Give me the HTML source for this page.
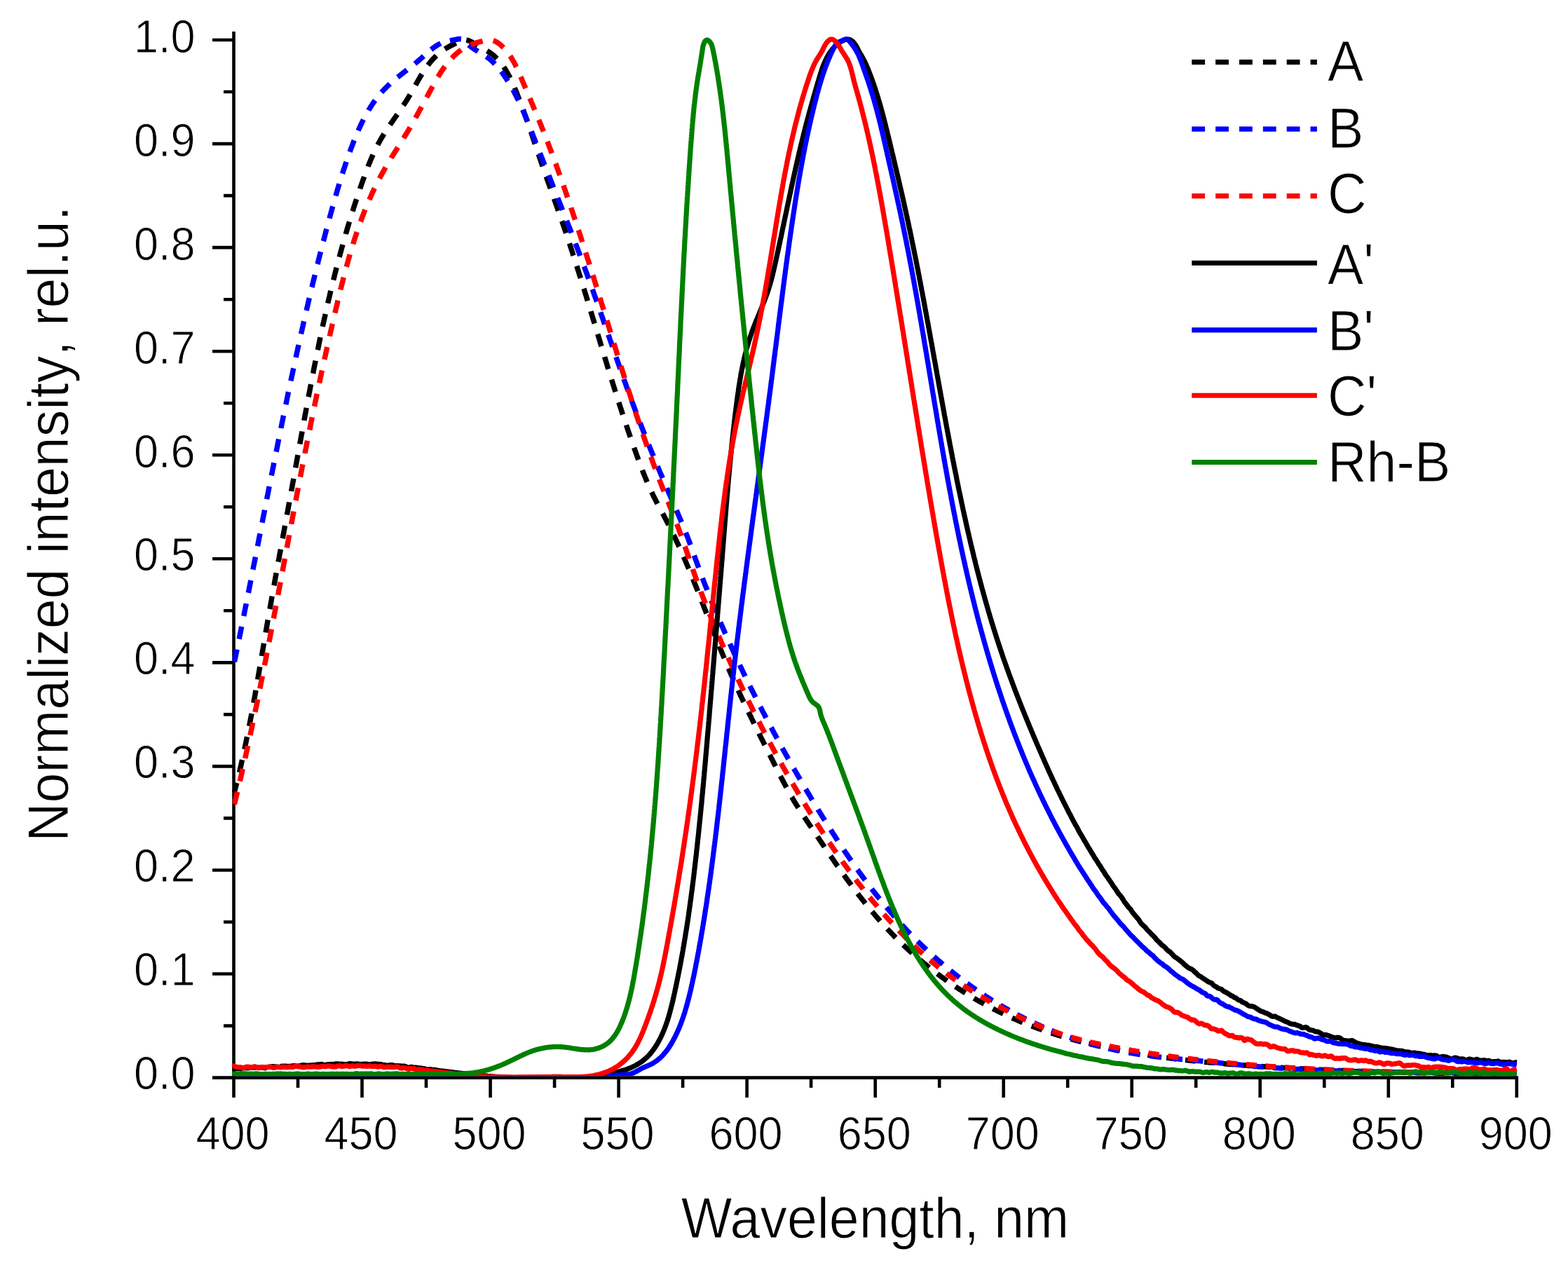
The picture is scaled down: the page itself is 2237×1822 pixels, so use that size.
<!DOCTYPE html>
<html lang="en"><head><meta charset="utf-8"><title>Normalized intensity spectra</title>
<style>html,body{margin:0;padding:0;background:#fff}body{width:2237px;height:1822px;overflow:hidden}svg{display:block}text{font-family:"Liberation Sans",Arial,Helvetica,sans-serif;fill:#000;font-kerning:none;stroke:#fff;stroke-width:0.9px;stroke-linejoin:round}.tk{font-size:63px}.tt{font-size:77px}.lg{font-size:77px}</style></head><body>
<svg xmlns="http://www.w3.org/2000/svg" width="2237" height="1822" viewBox="0 0 2237 1822">
<rect width="2237" height="1822" fill="#fff"/>
<g stroke="#000" stroke-width="4.6" fill="none" stroke-linecap="butt"><path d="M333.5 45.0 V1539.9"/><path d="M331.2 1537.6 H2166.1"/><path d="M333.5 1537.6H303.0M333.5 1463.6H319.0M333.5 1389.5H303.0M333.5 1315.5H319.0M333.5 1241.5H303.0M333.5 1167.4H319.0M333.5 1093.4H303.0M333.5 1019.4H319.0M333.5 945.4H303.0M333.5 871.3H319.0M333.5 797.3H303.0M333.5 723.3H319.0M333.5 649.2H303.0M333.5 575.2H319.0M333.5 501.2H303.0M333.5 427.2H319.0M333.5 353.1H303.0M333.5 279.1H319.0M333.5 205.1H303.0M333.5 131.0H319.0M333.5 57.0H303.0M333.5 1537.6V1566.1M425.0 1537.6V1552.1M516.5 1537.6V1566.1M608.0 1537.6V1552.1M699.6 1537.6V1566.1M791.1 1537.6V1552.1M882.6 1537.6V1566.1M974.1 1537.6V1552.1M1065.6 1537.6V1566.1M1157.1 1537.6V1552.1M1248.7 1537.6V1566.1M1340.2 1537.6V1552.1M1431.7 1537.6V1566.1M1523.2 1537.6V1552.1M1614.7 1537.6V1566.1M1706.2 1537.6V1552.1M1797.7 1537.6V1566.1M1889.3 1537.6V1552.1M1980.8 1537.6V1566.1M2072.3 1537.6V1552.1M2163.8 1537.6V1566.1"/></g>
<defs><clipPath id="plotclip"><rect x="331.2" y="30" width="1833.0" height="1505.3"/></clipPath></defs>
<g fill="none" stroke-width="7.2" stroke-linejoin="round" stroke-linecap="butt" clip-path="url(#plotclip)">
<path stroke="#000000" stroke-width="7.5" d="M334.0 1131.0L334.7 1129.1L335.2 1127.2L335.7 1125.2L336.2 1123.3L336.7 1121.4L337.2 1119.4L337.8 1117.0M341.5 1101.9L341.9 1100.0L342.4 1098.1L342.8 1096.1L343.3 1094.2L343.7 1092.2L344.2 1090.3L344.6 1088.3L345.0 1086.4L345.5 1084.2M348.8 1069.1L349.1 1067.8L349.5 1065.9L349.9 1063.9L350.3 1062.0L350.7 1060.0L351.1 1058.0L351.5 1056.1L351.9 1054.1L352.5 1051.3M355.5 1036.0L355.8 1034.5L356.2 1032.6L356.6 1030.6L357.0 1028.6L357.4 1026.7L357.7 1024.7L358.1 1022.7L358.5 1020.8L359.0 1018.1M361.8 1002.8L362.1 1001.1L362.4 999.1L362.8 997.2L363.2 995.2L363.5 993.2L363.9 991.2L364.2 989.3L364.6 987.3L365.0 984.8M367.7 969.5L368.0 967.6L368.3 965.6L368.7 963.6L369.0 961.7L369.4 959.7L369.7 957.7L370.0 955.8L370.4 953.8L370.8 951.4M373.4 936.0L373.7 934.1L374.1 932.1L374.4 930.1L374.7 928.1L375.1 926.2L375.4 924.2L375.7 922.2L376.1 920.2L376.5 917.9M379.1 902.5L379.4 900.5L379.8 898.6L380.1 896.6L380.5 894.6L380.8 892.6L381.1 890.7L381.5 888.7L381.8 886.7L382.2 884.4M384.9 868.9L385.3 867.0L385.6 865.1L386.0 863.1L386.3 861.1L386.7 859.2L387.0 857.2L387.4 855.2L387.7 853.3L388.2 850.8M390.9 835.4L391.3 833.6L391.6 831.6L392.0 829.6L392.3 827.7L392.7 825.7L393.0 823.7L393.4 821.8L393.8 819.8L394.2 817.3M397.0 801.8L397.3 800.2L397.7 798.2L398.1 796.2L398.4 794.3L398.8 792.3L399.1 790.3L399.5 788.4L399.9 786.4L400.4 783.7M403.2 768.2L403.5 766.7L403.8 764.8L404.2 762.8L404.6 760.8L404.9 758.9L405.3 756.9L405.7 755.0L406.0 753.0L406.6 750.1M409.4 734.6L409.6 733.3L410.0 731.4L410.4 729.4L410.7 727.4L411.1 725.5L411.4 723.5L411.8 721.5L412.2 719.6L412.7 716.5M415.6 701.0L415.9 698.9L416.3 696.9L416.7 695.0L417.0 693.0L417.4 691.0L417.7 689.1L418.1 687.1L418.5 685.1L418.9 682.8M421.7 667.3L422.0 665.5L422.4 663.5L422.7 661.5L423.1 659.5L423.4 657.6L423.8 655.6L424.1 653.6L424.5 651.7L425.0 649.1M427.8 633.7L428.1 632.0L428.4 630.0L428.8 628.0L429.1 626.1L429.5 624.1L429.8 622.1L430.2 620.2L430.6 618.2L431.0 615.5M433.9 600.0L434.1 598.5L434.5 596.5L434.9 594.6L435.2 592.6L435.6 590.6L436.0 588.7L436.3 586.7L436.7 584.7L437.2 581.9M440.1 566.4L440.4 565.1L440.7 563.1L441.1 561.1L441.5 559.2L441.9 557.2L442.2 555.2L442.6 553.3L443.0 551.3L443.6 548.3M446.5 532.8L446.8 531.6L447.2 529.7L447.5 527.7L447.9 525.8L448.3 523.8L448.7 521.8L449.1 519.9L449.5 517.9L449.9 515.9L450.1 514.7M453.2 499.3L453.7 497.3L454.1 495.4L454.5 493.4L454.9 491.4L455.3 489.5L455.7 487.5L456.1 485.6L456.5 483.6L457.0 481.3M460.3 466.0L460.7 464.1L461.1 462.1L461.5 460.2L462.0 458.2L462.4 456.3L462.8 454.3L463.3 452.3L463.7 450.4L464.2 448.0M467.7 432.7L468.1 430.9L468.6 429.0L469.0 427.0L469.5 425.1L470.0 423.1L470.4 421.2L470.9 419.2L471.3 417.3L471.9 414.8M475.7 399.6L476.1 397.9L476.6 395.9L477.1 394.0L477.5 392.1L478.0 390.1L478.5 388.2L479.0 386.3L479.5 384.3L480.2 381.8M484.1 366.7L484.6 365.0L485.1 363.1L485.6 361.1L486.2 359.2L486.7 357.3L487.2 355.4L487.7 353.4L488.3 351.5L489.0 349.0M493.3 334.0L493.7 332.3L494.3 330.4L494.9 328.5L495.4 326.5L496.0 324.6L496.6 322.7L497.1 320.8L497.7 318.9L498.5 316.4M503.0 301.5L503.6 299.8L504.2 297.9L504.8 295.9L505.4 294.0L506.0 292.1L506.6 290.2L507.3 288.3L507.9 286.4L508.6 284.1M513.6 269.4L514.2 267.4L514.9 265.5L515.5 263.7L516.2 261.8L516.9 259.9L517.5 258.0L518.2 256.1L518.9 254.2L519.6 252.1M525.1 237.6L525.5 236.4L526.3 234.5L527.0 232.7L527.8 230.8L528.5 229.0L529.3 227.1L530.1 225.3L530.9 223.5L532.1 220.8M538.9 206.8L539.5 205.6L540.4 203.8L541.4 202.1L542.4 200.3L543.3 198.6L544.3 196.9L545.4 195.2L546.4 193.5L547.9 191.0M556.4 178.1L557.3 176.8L558.4 175.2L559.6 173.6L560.7 171.9L561.8 170.3L563.0 168.6L564.1 167.0L565.3 165.3L566.8 163.1M575.5 150.3L576.6 148.7L577.7 147.0L578.8 145.3L579.9 143.6L580.9 141.9L582.0 140.2L583.0 138.5L584.1 136.7L585.1 134.9M592.8 121.5L593.6 120.0L594.6 118.2L595.6 116.5L596.6 114.7L597.6 113.0L598.6 111.2L599.6 109.5L600.7 107.8L601.9 105.8M610.5 93.0L611.8 91.4L613.0 89.8L614.2 88.3L615.5 86.8L616.8 85.3L618.1 83.9L619.4 82.5L620.8 81.1L622.5 79.4M634.7 70.0L636.5 68.9L638.2 67.9L640.0 66.9L641.8 65.9L643.6 64.9L645.5 64.0L647.3 63.1L649.2 62.2L650.7 61.5M665.3 57.0L666.7 57.3L668.6 57.9L670.4 58.7L672.2 59.6L674.0 60.6L675.8 61.6L677.5 62.6L679.3 63.6L681.5 64.9M694.9 72.5L696.0 73.2L697.7 74.3L699.3 75.4L700.9 76.5L702.5 77.7L704.0 78.9L705.5 80.2L706.9 81.5L709.1 83.6M718.8 95.6L719.5 96.7L720.6 98.4L721.6 100.1L722.6 101.8L723.7 103.6L724.6 105.3L725.6 107.1L726.6 108.9L727.8 111.3M734.2 125.4L734.7 126.7L735.5 128.6L736.3 130.5L737.1 132.4L737.8 134.3L738.6 136.2L739.3 138.1L740.1 140.0L740.9 142.2M746.4 156.6L746.9 158.0L747.6 159.9L748.2 161.7L748.9 163.6L749.6 165.5L750.3 167.4L750.9 169.3L751.6 171.1L752.5 173.7M757.5 188.3L758.1 189.9L758.7 191.8L759.3 193.6L760.0 195.5L760.6 197.4L761.2 199.2L761.9 201.1L762.5 203.0L763.3 205.5M768.3 220.1L768.8 221.7L769.4 223.6L770.1 225.4L770.7 227.3L771.4 229.2L772.0 231.1L772.6 233.0L773.3 234.8L774.1 237.3M779.2 251.9L779.9 253.6L780.5 255.5L781.2 257.4L781.9 259.3L782.5 261.2L783.2 263.0L783.9 264.9L784.5 266.8L785.3 269.0M790.5 283.6L790.9 284.8L791.6 286.6L792.2 288.5L792.9 290.4L793.6 292.3L794.2 294.2L794.9 296.1L795.6 298.0L796.5 300.7M801.6 315.4L802.2 316.9L802.8 318.8L803.5 320.7L804.1 322.6L804.8 324.5L805.4 326.4L806.1 328.3L806.7 330.2L807.5 332.6M812.4 347.3L813.1 349.2L813.7 351.1L814.3 353.0L814.9 355.0L815.6 356.9L816.2 358.8L816.8 360.7L817.4 362.6L818.1 364.7M822.8 379.5L823.2 380.7L823.8 382.6L824.4 384.5L825.0 386.4L825.6 388.3L826.2 390.2L826.8 392.1L827.4 394.0L828.3 396.9M832.9 411.7L833.4 413.1L834.0 415.0L834.5 416.9L835.1 418.8L835.7 420.7L836.3 422.6L836.9 424.6L837.5 426.5L838.3 429.2M842.9 444.1L843.3 445.6L843.9 447.5L844.5 449.4L845.0 451.3L845.6 453.2L846.2 455.1L846.8 457.0L847.4 458.9L848.2 461.6M852.7 476.6L853.2 478.1L853.7 480.0L854.3 481.9L854.9 483.8L855.5 485.7L856.0 487.6L856.6 489.5L857.2 491.4L858.0 494.1M862.6 509.1L863.0 510.6L863.6 512.5L864.2 514.4L864.8 516.3L865.4 518.2L865.9 520.1L866.5 522.0L867.1 523.9L867.9 526.6M872.6 541.5L873.0 543.0L873.6 545.0L874.2 546.9L874.8 548.8L875.4 550.7L876.0 552.6L876.6 554.5L877.2 556.4L878.1 559.1M882.8 574.0L883.3 575.5L883.9 577.4L884.5 579.3L885.1 581.2L885.8 583.1L886.4 585.0L887.0 586.9L887.6 588.8L888.5 591.5M893.5 606.4L893.9 607.8L894.6 609.7L895.2 611.6L895.8 613.5L896.5 615.4L897.1 617.2L897.8 619.1L898.4 621.0L899.4 623.8M904.6 638.7L905.0 639.9L905.7 641.8L906.4 643.7L907.0 645.6L907.7 647.4L908.4 649.3L909.1 651.2L909.8 653.1L910.8 656.0M916.4 670.7L917.1 672.7L917.9 674.6L918.6 676.4L919.4 678.3L920.1 680.1L920.9 682.0L921.6 683.8L922.4 685.7L923.3 687.8M929.7 702.2L930.5 703.9L931.4 705.7L932.2 707.5L933.1 709.3L934.0 711.1L934.9 712.8L935.8 714.6L936.7 716.4L938.0 718.8M945.4 732.7L946.2 734.1L947.1 735.8L948.0 737.6L949.0 739.4L949.9 741.1L950.8 742.9L951.8 744.7L952.7 746.5L954.0 749.1M961.0 763.2L961.6 764.4L962.4 766.2L963.3 768.0L964.1 769.8L965.0 771.6L965.8 773.4L966.7 775.2L967.5 777.0L968.3 778.8L968.9 780.0M975.3 794.4L976.1 796.2L976.9 798.0L977.7 799.9L978.4 801.7L979.2 803.5L980.0 805.4L980.8 807.2L981.6 809.1L982.6 811.5M988.6 826.1L989.2 827.5L989.9 829.4L990.7 831.3L991.4 833.1L992.2 835.0L992.9 836.8L993.7 838.7L994.4 840.5L995.5 843.3M1001.3 858.0L1001.7 859.2L1002.4 861.0L1003.2 862.9L1003.9 864.8L1004.6 866.6L1005.3 868.5L1006.1 870.4L1006.8 872.2L1007.5 874.1L1008.0 875.3M1013.7 890.0L1014.4 891.8L1015.1 893.7L1015.8 895.5L1016.6 897.4L1017.3 899.3L1018.0 901.1L1018.7 903.0L1019.5 904.9L1020.4 907.3M1026.3 922.0L1026.8 923.4L1027.6 925.3L1028.3 927.2L1029.1 929.0L1029.8 930.9L1030.6 932.7L1031.3 934.6L1032.1 936.4L1033.2 939.1M1039.3 953.7L1039.8 954.8L1040.6 956.7L1041.4 958.5L1042.2 960.3L1043.0 962.2L1043.8 964.0L1044.6 965.8L1045.4 967.6L1046.2 969.5L1046.7 970.6M1053.2 985.0L1054.0 986.7L1054.9 988.6L1055.7 990.4L1056.5 992.2L1057.4 994.0L1058.2 995.8L1059.1 997.6L1059.9 999.4L1061.0 1001.7M1067.8 1015.9L1068.5 1017.4L1069.4 1019.2L1070.3 1021.0L1071.2 1022.8L1072.0 1024.6L1072.9 1026.4L1073.8 1028.2L1074.7 1030.0L1075.9 1032.5M1082.9 1046.5L1083.5 1047.9L1084.4 1049.7L1085.3 1051.5L1086.2 1053.2L1087.1 1055.0L1088.0 1056.8L1088.9 1058.6L1089.8 1060.4L1091.1 1063.0M1098.1 1077.0L1098.8 1078.3L1099.7 1080.1L1100.6 1081.9L1101.5 1083.6L1102.4 1085.4L1103.3 1087.2L1104.2 1089.0L1105.1 1090.8L1106.4 1093.4M1113.4 1107.3L1114.1 1108.7L1115.1 1110.5L1116.0 1112.2L1116.9 1114.0L1117.8 1115.8L1118.8 1117.5L1119.7 1119.3L1120.7 1121.1L1122.0 1123.5M1129.5 1137.1L1130.4 1138.5L1131.4 1140.2L1132.4 1142.0L1133.4 1143.7L1134.5 1145.4L1135.5 1147.1L1136.5 1148.8L1137.6 1150.5L1139.0 1152.6M1147.4 1165.6L1148.5 1167.2L1149.6 1168.8L1150.7 1170.5L1151.8 1172.1L1152.9 1173.8L1154.0 1175.5L1155.1 1177.1L1156.3 1178.8L1157.6 1180.7M1166.2 1193.5L1166.8 1194.5L1168.0 1196.2L1169.1 1197.9L1170.2 1199.5L1171.3 1201.2L1172.4 1202.8L1173.6 1204.5L1174.7 1206.1L1176.3 1208.5M1184.9 1221.2L1186.0 1222.7L1187.1 1224.3L1188.2 1226.0L1189.4 1227.6L1190.5 1229.3L1191.6 1230.9L1192.8 1232.6L1193.9 1234.2L1195.2 1236.0M1204.0 1248.4L1204.9 1249.7L1206.1 1251.3L1207.3 1253.0L1208.4 1254.6L1209.6 1256.2L1210.8 1257.8L1212.0 1259.4L1213.2 1261.0L1214.5 1262.9M1223.7 1275.0L1224.6 1276.2L1225.8 1277.8L1227.0 1279.4L1228.3 1280.9L1229.5 1282.5L1230.7 1284.1L1232.0 1285.6L1233.2 1287.2L1234.6 1289.0M1244.2 1300.7L1245.2 1301.9L1246.5 1303.4L1247.8 1304.9L1249.1 1306.4L1250.4 1308.0L1251.7 1309.5L1253.0 1311.0L1254.3 1312.5L1255.7 1314.1M1265.8 1325.2L1267.0 1326.5L1268.4 1328.0L1269.8 1329.4L1271.2 1330.9L1272.6 1332.3L1273.9 1333.7L1275.3 1335.1L1276.7 1336.6L1277.9 1337.8M1288.6 1348.2L1289.6 1349.1L1291.0 1350.5L1292.5 1351.9L1294.0 1353.2L1295.4 1354.6L1296.9 1356.0L1298.4 1357.3L1299.9 1358.6L1301.3 1359.9M1312.5 1369.6L1313.5 1370.5L1315.0 1371.7L1316.5 1373.0L1318.1 1374.3L1319.6 1375.6L1321.2 1376.8L1322.7 1378.1L1324.3 1379.3L1325.8 1380.5M1337.3 1389.4L1338.6 1390.4L1340.2 1391.6L1341.8 1392.8L1343.4 1393.9L1345.0 1395.1L1346.6 1396.3L1348.3 1397.5L1349.9 1398.6L1351.1 1399.5M1363.1 1407.7L1364.8 1408.8L1366.5 1409.9L1368.1 1411.0L1369.8 1412.1L1371.5 1413.2L1373.2 1414.3L1374.9 1415.3L1377.3 1416.8M1389.5 1424.2L1391.1 1425.2L1392.9 1426.2L1394.6 1427.2L1396.4 1428.2L1398.1 1429.2L1399.8 1430.2L1401.6 1431.1L1404.0 1432.5M1416.5 1439.1L1418.4 1440.1L1420.1 1441.0L1421.9 1441.9L1423.7 1442.8L1425.5 1443.7L1427.3 1444.6L1429.1 1445.4L1431.3 1446.5M1443.9 1452.3L1445.4 1453.0L1447.2 1453.8L1449.1 1454.6L1450.9 1455.4L1452.7 1456.2L1454.6 1457.0L1456.4 1457.7L1458.9 1458.8M1471.7 1463.9L1473.1 1464.4L1475.0 1465.1L1476.8 1465.8L1478.7 1466.5L1480.6 1467.2L1482.5 1467.9L1484.3 1468.5L1486.8 1469.4M1499.7 1473.8L1501.3 1474.3L1503.2 1475.0L1505.1 1475.6L1507.0 1476.2L1508.9 1476.8L1510.8 1477.4L1512.7 1478.0L1514.8 1478.6M1527.6 1482.3L1529.0 1482.7L1530.9 1483.3L1532.9 1483.8L1534.8 1484.3L1536.7 1484.8L1538.7 1485.3L1540.6 1485.8L1542.7 1486.4M1555.5 1489.6L1557.1 1490.0L1559.0 1490.4L1561.0 1490.9L1562.9 1491.3L1564.9 1491.8L1566.8 1492.2L1568.8 1492.7L1570.4 1493.0M1583.1 1495.8L1584.4 1496.0L1586.4 1496.4L1588.3 1496.8L1590.3 1497.2L1592.3 1497.6L1594.2 1498.0L1596.2 1498.4L1597.9 1498.7M1610.4 1501.0L1611.9 1501.2L1613.9 1501.6L1615.9 1501.9L1617.9 1502.3L1619.8 1502.6L1621.8 1502.9L1623.8 1503.2L1625.0 1503.5M1637.4 1505.4L1638.6 1505.6L1640.6 1505.9L1642.5 1506.2L1644.5 1506.5L1646.5 1506.7L1648.5 1507.0L1650.5 1507.3L1651.7 1507.5M1664.1 1509.2L1665.3 1509.3L1667.3 1509.6L1669.3 1509.8L1671.3 1510.1L1673.2 1510.3L1675.2 1510.6L1677.2 1510.8L1678.6 1511.0M1691.0 1512.4L1693.1 1512.6L1695.1 1512.9L1697.1 1513.1L1699.1 1513.3L1701.1 1513.5L1703.0 1513.7L1705.5 1514.0M1718.0 1515.2L1720.0 1515.4L1721.9 1515.6L1723.9 1515.7L1725.9 1515.9L1727.9 1516.1L1729.9 1516.3L1732.6 1516.5M1745.1 1517.6L1746.9 1517.7L1748.8 1517.9L1750.8 1518.1L1752.8 1518.2L1754.8 1518.4L1756.8 1518.5L1759.8 1518.8M1772.3 1519.7L1773.8 1519.8L1775.8 1519.9L1777.8 1520.1L1779.8 1520.2L1781.8 1520.4L1783.8 1520.5L1785.7 1520.6L1787.0 1520.7M1799.6 1521.6L1801.7 1521.7L1803.7 1521.8L1805.7 1522.0L1807.7 1522.1L1809.7 1522.2L1811.7 1522.3L1814.3 1522.5M1826.9 1523.2L1828.7 1523.3L1830.7 1523.5L1832.7 1523.6L1834.6 1523.7L1836.6 1523.8L1838.6 1523.9L1841.7 1524.1M1854.2 1524.8L1855.6 1524.8L1857.6 1524.9L1859.6 1525.0L1861.6 1525.1L1863.6 1525.2L1865.6 1525.3L1867.6 1525.4L1869.0 1525.5M1881.6 1526.1L1883.6 1526.2L1885.6 1526.3L1887.6 1526.4L1889.6 1526.5L1891.6 1526.6L1893.6 1526.6L1896.4 1526.8M1909.0 1527.3L1910.5 1527.4L1912.5 1527.4L1914.5 1527.5L1916.5 1527.6L1918.5 1527.7L1920.5 1527.8L1922.5 1527.8L1923.8 1527.9M1936.5 1528.3L1938.5 1528.4L1940.5 1528.5L1942.5 1528.5L1944.5 1528.6L1946.5 1528.7L1948.5 1528.7L1951.3 1528.8M1963.9 1529.2L1965.5 1529.3L1967.5 1529.3L1969.5 1529.4L1971.5 1529.5L1973.5 1529.5L1975.5 1529.6L1977.5 1529.6L1978.7 1529.7M1991.4 1530.0L1993.5 1530.0L1995.5 1530.1L1997.5 1530.1L1999.5 1530.2L2001.5 1530.2L2003.5 1530.3L2006.2 1530.3M2018.8 1530.6L2020.5 1530.6L2022.5 1530.7L2024.5 1530.7L2026.5 1530.7L2028.5 1530.8L2030.5 1530.8L2033.6 1530.9M2046.3 1531.1L2048.5 1531.1L2050.5 1531.1L2052.5 1531.2L2054.5 1531.2L2056.5 1531.2L2058.5 1531.3L2061.1 1531.3M2073.8 1531.5L2075.5 1531.5L2077.5 1531.5L2079.5 1531.5L2081.5 1531.5L2083.5 1531.6L2085.5 1531.6L2088.6 1531.6M2101.3 1531.7L2102.5 1531.7L2104.5 1531.7L2106.5 1531.7L2108.5 1531.7L2110.5 1531.8L2112.5 1531.8L2114.5 1531.8L2116.1 1531.8M2128.7 1531.8L2130.5 1531.8L2132.5 1531.9L2134.5 1531.9L2136.5 1531.9L2138.5 1531.9L2140.5 1531.9L2143.6 1531.9M2156.2 1531.9L2157.5 1531.9L2159.5 1531.9L2161.5 1531.9L2164.0 1532.0"/>
<path stroke="#0000ff" stroke-width="7.5" d="M334.4 944.2L334.9 942.1L335.3 940.1L335.7 938.2L336.1 936.2L336.5 934.3L336.9 932.3L337.3 930.4L337.7 928.4L338.0 926.7M341.1 911.7L341.5 909.8L341.9 907.8L342.3 905.9L342.7 903.9L343.1 901.9L343.5 900.0L343.9 898.0L344.3 896.1L344.7 894.0M347.7 878.9L348.0 877.4L348.4 875.5L348.8 873.5L349.2 871.6L349.6 869.6L350.0 867.6L350.4 865.7L350.8 863.7L351.3 861.1M354.3 845.9L354.7 844.1L355.1 842.1L355.4 840.2L355.8 838.2L356.2 836.3L356.6 834.3L357.0 832.3L357.4 830.4L357.9 828.0M360.9 812.7L361.3 810.8L361.6 808.8L362.0 806.8L362.4 804.9L362.8 802.9L363.2 800.9L363.6 799.0L364.0 797.0L364.4 794.6M367.4 779.3L367.8 777.4L368.2 775.4L368.6 773.5L369.0 771.5L369.4 769.5L369.7 767.6L370.1 765.6L370.5 763.7L371.0 761.2M374.0 745.8L374.4 744.0L374.7 742.1L375.1 740.1L375.5 738.1L375.9 736.2L376.3 734.2L376.7 732.3L377.1 730.3L377.6 727.6M380.6 712.2L380.9 710.7L381.3 708.7L381.7 706.7L382.1 704.8L382.5 702.8L382.9 700.9L383.2 698.9L383.6 696.9L384.2 694.0M387.3 678.5L387.7 676.3L388.1 674.4L388.5 672.4L388.9 670.5L389.3 668.5L389.7 666.5L390.1 664.6L390.4 662.6L390.9 660.3M394.0 644.7L394.4 643.0L394.8 641.0L395.2 639.1L395.6 637.1L396.0 635.2L396.3 633.2L396.7 631.2L397.1 629.3L397.7 626.5M400.9 611.0L401.1 609.7L401.5 607.7L401.9 605.8L402.3 603.8L402.7 601.8L403.1 599.9L403.5 597.9L403.9 596.0L404.3 594.0L404.6 592.8M407.8 577.3L408.2 575.4L408.6 573.4L409.0 571.5L409.4 569.5L409.8 567.6L410.2 565.6L410.6 563.7L411.0 561.7L411.6 559.1M414.9 543.6L415.2 542.1L415.6 540.2L416.0 538.2L416.4 536.3L416.9 534.3L417.3 532.4L417.7 530.4L418.1 528.4L418.8 525.4M422.1 510.0L422.6 507.9L423.0 506.0L423.4 504.0L423.8 502.1L424.3 500.1L424.7 498.2L425.1 496.2L425.6 494.3L426.1 491.9M429.5 476.5L429.9 474.7L430.3 472.8L430.8 470.8L431.2 468.9L431.7 466.9L432.1 465.0L432.5 463.0L433.0 461.1L433.6 458.4M437.1 443.1L437.5 441.6L437.9 439.6L438.4 437.7L438.8 435.8L439.3 433.8L439.7 431.9L440.2 429.9L440.6 428.0L441.3 425.2M444.9 409.9L445.3 408.5L445.7 406.6L446.2 404.6L446.7 402.7L447.1 400.7L447.6 398.8L448.1 396.9L448.6 394.9L449.3 392.1M453.0 376.9L453.4 375.5L453.8 373.6L454.3 371.6L454.8 369.7L455.3 367.7L455.8 365.8L456.3 363.9L456.8 361.9L457.5 359.2M461.3 344.2L461.8 342.6L462.3 340.6L462.8 338.7L463.3 336.8L463.8 334.8L464.3 332.9L464.8 331.0L465.3 329.0L466.0 326.6M470.0 311.7L470.5 309.7L471.0 307.8L471.6 305.8L472.1 303.9L472.6 302.0L473.2 300.1L473.7 298.1L474.2 296.2L474.8 294.3M478.9 279.5L479.4 277.9L480.0 276.0L480.5 274.1L481.1 272.2L481.6 270.2L482.2 268.3L482.8 266.4L483.4 264.5L484.0 262.3M488.5 247.8L489.0 246.3L489.6 244.4L490.2 242.5L490.8 240.6L491.5 238.7L492.1 236.8L492.7 234.9L493.4 233.0L494.1 230.9M499.1 216.7L499.7 215.1L500.3 213.2L501.0 211.3L501.8 209.4L502.5 207.6L503.2 205.7L503.9 203.8L504.6 201.9L505.3 200.2M511.1 186.4L511.9 184.4L512.8 182.5L513.6 180.7L514.4 178.9L515.3 177.1L516.2 175.3L517.0 173.5L517.9 171.8L518.5 170.6M525.7 157.6L526.5 156.1L527.6 154.5L528.6 152.8L529.7 151.1L530.8 149.5L531.9 147.8L533.0 146.2L534.1 144.6L535.1 143.2M544.3 131.7L545.2 130.7L546.5 129.3L547.9 127.8L549.3 126.4L550.7 125.0L552.1 123.6L553.5 122.2L555.0 120.9L556.3 119.6M567.3 110.2L568.8 109.1L570.4 107.8L572.0 106.5L573.6 105.3L575.2 104.0L576.8 102.8L578.4 101.5L580.6 99.8M591.8 90.9L592.8 90.1L594.4 88.8L595.9 87.5L597.5 86.2L599.0 84.9L600.6 83.5L602.1 82.2L604.4 80.1M615.0 70.8L616.4 69.7L617.9 68.5L619.5 67.4L621.1 66.3L622.7 65.2L624.3 64.2L626.0 63.3L628.7 61.9M641.9 58.1L643.9 57.7L645.9 57.3L648.0 56.9L650.1 56.5L652.2 56.0L654.2 55.7L656.1 55.6L657.9 55.8M668.6 64.2L669.7 65.1L671.3 66.3L672.9 67.6L674.6 68.7L676.3 69.9L678.0 70.9L679.7 72.0L682.0 73.4M693.7 80.7L694.9 81.5L696.5 82.7L698.0 83.9L699.6 85.1L701.1 86.4L702.5 87.8L704.0 89.1L706.1 91.3M715.2 102.0L716.3 103.5L717.4 105.1L718.6 106.8L719.7 108.4L720.8 110.1L722.0 111.7L723.0 113.4L724.5 115.8M731.8 128.1L732.6 129.7L733.6 131.4L734.5 133.2L735.4 135.0L736.3 136.7L737.2 138.5L738.1 140.3L739.0 142.1L739.6 143.4M745.7 156.8L746.4 158.5L747.2 160.3L748.0 162.1L748.8 164.0L749.5 165.8L750.3 167.7L751.0 169.5L751.8 171.4L752.5 173.1M758.1 187.2L758.8 189.1L759.5 191.0L760.3 192.8L761.0 194.7L761.7 196.6L762.5 198.4L763.2 200.3L763.9 202.2L764.6 204.0M770.3 218.4L770.9 219.9L771.6 221.7L772.4 223.6L773.1 225.5L773.8 227.3L774.6 229.2L775.3 231.1L776.0 232.9L777.1 235.5M782.9 250.1L783.4 251.5L784.2 253.4L784.9 255.2L785.6 257.1L786.4 259.0L787.1 260.8L787.9 262.7L788.6 264.5L789.7 267.5M795.6 282.3L796.3 284.1L797.1 285.9L797.8 287.8L798.5 289.6L799.3 291.5L800.0 293.3L800.7 295.2L801.5 297.1L802.5 299.8M808.4 314.7L809.1 316.6L809.9 318.5L810.6 320.3L811.3 322.2L812.0 324.0L812.8 325.9L813.5 327.8L814.2 329.6L815.2 332.3M821.0 347.3L821.7 349.2L822.4 351.1L823.2 352.9L823.9 354.8L824.6 356.7L825.3 358.5L826.0 360.4L826.7 362.3L827.7 365.0M833.3 380.1L834.0 381.9L834.7 383.8L835.4 385.7L836.1 387.6L836.8 389.4L837.5 391.3L838.2 393.2L838.8 395.1L839.8 397.8M845.2 412.8L845.9 414.8L846.6 416.7L847.3 418.6L847.9 420.5L848.6 422.4L849.3 424.2L849.9 426.1L850.6 428.0L851.5 430.4M856.7 445.4L857.2 446.9L857.9 448.8L858.5 450.7L859.2 452.6L859.9 454.4L860.5 456.3L861.2 458.2L861.8 460.1L862.8 462.8M867.9 477.5L868.4 479.0L869.0 480.9L869.7 482.8L870.3 484.7L871.0 486.6L871.7 488.5L872.3 490.4L873.0 492.3L873.8 494.8M878.9 509.3L879.5 511.2L880.2 513.0L880.9 514.9L881.5 516.8L882.2 518.7L882.9 520.6L883.5 522.5L884.2 524.4L884.9 526.4M890.0 540.8L890.5 542.3L891.2 544.2L891.9 546.0L892.6 547.9L893.2 549.8L893.9 551.7L894.6 553.6L895.3 555.5L896.1 557.7M901.4 572.1L901.8 573.3L902.5 575.2L903.2 577.0L903.9 578.9L904.6 580.8L905.3 582.7L906.0 584.5L906.7 586.4L907.6 588.9M913.1 603.1L913.9 605.1L914.6 606.9L915.3 608.8L916.0 610.7L916.8 612.5L917.5 614.4L918.2 616.3L919.0 618.1L919.7 619.9M925.4 634.2L926.0 635.8L926.7 637.6L927.5 639.5L928.2 641.3L929.0 643.2L929.8 645.0L930.5 646.9L931.3 648.7L932.2 650.9M938.1 665.2L938.9 667.2L939.7 669.1L940.5 670.9L941.2 672.7L942.0 674.6L942.8 676.4L943.6 678.3L944.4 680.1L945.2 682.1M951.3 696.4L951.8 697.6L952.6 699.4L953.4 701.2L954.2 703.1L955.0 704.9L955.8 706.8L956.6 708.6L957.4 710.4L958.2 712.3L958.7 713.4M965.0 727.9L965.8 729.7L966.6 731.5L967.3 733.4L968.1 735.2L968.9 737.0L969.7 738.9L970.5 740.7L971.3 742.6L972.3 745.0M978.3 759.8L978.8 761.1L979.5 762.9L980.2 764.8L981.0 766.6L981.7 768.5L982.4 770.4L983.1 772.2L983.8 774.1L984.5 776.0L985.0 777.4M990.4 792.4L990.9 793.8L991.5 795.7L992.2 797.6L992.9 799.5L993.6 801.3L994.2 803.2L994.9 805.1L995.6 807.0L996.3 808.8L996.7 810.0M1002.2 824.8L1002.9 826.6L1003.6 828.5L1004.3 830.4L1005.1 832.2L1005.8 834.1L1006.5 836.0L1007.2 837.8L1008.0 839.7L1008.9 842.0M1014.7 856.6L1015.4 858.2L1016.1 860.1L1016.9 862.0L1017.6 863.8L1018.4 865.7L1019.2 867.5L1019.9 869.3L1020.7 871.2L1021.7 873.5M1027.7 887.7L1028.5 889.6L1029.3 891.5L1030.1 893.3L1030.9 895.1L1031.7 897.0L1032.5 898.8L1033.3 900.6L1034.1 902.5L1035.0 904.4M1041.3 918.4L1041.9 919.8L1042.7 921.6L1043.5 923.5L1044.4 925.3L1045.2 927.1L1046.0 928.9L1046.9 930.7L1047.7 932.6L1048.8 934.8M1055.3 948.7L1056.2 950.7L1057.1 952.5L1058.0 954.3L1058.8 956.1L1059.7 957.9L1060.5 959.7L1061.4 961.5L1062.3 963.3L1063.1 965.0M1069.8 978.7L1070.6 980.4L1071.5 982.2L1072.4 984.0L1073.3 985.8L1074.2 987.6L1075.1 989.3L1076.0 991.1L1076.9 992.9L1077.8 994.8M1084.7 1008.4L1085.5 1009.8L1086.4 1011.6L1087.3 1013.4L1088.2 1015.2L1089.2 1017.0L1090.1 1018.7L1091.0 1020.5L1091.9 1022.3L1093.0 1024.3M1100.1 1037.9L1100.8 1039.1L1101.7 1040.8L1102.6 1042.6L1103.6 1044.3L1104.5 1046.1L1105.5 1047.9L1106.4 1049.6L1107.4 1051.4L1108.7 1053.7M1116.0 1067.2L1116.9 1068.9L1117.9 1070.6L1118.9 1072.4L1119.8 1074.1L1120.8 1075.9L1121.8 1077.6L1122.8 1079.4L1123.7 1081.1L1124.8 1083.0M1132.4 1096.5L1133.1 1097.6L1134.1 1099.4L1135.1 1101.1L1136.1 1102.8L1137.1 1104.5L1138.1 1106.3L1139.1 1108.0L1140.1 1109.7L1141.5 1112.2M1149.4 1125.7L1150.2 1127.0L1151.2 1128.7L1152.2 1130.4L1153.2 1132.1L1154.3 1133.8L1155.3 1135.5L1156.3 1137.3L1157.3 1139.0L1158.8 1141.4M1167.0 1154.8L1167.7 1156.1L1168.8 1157.8L1169.8 1159.5L1170.9 1161.2L1171.9 1162.9L1173.0 1164.6L1174.0 1166.3L1175.1 1168.0L1176.7 1170.5M1185.1 1183.9L1185.7 1184.9L1186.8 1186.6L1187.9 1188.3L1189.0 1190.0L1190.1 1191.6L1191.2 1193.3L1192.2 1195.0L1193.3 1196.7L1194.4 1198.3L1195.1 1199.4M1203.9 1212.6L1204.9 1214.2L1206.0 1215.9L1207.2 1217.5L1208.3 1219.2L1209.4 1220.8L1210.5 1222.5L1211.7 1224.1L1212.8 1225.8L1214.3 1227.9M1223.3 1240.8L1224.3 1242.1L1225.5 1243.8L1226.6 1245.4L1227.8 1247.0L1229.0 1248.6L1230.1 1250.2L1231.3 1251.8L1232.5 1253.4L1234.2 1255.7M1243.6 1268.2L1244.5 1269.4L1245.7 1271.0L1247.0 1272.6L1248.2 1274.1L1249.4 1275.7L1250.7 1277.3L1251.9 1278.8L1253.1 1280.4L1254.9 1282.5M1264.7 1294.5L1265.8 1295.8L1267.1 1297.4L1268.4 1298.9L1269.6 1300.4L1270.9 1301.9L1272.2 1303.4L1273.5 1304.9L1274.9 1306.5L1276.4 1308.2M1286.5 1319.5L1287.5 1320.6L1288.9 1322.0L1290.2 1323.5L1291.6 1325.0L1293.0 1326.4L1294.3 1327.9L1295.7 1329.3L1297.1 1330.8L1298.7 1332.4M1309.2 1343.0L1310.5 1344.3L1311.9 1345.7L1313.3 1347.0L1314.8 1348.4L1316.2 1349.8L1317.7 1351.2L1319.1 1352.6L1320.6 1354.0L1321.7 1355.0M1332.4 1364.8L1333.9 1366.1L1335.4 1367.4L1336.9 1368.8L1338.4 1370.1L1339.9 1371.4L1341.4 1372.7L1342.9 1374.0L1345.1 1375.9M1356.0 1384.9L1357.6 1386.1L1359.1 1387.4L1360.7 1388.6L1362.3 1389.9L1363.9 1391.1L1365.4 1392.3L1367.0 1393.5L1368.8 1394.9M1379.8 1403.1L1381.5 1404.3L1383.1 1405.5L1384.7 1406.7L1386.3 1407.8L1388.0 1409.0L1389.6 1410.1L1391.3 1411.3L1392.6 1412.2M1403.4 1419.5L1404.5 1420.2L1406.2 1421.3L1407.9 1422.4L1409.6 1423.5L1411.3 1424.5L1412.9 1425.6L1414.6 1426.7L1416.2 1427.6M1427.1 1434.2L1428.3 1434.9L1430.0 1436.0L1431.8 1437.0L1433.5 1437.9L1435.2 1438.9L1437.0 1439.9L1438.7 1440.9L1439.9 1441.6M1450.9 1447.5L1452.8 1448.5L1454.6 1449.4L1456.4 1450.3L1458.1 1451.2L1459.9 1452.1L1461.7 1453.0L1464.0 1454.1M1475.2 1459.5L1477.0 1460.3L1478.8 1461.1L1480.7 1462.0L1482.5 1462.8L1484.3 1463.6L1486.1 1464.4L1488.6 1465.5M1500.2 1470.3L1501.8 1470.9L1503.7 1471.7L1505.5 1472.4L1507.4 1473.1L1509.2 1473.9L1511.1 1474.6L1513.0 1475.3L1514.1 1475.7M1526.2 1480.1L1528.0 1480.7L1529.9 1481.3L1531.8 1481.9L1533.7 1482.6L1535.6 1483.2L1537.5 1483.8L1539.4 1484.4L1540.7 1484.9M1553.3 1488.7L1554.7 1489.0L1556.6 1489.6L1558.5 1490.1L1560.4 1490.7L1562.4 1491.2L1564.3 1491.7L1566.2 1492.2L1568.4 1492.8M1581.5 1496.0L1582.7 1496.3L1584.7 1496.7L1586.6 1497.2L1588.6 1497.6L1590.5 1498.0L1592.5 1498.5L1594.4 1498.9L1597.0 1499.4M1610.6 1502.0L1612.1 1502.3L1614.0 1502.6L1616.0 1502.9L1618.0 1503.3L1620.0 1503.6L1621.9 1503.9L1623.9 1504.2L1626.7 1504.6M1640.6 1506.5L1642.7 1506.8L1644.7 1507.0L1646.7 1507.3L1648.7 1507.5L1650.6 1507.7L1652.6 1508.0L1654.6 1508.2L1657.1 1508.5M1670.8 1509.9L1672.5 1510.1L1674.5 1510.3L1676.5 1510.4L1678.5 1510.6L1680.5 1510.8L1682.5 1511.0L1684.5 1511.2L1687.0 1511.4M1700.4 1512.7L1702.4 1512.9L1704.4 1513.1L1706.4 1513.2L1708.4 1513.4L1710.4 1513.6L1712.4 1513.8L1714.4 1514.0L1716.4 1514.2M1729.6 1515.5L1731.3 1515.7L1733.3 1515.9L1735.3 1516.1L1737.3 1516.3L1739.3 1516.5L1741.3 1516.7L1743.3 1516.9L1745.3 1517.1M1758.5 1518.4L1760.2 1518.5L1762.2 1518.7L1764.1 1518.9L1766.1 1519.1L1768.1 1519.3L1770.1 1519.5L1772.1 1519.7L1774.0 1519.9M1787.0 1521.0L1789.0 1521.2L1791.0 1521.4L1793.0 1521.5L1795.0 1521.7L1797.0 1521.9L1799.0 1522.0L1801.0 1522.2L1802.4 1522.3M1815.4 1523.3L1816.9 1523.4L1818.9 1523.5L1820.9 1523.7L1822.9 1523.8L1824.9 1523.9L1826.9 1524.1L1828.9 1524.2L1830.7 1524.3M1843.6 1525.1L1844.8 1525.2L1846.8 1525.3L1848.8 1525.4L1850.8 1525.5L1852.8 1525.6L1854.8 1525.7L1856.8 1525.8L1858.8 1525.9M1871.6 1526.5L1873.8 1526.6L1875.8 1526.7L1877.8 1526.8L1879.8 1526.9L1881.8 1527.0L1883.8 1527.1L1886.8 1527.2M1899.6 1527.7L1901.8 1527.7L1903.8 1527.8L1905.8 1527.9L1907.8 1527.9L1909.8 1528.0L1911.8 1528.1L1914.7 1528.1M1927.5 1528.5L1928.8 1528.5L1930.8 1528.6L1932.8 1528.6L1934.8 1528.7L1936.8 1528.7L1938.8 1528.8L1940.8 1528.8L1942.5 1528.9M1955.3 1529.2L1956.8 1529.2L1958.8 1529.2L1960.8 1529.3L1962.8 1529.3L1964.8 1529.3L1966.8 1529.4L1968.8 1529.4L1970.3 1529.4M1983.0 1529.6L1984.8 1529.7L1986.8 1529.7L1988.8 1529.7L1990.8 1529.7L1992.8 1529.8L1994.8 1529.8L1996.8 1529.8L1998.0 1529.8M2010.7 1530.0L2012.8 1530.0L2014.8 1530.1L2016.8 1530.1L2018.8 1530.1L2020.8 1530.1L2022.8 1530.1L2025.7 1530.2M2038.4 1530.3L2039.8 1530.3L2041.8 1530.3L2043.8 1530.4L2045.8 1530.4L2047.8 1530.4L2049.8 1530.4L2051.8 1530.4L2053.3 1530.5M2066.0 1530.6L2067.8 1530.6L2069.8 1530.6L2071.8 1530.6L2073.8 1530.7L2075.8 1530.7L2077.8 1530.7L2080.9 1530.7M2093.6 1530.9L2094.8 1530.9L2096.8 1530.9L2098.8 1531.0L2100.8 1531.0L2102.8 1531.0L2104.8 1531.0L2106.8 1531.1L2108.5 1531.1M2121.2 1531.3L2122.8 1531.3L2124.8 1531.3L2126.8 1531.4L2128.8 1531.4L2130.8 1531.4L2132.8 1531.5L2134.8 1531.5L2136.1 1531.5M2148.7 1531.8L2150.8 1531.8L2152.8 1531.9L2154.8 1531.9L2156.8 1532.0L2158.8 1532.0L2160.8 1532.1L2163.6 1532.1"/>
<path stroke="#ff0000" stroke-width="7.5" d="M334.4 1147.4L334.8 1146.1L335.2 1144.2L335.7 1142.2L336.2 1140.3L336.6 1138.3L337.1 1136.4L337.6 1134.4L338.0 1132.5L338.7 1129.8M342.2 1114.7L342.6 1113.0L343.1 1111.1L343.5 1109.1L344.0 1107.2L344.4 1105.2L344.9 1103.3L345.3 1101.4L345.7 1099.4L346.3 1097.0M349.7 1081.9L350.1 1079.9L350.6 1078.0L351.0 1076.0L351.4 1074.0L351.9 1072.1L352.3 1070.1L352.7 1068.2L353.2 1066.2L353.6 1064.1M356.9 1049.0L357.2 1047.7L357.6 1045.7L358.0 1043.8L358.5 1041.8L358.9 1039.9L359.3 1037.9L359.7 1035.9L360.1 1034.0L360.7 1031.1M363.9 1015.9L364.2 1014.4L364.6 1012.5L365.0 1010.5L365.5 1008.5L365.9 1006.6L366.3 1004.6L366.7 1002.7L367.1 1000.7L367.6 997.9M370.8 982.6L371.1 981.1L371.5 979.2L371.8 977.2L372.2 975.2L372.6 973.3L373.0 971.3L373.4 969.4L373.8 967.4L374.4 964.6M377.4 949.3L377.7 947.8L378.1 945.8L378.5 943.8L378.9 941.9L379.2 939.9L379.6 938.0L380.0 936.0L380.4 934.0L380.9 931.3M383.9 915.9L384.2 914.4L384.6 912.4L385.0 910.5L385.3 908.5L385.7 906.5L386.1 904.6L386.5 902.6L386.8 900.6L387.4 897.8M390.3 882.4L390.6 881.0L391.0 879.0L391.3 877.1L391.7 875.1L392.1 873.1L392.5 871.2L392.8 869.2L393.2 867.2L393.8 864.2M396.7 848.8L396.9 847.6L397.3 845.6L397.6 843.6L398.0 841.7L398.4 839.7L398.8 837.7L399.1 835.8L399.5 833.8L399.9 831.9L400.1 830.7M403.0 815.2L403.4 813.2L403.7 811.2L404.1 809.2L404.5 807.3L404.8 805.3L405.2 803.3L405.6 801.4L405.9 799.4L406.4 797.0M409.3 781.6L409.6 779.7L410.0 777.8L410.3 775.8L410.7 773.9L411.1 771.9L411.4 769.9L411.8 768.0L412.2 766.0L412.7 763.4M415.6 747.9L415.9 746.3L416.2 744.4L416.6 742.4L417.0 740.4L417.3 738.5L417.7 736.5L418.1 734.5L418.5 732.6L419.0 729.7M421.9 714.2L422.2 712.9L422.6 711.0L422.9 709.0L423.3 707.0L423.7 705.1L424.1 703.1L424.4 701.2L424.8 699.2L425.4 696.1M428.4 680.6L428.8 678.6L429.2 676.6L429.5 674.7L429.9 672.7L430.3 670.7L430.7 668.8L431.1 666.8L431.4 664.8L431.9 662.4M435.0 647.0L435.3 645.2L435.7 643.3L436.1 641.3L436.5 639.4L436.9 637.4L437.2 635.4L437.6 633.5L438.0 631.5L438.6 628.8M441.7 613.4L442.0 611.9L442.4 610.0L442.8 608.0L443.1 606.1L443.5 604.1L443.9 602.1L444.3 600.2L444.7 598.2L445.3 595.3M448.5 579.9L448.8 578.7L449.2 576.7L449.6 574.7L450.0 572.8L450.4 570.8L450.8 568.9L451.2 566.9L451.6 565.0L452.0 563.0L452.3 561.8M455.6 546.4L456.0 544.4L456.4 542.5L456.8 540.5L457.2 538.6L457.7 536.6L458.1 534.7L458.5 532.7L458.9 530.8L459.4 528.4M462.8 513.0L463.2 511.2L463.6 509.3L464.1 507.3L464.5 505.4L464.9 503.4L465.4 501.4L465.8 499.5L466.2 497.5L466.8 495.1M470.2 479.8L470.6 478.0L471.1 476.1L471.5 474.1L472.0 472.2L472.4 470.2L472.8 468.3L473.3 466.3L473.7 464.4L474.3 461.8M477.9 446.6L478.3 444.9L478.7 442.9L479.2 441.0L479.7 439.0L480.1 437.1L480.6 435.1L481.1 433.2L481.5 431.2L482.1 428.7M485.8 413.5L486.2 411.7L486.7 409.8L487.2 407.8L487.7 405.9L488.2 403.9L488.7 402.0L489.2 400.1L489.7 398.1L490.3 395.8M494.3 380.7L494.8 378.8L495.3 376.8L495.9 374.9L496.4 373.0L496.9 371.1L497.5 369.1L498.0 367.2L498.6 365.3L499.2 363.1M503.7 348.2L504.3 346.1L504.9 344.2L505.5 342.3L506.1 340.4L506.7 338.5L507.4 336.7L508.0 334.8L508.6 332.9L509.3 330.9M514.4 316.2L514.9 315.0L515.5 313.1L516.2 311.3L516.9 309.4L517.7 307.5L518.4 305.7L519.1 303.8L519.8 302.0L520.9 299.2M526.9 285.0L527.5 283.6L528.3 281.8L529.1 280.0L529.9 278.1L530.7 276.3L531.5 274.5L532.4 272.7L533.2 270.9L534.4 268.5M541.4 254.7L542.2 253.1L543.1 251.3L544.1 249.6L545.0 247.8L546.0 246.1L547.0 244.3L548.0 242.6L549.0 240.8L550.1 238.8M558.1 225.6L558.7 224.4L559.8 222.7L560.9 221.0L561.9 219.3L563.0 217.6L564.0 215.9L565.1 214.2L566.2 212.5L567.6 210.2M575.8 197.2L576.8 195.5L577.8 193.8L578.9 192.1L579.9 190.4L580.9 188.7L582.0 187.0L583.0 185.3L584.0 183.6L585.1 181.7M592.7 168.3L593.3 167.2L594.3 165.5L595.3 163.8L596.2 162.0L597.2 160.3L598.1 158.6L599.1 156.8L600.0 155.1L601.4 152.5M608.7 139.0L609.5 137.5L610.5 135.7L611.4 133.9L612.4 132.1L613.4 130.4L614.3 128.6L615.3 126.8L616.3 125.0L617.3 123.2M624.8 109.8L625.9 108.1L627.0 106.3L628.0 104.6L629.1 102.9L630.2 101.2L631.4 99.5L632.5 97.9L633.7 96.2L634.7 94.8M644.5 83.0L645.7 81.8L647.0 80.4L648.4 79.0L649.9 77.7L651.3 76.4L652.8 75.2L654.3 74.0L655.9 72.8L658.1 71.2M671.5 64.0L673.1 63.3L675.0 62.6L676.9 62.0L678.8 61.3L680.8 60.7L682.7 60.1L684.7 59.6L686.7 59.1L688.6 58.6M703.7 57.9L704.9 58.3L706.6 59.0L708.4 59.9L710.1 61.0L711.7 62.1L713.3 63.3L714.9 64.7L716.4 66.1L718.3 68.0M727.8 79.9L728.8 81.4L729.9 83.1L730.9 84.9L731.9 86.6L732.9 88.3L733.8 90.0L734.8 91.8L735.6 93.6L736.6 95.6M742.9 109.5L743.7 111.5L744.5 113.3L745.2 115.1L746.0 117.0L746.8 118.8L747.5 120.6L748.3 122.4L749.1 124.3L749.9 126.1M755.8 140.2L756.5 141.8L757.3 143.6L758.0 145.4L758.8 147.3L759.6 149.1L760.4 151.0L761.1 152.8L761.9 154.7L762.8 156.8M768.6 170.9L769.2 172.3L770.0 174.2L770.7 176.1L771.5 177.9L772.3 179.8L773.0 181.7L773.7 183.5L774.5 185.4L775.4 187.6M780.9 201.9L781.4 203.1L782.1 205.0L782.8 206.8L783.5 208.7L784.2 210.6L785.0 212.5L785.7 214.3L786.4 216.2L787.3 218.7M792.6 233.2L793.3 234.9L793.9 236.8L794.6 238.7L795.3 240.6L796.0 242.4L796.6 244.3L797.3 246.2L798.0 248.1L798.7 250.1M803.8 264.6L804.3 266.0L804.9 267.8L805.6 269.7L806.2 271.6L806.9 273.5L807.5 275.4L808.2 277.3L808.8 279.2L809.7 281.7M814.7 296.3L815.2 298.1L815.9 299.9L816.5 301.8L817.1 303.7L817.8 305.6L818.4 307.5L819.0 309.4L819.7 311.3L820.4 313.5M825.2 328.2L825.6 329.3L826.2 331.2L826.8 333.1L827.5 335.0L828.1 336.9L828.7 338.8L829.3 340.7L829.9 342.6L830.8 345.4M835.6 360.2L836.0 361.6L836.6 363.6L837.2 365.5L837.8 367.4L838.4 369.3L839.1 371.2L839.7 373.1L840.3 375.0L841.1 377.6M845.7 392.4L846.3 394.1L846.9 396.0L847.5 397.9L848.0 399.8L848.6 401.7L849.2 403.6L849.8 405.5L850.4 407.4L851.2 409.8M855.8 424.7L856.3 426.5L856.9 428.4L857.5 430.3L858.1 432.3L858.7 434.2L859.3 436.1L859.9 438.0L860.5 439.9L861.2 442.2M865.8 457.1L866.4 459.0L866.9 460.9L867.5 462.9L868.1 464.8L868.7 466.7L869.3 468.6L869.9 470.5L870.5 472.4L871.1 474.6M875.7 489.6L876.3 491.6L876.9 493.5L877.5 495.4L878.1 497.3L878.7 499.2L879.3 501.1L879.8 503.0L880.4 504.9L881.1 507.1M885.7 522.1L886.3 524.1L886.9 526.0L887.5 527.9L888.1 529.8L888.7 531.7L889.3 533.6L889.9 535.5L890.5 537.4L891.2 539.7M895.9 554.6L896.5 556.5L897.1 558.4L897.7 560.3L898.4 562.2L899.0 564.1L899.6 566.0L900.2 567.9L900.8 569.8L901.6 572.2M906.4 587.1L907.0 588.9L907.6 590.8L908.2 592.7L908.9 594.6L909.5 596.5L910.1 598.4L910.7 600.3L911.4 602.1L912.2 604.6M917.3 619.5L917.8 621.1L918.4 623.0L919.1 624.9L919.7 626.8L920.4 628.6L921.1 630.5L921.7 632.4L922.4 634.3L923.3 637.0M928.6 651.8L929.1 653.1L929.8 655.0L930.4 656.9L931.1 658.8L931.8 660.6L932.5 662.5L933.2 664.4L933.9 666.3L934.9 669.1M940.5 683.9L941.3 685.9L942.0 687.8L942.7 689.6L943.5 691.5L944.2 693.4L944.9 695.2L945.6 697.1L946.4 698.9L947.2 701.1M953.0 715.7L953.8 717.5L954.5 719.4L955.2 721.2L956.0 723.1L956.7 724.9L957.5 726.8L958.2 728.7L958.9 730.5L959.8 732.8M965.5 747.5L966.2 749.2L966.9 751.0L967.6 752.9L968.3 754.8L969.0 756.6L969.6 758.5L970.3 760.4L971.0 762.3L971.9 764.8M977.1 779.7L977.7 781.2L978.3 783.0L979.0 784.9L979.6 786.8L980.3 788.7L980.9 790.6L981.6 792.5L982.2 794.4L983.1 797.1M988.3 812.0L988.7 813.3L989.4 815.2L990.1 817.1L990.7 819.0L991.4 820.9L992.1 822.8L992.7 824.6L993.4 826.5L994.4 829.3M999.9 844.0L1000.3 845.3L1001.0 847.1L1001.7 849.0L1002.4 850.9L1003.2 852.7L1003.9 854.6L1004.6 856.5L1005.3 858.3L1006.4 861.2M1012.2 875.8L1012.7 876.9L1013.4 878.8L1014.2 880.6L1014.9 882.5L1015.7 884.3L1016.4 886.2L1017.2 888.0L1017.9 889.9L1019.2 892.8M1025.2 907.2L1026.1 909.2L1026.9 911.0L1027.7 912.9L1028.4 914.7L1029.2 916.5L1030.0 918.4L1030.8 920.2L1031.6 922.0L1032.5 924.1M1038.8 938.3L1039.7 940.3L1040.6 942.1L1041.4 943.9L1042.2 945.8L1043.0 947.6L1043.9 949.4L1044.7 951.2L1045.5 953.0L1046.4 955.0M1053.0 969.1L1053.5 970.3L1054.4 972.1L1055.2 973.9L1056.1 975.7L1056.9 977.5L1057.8 979.3L1058.6 981.1L1059.5 982.9L1060.8 985.6M1067.6 999.6L1068.2 1000.9L1069.1 1002.7L1070.0 1004.5L1070.9 1006.3L1071.8 1008.1L1072.7 1009.9L1073.5 1011.7L1074.4 1013.5L1075.6 1015.9M1082.6 1029.7L1083.5 1031.3L1084.4 1033.1L1085.3 1034.9L1086.2 1036.7L1087.1 1038.4L1088.1 1040.2L1089.0 1042.0L1089.9 1043.8L1091.0 1045.8M1098.2 1059.5L1098.8 1060.6L1099.7 1062.3L1100.7 1064.1L1101.6 1065.9L1102.6 1067.6L1103.5 1069.4L1104.5 1071.1L1105.4 1072.9L1106.8 1075.4M1114.2 1088.9L1115.1 1090.4L1116.1 1092.2L1117.0 1093.9L1118.0 1095.7L1119.0 1097.4L1120.0 1099.1L1121.0 1100.9L1122.0 1102.6L1123.1 1104.6M1130.7 1117.8L1131.5 1119.1L1132.5 1120.8L1133.5 1122.5L1134.5 1124.3L1135.5 1126.0L1136.5 1127.7L1137.5 1129.4L1138.6 1131.2L1139.8 1133.3M1147.7 1146.4L1148.3 1147.4L1149.4 1149.1L1150.4 1150.9L1151.5 1152.6L1152.5 1154.3L1153.6 1156.0L1154.6 1157.7L1155.7 1159.4L1157.1 1161.6M1165.1 1174.5L1166.3 1176.3L1167.4 1178.0L1168.5 1179.7L1169.5 1181.3L1170.6 1183.0L1171.7 1184.7L1172.8 1186.4L1173.9 1188.0L1174.8 1189.4M1183.1 1202.0L1183.8 1203.0L1184.9 1204.7L1186.0 1206.4L1187.2 1208.0L1188.3 1209.7L1189.4 1211.3L1190.5 1213.0L1191.7 1214.6L1193.0 1216.6M1201.6 1228.8L1202.5 1230.1L1203.7 1231.8L1204.9 1233.4L1206.0 1235.0L1207.2 1236.6L1208.4 1238.2L1209.6 1239.9L1210.7 1241.5L1211.9 1243.0M1220.8 1254.9L1222.1 1256.7L1223.3 1258.3L1224.5 1259.8L1225.7 1261.4L1227.0 1263.0L1228.2 1264.6L1229.4 1266.1L1230.7 1267.7L1231.4 1268.7M1240.6 1280.2L1241.9 1281.7L1243.2 1283.3L1244.4 1284.8L1245.7 1286.4L1247.0 1287.9L1248.3 1289.4L1249.6 1291.0L1251.6 1293.4M1261.1 1304.4L1262.0 1305.4L1263.3 1306.9L1264.6 1308.4L1266.0 1309.9L1267.3 1311.4L1268.6 1312.8L1270.0 1314.3L1271.3 1315.8L1272.5 1317.1M1282.3 1327.6L1283.7 1329.0L1285.1 1330.4L1286.5 1331.9L1287.9 1333.3L1289.3 1334.8L1290.7 1336.2L1292.1 1337.6L1294.0 1339.6M1304.2 1349.5L1305.7 1350.9L1307.2 1352.3L1308.6 1353.7L1310.1 1355.0L1311.6 1356.4L1313.1 1357.8L1314.5 1359.1L1316.4 1360.8M1326.9 1370.0L1328.1 1371.0L1329.6 1372.3L1331.1 1373.6L1332.6 1374.9L1334.2 1376.2L1335.7 1377.4L1337.3 1378.7L1339.5 1380.5M1350.3 1388.9L1351.4 1389.8L1353.0 1391.0L1354.6 1392.1L1356.2 1393.3L1357.8 1394.5L1359.5 1395.7L1361.1 1396.8L1363.3 1398.4M1374.5 1406.1L1375.9 1407.0L1377.5 1408.1L1379.2 1409.2L1380.9 1410.2L1382.5 1411.3L1384.2 1412.4L1385.9 1413.4L1387.8 1414.7M1399.3 1421.6L1400.4 1422.2L1402.1 1423.3L1403.8 1424.3L1405.5 1425.3L1407.3 1426.3L1409.0 1427.2L1410.7 1428.2L1412.8 1429.4M1424.4 1435.8L1425.6 1436.4L1427.4 1437.4L1429.1 1438.3L1430.9 1439.2L1432.7 1440.2L1434.5 1441.1L1436.2 1442.0L1438.1 1442.9M1449.7 1448.8L1451.4 1449.7L1453.2 1450.5L1455.0 1451.4L1456.8 1452.3L1458.6 1453.1L1460.5 1454.0L1462.3 1454.8L1463.6 1455.4M1475.4 1460.8L1476.9 1461.4L1478.7 1462.2L1480.5 1463.0L1482.4 1463.7L1484.2 1464.5L1486.1 1465.3L1487.9 1466.0L1489.4 1466.6M1501.5 1471.2L1502.9 1471.7L1504.7 1472.4L1506.6 1473.0L1508.5 1473.7L1510.4 1474.3L1512.3 1475.0L1514.2 1475.6L1515.8 1476.1M1528.2 1479.9L1529.4 1480.2L1531.4 1480.8L1533.3 1481.3L1535.2 1481.8L1537.1 1482.3L1539.1 1482.9L1541.0 1483.4L1542.8 1483.8M1555.3 1486.9L1556.5 1487.1L1558.5 1487.6L1560.4 1488.0L1562.4 1488.5L1564.3 1488.9L1566.3 1489.3L1568.2 1489.7L1570.1 1490.1M1582.7 1492.7L1583.9 1492.9L1585.9 1493.3L1587.8 1493.7L1589.8 1494.1L1591.8 1494.5L1593.7 1494.8L1595.7 1495.2L1597.6 1495.6M1610.4 1497.9L1612.4 1498.2L1614.4 1498.6L1616.3 1498.9L1618.3 1499.2L1620.3 1499.6L1622.3 1499.9L1624.2 1500.2L1625.4 1500.4M1638.3 1502.5L1640.0 1502.8L1642.0 1503.1L1644.0 1503.4L1646.0 1503.7L1647.9 1504.0L1649.9 1504.3L1651.9 1504.6L1653.6 1504.8M1666.4 1506.7L1667.7 1506.9L1669.7 1507.1L1671.7 1507.4L1673.7 1507.7L1675.6 1507.9L1677.6 1508.2L1679.6 1508.5L1681.6 1508.7M1694.4 1510.3L1696.5 1510.6L1698.5 1510.8L1700.4 1511.1L1702.4 1511.3L1704.4 1511.6L1706.4 1511.8L1709.5 1512.1M1722.2 1513.6L1724.3 1513.8L1726.3 1514.0L1728.3 1514.2L1730.3 1514.4L1732.3 1514.6L1734.2 1514.8L1737.3 1515.2M1750.0 1516.4L1752.2 1516.6L1754.2 1516.8L1756.1 1517.0L1758.1 1517.2L1760.1 1517.3L1762.1 1517.5L1765.0 1517.8M1777.8 1518.9L1779.1 1519.0L1781.1 1519.1L1783.0 1519.3L1785.0 1519.5L1787.0 1519.6L1789.0 1519.8L1791.0 1519.9L1792.8 1520.1M1805.5 1521.0L1807.0 1521.1L1809.0 1521.3L1811.0 1521.4L1813.0 1521.6L1815.0 1521.7L1817.0 1521.8L1818.9 1522.0L1820.4 1522.1M1833.2 1522.9L1834.9 1523.0L1836.9 1523.1L1838.9 1523.3L1840.9 1523.4L1842.9 1523.5L1844.9 1523.6L1846.9 1523.8L1848.1 1523.8M1860.8 1524.5L1862.9 1524.6L1864.8 1524.8L1866.8 1524.9L1868.8 1525.0L1870.8 1525.1L1872.8 1525.2L1875.7 1525.3M1888.4 1525.9L1889.8 1526.0L1891.8 1526.1L1893.8 1526.2L1895.8 1526.2L1897.8 1526.3L1899.8 1526.4L1901.8 1526.5L1903.3 1526.6M1916.0 1527.1L1917.8 1527.2L1919.8 1527.2L1921.8 1527.3L1923.8 1527.4L1925.8 1527.4L1927.8 1527.5L1930.9 1527.6M1943.6 1528.1L1945.8 1528.1L1947.8 1528.2L1949.8 1528.2L1951.8 1528.3L1953.8 1528.4L1955.8 1528.4L1958.5 1528.5M1971.1 1528.9L1972.7 1528.9L1974.7 1529.0L1976.7 1529.0L1978.7 1529.1L1980.7 1529.1L1982.7 1529.2L1984.7 1529.2L1986.0 1529.2M1998.7 1529.5L2000.7 1529.6L2002.7 1529.6L2004.7 1529.6L2006.7 1529.7L2008.7 1529.7L2010.7 1529.8L2013.6 1529.8M2026.2 1530.0L2027.7 1530.1L2029.7 1530.1L2031.7 1530.1L2033.7 1530.2L2035.7 1530.2L2037.7 1530.2L2039.7 1530.3L2041.1 1530.3M2053.8 1530.5L2055.7 1530.5L2057.7 1530.5L2059.7 1530.5L2061.7 1530.6L2063.7 1530.6L2065.7 1530.6L2068.6 1530.6M2081.3 1530.8L2082.7 1530.8L2084.7 1530.8L2086.7 1530.8L2088.7 1530.9L2090.7 1530.9L2092.7 1530.9L2094.7 1530.9L2096.2 1530.9M2108.8 1531.0L2110.7 1531.1L2112.7 1531.1L2114.7 1531.1L2116.7 1531.1L2118.7 1531.1L2120.7 1531.1L2123.7 1531.2M2136.3 1531.3L2137.7 1531.3L2139.7 1531.3L2141.7 1531.3L2143.7 1531.3L2145.7 1531.3L2147.7 1531.4L2149.7 1531.4L2151.2 1531.4"/>
<path stroke="#000000" d="M331.3 1524.5L333.3 1524.5L335.3 1524.6L337.3 1525.0L339.3 1525.0L341.3 1524.7L343.3 1524.3L345.3 1524.2L347.3 1524.0L349.3 1523.7L351.3 1523.7L353.3 1523.9L355.3 1523.7L357.3 1523.2L359.3 1523.0L361.2 1523.1L363.2 1523.1L365.2 1523.1L367.2 1523.1L369.2 1523.2L371.2 1523.1L373.2 1523.2L375.2 1523.3L377.2 1523.9L379.2 1523.4L381.2 1522.7L383.2 1522.1L385.2 1522.3L387.2 1521.8L389.2 1521.7L391.2 1521.8L393.2 1521.9L395.2 1522.1L397.2 1522.4L399.2 1522.4L401.2 1521.4L403.2 1521.2L405.2 1521.2L407.2 1521.1L409.2 1521.3L411.2 1521.3L413.2 1521.3L415.2 1521.1L417.2 1520.8L419.2 1520.6L421.2 1520.6L423.2 1521.0L425.2 1521.2L427.2 1520.9L429.2 1520.3L431.2 1519.8L433.2 1519.5L435.2 1520.0L437.2 1520.1L439.2 1520.3L441.2 1520.0L443.2 1519.9L445.2 1519.9L447.2 1519.7L449.2 1520.0L451.2 1519.0L453.2 1518.8L455.2 1518.9L457.2 1518.7L459.2 1518.4L461.2 1519.4L463.2 1519.8L465.2 1519.0L467.2 1518.9L469.2 1518.5L471.2 1518.5L473.2 1518.4L475.2 1518.7L477.2 1518.4L479.2 1517.8L481.2 1517.8L483.2 1518.0L485.2 1518.3L487.2 1518.2L489.2 1518.4L491.2 1518.7L493.2 1518.9L495.2 1518.6L497.2 1517.9L499.2 1517.6L501.2 1517.7L503.2 1518.0L505.2 1518.0L507.2 1518.0L509.2 1517.8L511.2 1518.1L513.2 1518.3L515.2 1518.6L517.2 1518.4L519.2 1518.0L521.2 1518.0L523.2 1518.2L525.2 1518.9L527.2 1518.7L529.2 1518.6L531.2 1518.2L533.2 1518.1L535.2 1517.8L537.1 1518.1L539.1 1518.4L541.1 1518.3L543.1 1518.5L545.1 1519.0L547.1 1519.6L549.1 1519.6L551.1 1520.0L553.1 1520.3L555.1 1519.9L557.1 1519.5L559.1 1519.6L561.1 1520.1L563.1 1520.4L565.1 1520.9L567.1 1520.6L569.0 1520.8L571.0 1520.9L573.0 1521.3L575.0 1521.0L577.0 1521.1L579.0 1521.7L581.0 1523.0L583.0 1523.3L585.0 1522.6L587.0 1522.3L588.9 1522.9L590.9 1523.1L592.9 1523.1L594.9 1523.4L596.9 1523.9L598.9 1523.8L600.9 1524.1L602.9 1524.6L604.9 1524.6L606.8 1525.2L608.8 1525.9L610.8 1526.0L612.8 1525.6L614.8 1525.9L616.8 1526.3L618.8 1526.3L620.8 1526.4L622.7 1526.8L624.7 1527.3L626.7 1527.5L628.7 1527.8L630.7 1528.0L632.7 1528.2L634.7 1528.5L636.7 1528.7L638.6 1529.0L640.6 1529.2L642.6 1529.5L644.6 1529.7L646.6 1530.0L648.6 1530.2L650.6 1530.5L652.5 1530.7L654.5 1531.0L656.5 1531.2L658.5 1531.4L660.5 1531.7L662.5 1531.9L664.5 1532.1L666.4 1532.4L668.4 1532.6L670.4 1532.8L672.4 1533.0L674.4 1533.2L676.4 1533.5L678.4 1533.7L680.3 1533.9L682.3 1534.1L684.3 1534.3L686.3 1534.5L688.3 1534.7L690.3 1534.8L692.3 1535.0L694.2 1535.2L696.2 1535.4L698.2 1535.5L700.2 1535.7L702.2 1535.8L704.2 1536.0L706.2 1536.1L708.2 1536.3L710.2 1536.4L712.2 1536.5L714.1 1536.6L716.1 1536.7L718.1 1536.8L720.1 1536.9L722.1 1537.0L724.1 1537.1L726.1 1537.2L728.1 1537.2L730.1 1537.3L732.1 1537.3L734.1 1537.4L736.1 1537.4L738.1 1537.4L740.1 1537.4L742.1 1537.4L744.1 1537.4L746.1 1537.4L748.1 1537.4L750.1 1537.3L752.1 1537.3L754.1 1537.3L756.1 1537.2L758.1 1537.2L760.1 1537.1L762.1 1537.1L764.1 1537.0L766.1 1537.0L768.1 1536.9L770.1 1536.9L772.1 1536.8L774.1 1536.7L776.1 1536.7L778.1 1536.6L780.1 1536.6L782.1 1536.5L784.1 1536.5L786.2 1536.5L788.2 1536.4L790.2 1536.4L792.2 1536.4L794.2 1536.4L796.2 1536.4L798.2 1536.4L800.2 1536.4L802.2 1536.5L804.2 1536.5L806.2 1536.5L808.2 1536.6L810.2 1536.6L812.2 1536.7L814.2 1536.8L816.2 1536.8L818.2 1536.9L820.2 1536.9L822.2 1536.9L824.2 1537.0L826.2 1537.0L828.2 1537.0L830.2 1537.0L832.2 1537.0L834.2 1536.9L836.2 1536.9L838.2 1536.8L840.2 1536.7L842.1 1536.6L844.1 1536.5L846.1 1536.3L848.1 1536.1L850.1 1535.9L852.1 1535.6L854.0 1535.4L856.0 1535.0L858.0 1534.7L860.0 1534.4L862.0 1534.0L863.9 1533.6L865.9 1533.2L867.8 1532.7L869.8 1532.3L871.8 1531.8L873.7 1531.3L875.6 1530.8L877.6 1530.4L879.5 1529.9L881.5 1529.4L883.4 1528.9L885.3 1528.3L887.2 1527.8L889.1 1527.3L891.0 1526.7L892.9 1526.1L894.8 1525.4L896.6 1524.7L898.5 1524.0L900.4 1523.2L902.2 1522.4L904.0 1521.5L905.8 1520.6L907.6 1519.6L909.3 1518.6L911.1 1517.6L912.8 1516.5L914.4 1515.4L916.1 1514.2L917.7 1513.0L919.2 1511.7L920.7 1510.4L922.2 1509.1L923.7 1507.7L925.1 1506.3L926.4 1504.8L927.7 1503.3L929.0 1501.8L930.3 1500.2L931.5 1498.6L932.7 1497.0L933.8 1495.4L934.9 1493.7L936.0 1492.0L937.1 1490.3L938.1 1488.6L939.1 1486.9L940.0 1485.1L941.0 1483.3L941.9 1481.6L942.8 1479.8L943.6 1478.0L944.5 1476.2L945.3 1474.4L946.1 1472.6L946.8 1470.7L947.6 1468.9L948.3 1467.0L949.0 1465.2L949.7 1463.3L950.4 1461.4L951.0 1459.6L951.7 1457.7L952.3 1455.8L952.9 1453.9L953.5 1452.0L954.1 1450.1L954.6 1448.1L955.2 1446.2L955.7 1444.3L956.2 1442.4L956.7 1440.4L957.2 1438.5L957.7 1436.6L958.2 1434.6L958.7 1432.7L959.2 1430.7L959.6 1428.8L960.1 1426.8L960.5 1424.8L961.0 1422.9L961.4 1420.9L961.8 1419.0L962.3 1417.0L962.7 1415.1L963.1 1413.1L963.5 1411.1L964.0 1409.2L964.4 1407.2L964.8 1405.3L965.2 1403.3L965.6 1401.3L966.0 1399.4L966.4 1397.4L966.8 1395.4L967.2 1393.5L967.6 1391.5L968.0 1389.5L968.4 1387.6L968.8 1385.6L969.2 1383.6L969.6 1381.7L969.9 1379.7L970.3 1377.7L970.7 1375.8L971.0 1373.8L971.4 1371.8L971.8 1369.9L972.1 1367.9L972.5 1365.9L972.9 1364.0L973.2 1362.0L973.6 1360.0L973.9 1358.1L974.3 1356.1L974.6 1354.1L974.9 1352.1L975.3 1350.2L975.6 1348.2L975.9 1346.2L976.3 1344.3L976.6 1342.3L976.9 1340.3L977.3 1338.3L977.6 1336.4L977.9 1334.4L978.2 1332.4L978.5 1330.4L978.8 1328.5L979.2 1326.5L979.5 1324.5L979.8 1322.5L980.1 1320.6L980.4 1318.6L980.7 1316.6L981.0 1314.6L981.3 1312.7L981.6 1310.7L981.9 1308.7L982.2 1306.7L982.4 1304.7L982.7 1302.8L983.0 1300.8L983.3 1298.8L983.6 1296.8L983.9 1294.8L984.1 1292.9L984.4 1290.9L984.7 1288.9L984.9 1286.9L985.2 1284.9L985.5 1283.0L985.8 1281.0L986.0 1279.0L986.3 1277.0L986.5 1275.0L986.8 1273.1L987.1 1271.1L987.3 1269.1L987.6 1267.1L987.8 1265.1L988.1 1263.1L988.3 1261.2L988.6 1259.2L988.8 1257.2L989.1 1255.2L989.3 1253.2L989.6 1251.2L989.8 1249.3L990.0 1247.3L990.3 1245.3L990.5 1243.3L990.7 1241.3L991.0 1239.3L991.2 1237.3L991.4 1235.4L991.7 1233.4L991.9 1231.4L992.1 1229.4L992.4 1227.4L992.6 1225.4L992.8 1223.4L993.0 1221.5L993.3 1219.5L993.5 1217.5L993.7 1215.5L993.9 1213.5L994.1 1211.5L994.4 1209.5L994.6 1207.5L994.8 1205.6L995.0 1203.6L995.2 1201.6L995.4 1199.6L995.6 1197.6L995.9 1195.6L996.1 1193.6L996.3 1191.6L996.5 1189.6L996.7 1187.7L996.9 1185.7L997.1 1183.7L997.3 1181.7L997.5 1179.7L997.7 1177.7L997.9 1175.7L998.1 1173.7L998.3 1171.7L998.5 1169.8L998.7 1167.8L998.9 1165.8L999.1 1163.8L999.3 1161.8L999.5 1159.8L999.7 1157.8L999.9 1155.8L1000.1 1153.8L1000.3 1151.8L1000.5 1149.9L1000.7 1147.9L1000.9 1145.9L1001.1 1143.9L1001.2 1141.9L1001.4 1139.9L1001.6 1137.9L1001.8 1135.9L1002.0 1133.9L1002.2 1131.9L1002.4 1129.9L1002.6 1128.0L1002.7 1126.0L1002.9 1124.0L1003.1 1122.0L1003.3 1120.0L1003.5 1118.0L1003.7 1116.0L1003.8 1114.0L1004.0 1112.0L1004.2 1110.0L1004.4 1108.0L1004.6 1106.0L1004.7 1104.0L1004.9 1102.1L1005.1 1100.1L1005.3 1098.1L1005.4 1096.1L1005.6 1094.1L1005.8 1092.1L1006.0 1090.1L1006.2 1088.1L1006.3 1086.1L1006.5 1084.1L1006.7 1082.1L1006.8 1080.1L1007.0 1078.1L1007.2 1076.2L1007.4 1074.2L1007.5 1072.2L1007.7 1070.2L1007.9 1068.2L1008.1 1066.2L1008.2 1064.2L1008.4 1062.2L1008.6 1060.2L1008.7 1058.2L1008.9 1056.2L1009.1 1054.2L1009.2 1052.2L1009.4 1050.2L1009.6 1048.2L1009.7 1046.3L1009.9 1044.3L1010.1 1042.3L1010.3 1040.3L1010.4 1038.3L1010.6 1036.3L1010.8 1034.3L1010.9 1032.3L1011.1 1030.3L1011.3 1028.3L1011.4 1026.3L1011.6 1024.3L1011.8 1022.3L1011.9 1020.3L1012.1 1018.3L1012.2 1016.4L1012.4 1014.4L1012.6 1012.4L1012.7 1010.4L1012.9 1008.4L1013.1 1006.4L1013.2 1004.4L1013.4 1002.4L1013.6 1000.4L1013.7 998.4L1013.9 996.4L1014.1 994.4L1014.2 992.4L1014.4 990.4L1014.6 988.4L1014.7 986.4L1014.9 984.5L1015.1 982.5L1015.2 980.5L1015.4 978.5L1015.6 976.5L1015.7 974.5L1015.9 972.5L1016.1 970.5L1016.2 968.5L1016.4 966.5L1016.5 964.5L1016.7 962.5L1016.9 960.5L1017.0 958.5L1017.2 956.5L1017.4 954.6L1017.5 952.6L1017.7 950.6L1017.9 948.6L1018.0 946.6L1018.2 944.6L1018.4 942.6L1018.5 940.6L1018.7 938.6L1018.8 936.6L1019.0 934.6L1019.2 932.6L1019.3 930.6L1019.5 928.6L1019.7 926.6L1019.8 924.7L1020.0 922.7L1020.2 920.7L1020.3 918.7L1020.5 916.7L1020.7 914.7L1020.8 912.7L1021.0 910.7L1021.1 908.7L1021.3 906.7L1021.5 904.7L1021.6 902.7L1021.8 900.7L1022.0 898.7L1022.1 896.8L1022.3 894.8L1022.4 892.8L1022.6 890.8L1022.8 888.8L1022.9 886.8L1023.1 884.8L1023.3 882.8L1023.4 880.8L1023.6 878.8L1023.7 876.8L1023.9 874.8L1024.1 872.8L1024.2 870.8L1024.4 868.8L1024.6 866.9L1024.7 864.9L1024.9 862.9L1025.0 860.9L1025.2 858.9L1025.4 856.9L1025.5 854.9L1025.7 852.9L1025.8 850.9L1026.0 848.9L1026.2 846.9L1026.3 844.9L1026.5 842.9L1026.7 840.9L1026.8 838.9L1027.0 837.0L1027.1 835.0L1027.3 833.0L1027.5 831.0L1027.6 829.0L1027.8 827.0L1027.9 825.0L1028.1 823.0L1028.3 821.0L1028.4 819.0L1028.6 817.0L1028.7 815.0L1028.9 813.0L1029.0 811.0L1029.2 809.0L1029.4 807.1L1029.5 805.1L1029.7 803.1L1029.8 801.1L1030.0 799.1L1030.2 797.1L1030.3 795.1L1030.5 793.1L1030.6 791.1L1030.8 789.1L1030.9 787.1L1031.1 785.1L1031.3 783.1L1031.4 781.1L1031.6 779.1L1031.7 777.1L1031.9 775.2L1032.0 773.2L1032.2 771.2L1032.4 769.2L1032.5 767.2L1032.7 765.2L1032.8 763.2L1033.0 761.2L1033.1 759.2L1033.3 757.2L1033.5 755.2L1033.6 753.2L1033.8 751.2L1033.9 749.2L1034.1 747.2L1034.2 745.3L1034.4 743.3L1034.6 741.3L1034.7 739.3L1034.9 737.3L1035.0 735.3L1035.2 733.3L1035.4 731.3L1035.5 729.3L1035.7 727.3L1035.9 725.3L1036.0 723.3L1036.2 721.3L1036.3 719.3L1036.5 717.4L1036.7 715.4L1036.8 713.4L1037.0 711.4L1037.2 709.4L1037.3 707.4L1037.5 705.4L1037.7 703.4L1037.9 701.4L1038.0 699.4L1038.2 697.4L1038.4 695.4L1038.5 693.4L1038.7 691.4L1038.9 689.5L1039.1 687.5L1039.2 685.5L1039.4 683.5L1039.6 681.5L1039.8 679.5L1040.0 677.5L1040.1 675.5L1040.3 673.5L1040.5 671.5L1040.7 669.5L1040.9 667.5L1041.1 665.6L1041.2 663.6L1041.4 661.6L1041.6 659.6L1041.8 657.6L1042.0 655.6L1042.2 653.6L1042.4 651.6L1042.6 649.6L1042.8 647.6L1043.0 645.6L1043.2 643.7L1043.4 641.7L1043.6 639.7L1043.8 637.7L1044.0 635.7L1044.2 633.7L1044.4 631.7L1044.6 629.7L1044.8 627.7L1045.0 625.7L1045.2 623.8L1045.5 621.8L1045.7 619.8L1045.9 617.8L1046.1 615.8L1046.3 613.8L1046.6 611.8L1046.8 609.8L1047.0 607.8L1047.2 605.9L1047.5 603.9L1047.7 601.9L1047.9 599.9L1048.2 597.9L1048.4 595.9L1048.6 593.9L1048.9 591.9L1049.1 589.9L1049.3 588.0L1049.6 586.0L1049.8 584.0L1050.1 582.0L1050.3 580.0L1050.6 578.0L1050.8 576.0L1051.1 574.1L1051.4 572.1L1051.6 570.1L1051.9 568.1L1052.1 566.1L1052.4 564.1L1052.7 562.1L1053.0 560.2L1053.3 558.2L1053.5 556.2L1053.8 554.2L1054.1 552.2L1054.4 550.3L1054.7 548.3L1055.1 546.3L1055.4 544.3L1055.7 542.4L1056.0 540.4L1056.4 538.4L1056.7 536.5L1057.0 534.5L1057.4 532.5L1057.8 530.6L1058.1 528.6L1058.5 526.6L1058.9 524.7L1059.3 522.7L1059.7 520.8L1060.1 518.8L1060.5 516.9L1061.0 514.9L1061.4 513.0L1061.8 511.0L1062.3 509.1L1062.8 507.2L1063.2 505.2L1063.7 503.3L1064.2 501.4L1064.7 499.4L1065.2 497.5L1065.8 495.6L1066.3 493.7L1066.9 491.8L1067.4 489.8L1068.0 487.9L1068.6 486.0L1069.2 484.1L1069.8 482.2L1070.4 480.3L1071.1 478.4L1071.7 476.5L1072.4 474.7L1073.0 472.8L1073.7 470.9L1074.4 469.0L1075.1 467.2L1075.9 465.3L1076.6 463.4L1077.3 461.6L1078.1 459.7L1078.8 457.8L1079.6 456.0L1080.4 454.1L1081.1 452.3L1081.9 450.4L1082.7 448.5L1083.4 446.7L1084.2 444.8L1085.0 443.0L1085.7 441.1L1086.5 439.3L1087.2 437.4L1088.0 435.5L1088.7 433.7L1089.5 431.8L1090.2 429.9L1090.9 428.1L1091.6 426.2L1092.4 424.3L1093.0 422.4L1093.7 420.6L1094.4 418.7L1095.0 416.8L1095.7 414.9L1096.3 413.0L1096.9 411.1L1097.5 409.2L1098.1 407.3L1098.6 405.4L1099.2 403.4L1099.7 401.5L1100.3 399.6L1100.8 397.7L1101.3 395.7L1101.8 393.8L1102.3 391.9L1102.7 389.9L1103.2 388.0L1103.7 386.0L1104.1 384.1L1104.6 382.1L1105.0 380.2L1105.5 378.2L1105.9 376.3L1106.3 374.3L1106.8 372.4L1107.2 370.4L1107.6 368.5L1108.1 366.5L1108.5 364.6L1108.9 362.6L1109.3 360.7L1109.8 358.7L1110.2 356.8L1110.6 354.8L1111.0 352.8L1111.4 350.9L1111.9 348.9L1112.3 347.0L1112.7 345.0L1113.1 343.1L1113.5 341.1L1114.0 339.2L1114.4 337.2L1114.8 335.2L1115.2 333.3L1115.6 331.3L1116.0 329.4L1116.4 327.4L1116.8 325.4L1117.3 323.5L1117.7 321.5L1118.1 319.6L1118.5 317.6L1118.9 315.7L1119.3 313.7L1119.7 311.7L1120.1 309.8L1120.5 307.8L1121.0 305.9L1121.4 303.9L1121.8 301.9L1122.2 300.0L1122.6 298.0L1123.0 296.1L1123.4 294.1L1123.8 292.2L1124.2 290.2L1124.7 288.2L1125.1 286.3L1125.5 284.3L1125.9 282.4L1126.3 280.4L1126.7 278.4L1127.2 276.5L1127.6 274.5L1128.0 272.6L1128.4 270.6L1128.8 268.7L1129.2 266.7L1129.7 264.7L1130.1 262.8L1130.5 260.8L1130.9 258.9L1131.4 256.9L1131.8 255.0L1132.2 253.0L1132.6 251.1L1133.1 249.1L1133.5 247.2L1133.9 245.2L1134.4 243.3L1134.8 241.3L1135.2 239.3L1135.7 237.4L1136.1 235.4L1136.6 233.5L1137.0 231.5L1137.4 229.6L1137.9 227.6L1138.3 225.7L1138.8 223.8L1139.2 221.8L1139.7 219.9L1140.1 217.9L1140.6 216.0L1141.1 214.0L1141.5 212.1L1142.0 210.1L1142.4 208.2L1142.9 206.2L1143.4 204.3L1143.9 202.4L1144.3 200.4L1144.8 198.5L1145.3 196.5L1145.8 194.6L1146.2 192.7L1146.7 190.7L1147.2 188.8L1147.7 186.9L1148.2 184.9L1148.7 183.0L1149.2 181.0L1149.7 179.1L1150.2 177.2L1150.7 175.2L1151.2 173.3L1151.7 171.4L1152.2 169.5L1152.8 167.5L1153.3 165.6L1153.8 163.7L1154.3 161.7L1154.8 159.8L1155.4 157.9L1155.9 156.0L1156.4 154.0L1157.0 152.1L1157.5 150.2L1158.0 148.3L1158.6 146.3L1159.1 144.4L1159.7 142.5L1160.2 140.6L1160.8 138.6L1161.3 136.7L1161.9 134.8L1162.4 132.9L1163.0 130.9L1163.5 129.0L1164.1 127.1L1164.7 125.1L1165.2 123.2L1165.8 121.3L1166.3 119.4L1166.9 117.4L1167.5 115.5L1168.0 113.6L1168.6 111.6L1169.2 109.7L1169.8 107.8L1170.4 105.8L1171.0 103.9L1171.6 102.0L1172.2 100.1L1172.8 98.2L1173.5 96.3L1174.2 94.5L1174.9 92.6L1175.7 90.7L1176.4 88.9L1177.2 87.1L1178.1 85.3L1179.0 83.5L1179.9 81.8L1180.8 80.0L1181.8 78.3L1182.9 76.7L1183.9 75.0L1185.1 73.4L1186.3 71.8L1187.5 70.2L1188.8 68.7L1190.2 67.2L1191.6 65.8L1193.0 64.4L1194.6 63.1L1196.2 61.8L1197.8 60.6L1199.5 59.5L1201.3 58.5L1203.2 57.6L1205.1 56.8L1207.0 56.2L1209.0 56.0L1210.8 56.1L1212.7 56.7L1214.4 57.6L1216.0 58.8L1217.5 60.2L1218.8 61.8L1220.0 63.4L1221.1 65.1L1222.2 66.9L1223.1 68.7L1224.1 70.6L1225.0 72.4L1226.0 74.2L1227.0 76.0L1228.0 77.7L1229.0 79.4L1230.0 81.1L1230.9 82.9L1231.9 84.6L1232.8 86.3L1233.7 88.1L1234.6 89.9L1235.4 91.7L1236.2 93.5L1237.0 95.4L1237.8 97.2L1238.6 99.1L1239.3 100.9L1240.0 102.8L1240.8 104.7L1241.5 106.5L1242.2 108.4L1242.9 110.3L1243.6 112.2L1244.3 114.0L1244.9 115.9L1245.6 117.8L1246.3 119.7L1246.9 121.6L1247.5 123.5L1248.2 125.4L1248.8 127.3L1249.4 129.2L1250.0 131.1L1250.6 133.0L1251.2 134.9L1251.8 136.8L1252.4 138.7L1253.0 140.6L1253.5 142.5L1254.1 144.4L1254.7 146.4L1255.2 148.3L1255.8 150.2L1256.3 152.1L1256.9 154.0L1257.4 156.0L1257.9 157.9L1258.4 159.8L1259.0 161.8L1259.5 163.7L1260.0 165.6L1260.5 167.6L1261.0 169.5L1261.5 171.4L1262.0 173.4L1262.5 175.3L1263.0 177.2L1263.5 179.2L1263.9 181.1L1264.4 183.1L1264.9 185.0L1265.4 186.9L1265.9 188.9L1266.3 190.8L1266.8 192.8L1267.3 194.7L1267.8 196.7L1268.2 198.6L1268.7 200.6L1269.2 202.5L1269.6 204.5L1270.1 206.4L1270.6 208.3L1271.0 210.3L1271.5 212.2L1272.0 214.2L1272.4 216.1L1272.9 218.1L1273.4 220.0L1273.8 222.0L1274.3 223.9L1274.8 225.9L1275.2 227.8L1275.7 229.8L1276.1 231.7L1276.6 233.6L1277.1 235.6L1277.5 237.5L1278.0 239.5L1278.4 241.4L1278.9 243.4L1279.4 245.3L1279.8 247.3L1280.3 249.2L1280.7 251.2L1281.2 253.1L1281.6 255.1L1282.1 257.0L1282.5 259.0L1283.0 260.9L1283.4 262.9L1283.9 264.8L1284.3 266.8L1284.8 268.7L1285.2 270.7L1285.7 272.6L1286.1 274.6L1286.6 276.5L1287.0 278.5L1287.5 280.4L1287.9 282.4L1288.4 284.3L1288.8 286.3L1289.2 288.2L1289.7 290.2L1290.1 292.1L1290.5 294.1L1291.0 296.0L1291.4 298.0L1291.8 299.9L1292.3 301.9L1292.7 303.8L1293.1 305.8L1293.6 307.7L1294.0 309.7L1294.4 311.7L1294.8 313.6L1295.3 315.6L1295.7 317.5L1296.1 319.5L1296.5 321.4L1296.9 323.4L1297.3 325.3L1297.8 327.3L1298.2 329.3L1298.6 331.2L1299.0 333.2L1299.4 335.1L1299.8 337.1L1300.2 339.0L1300.6 341.0L1301.0 343.0L1301.4 344.9L1301.8 346.9L1302.2 348.8L1302.6 350.8L1303.0 352.8L1303.4 354.7L1303.8 356.7L1304.2 358.6L1304.6 360.6L1305.0 362.6L1305.4 364.5L1305.8 366.5L1306.2 368.4L1306.6 370.4L1307.0 372.4L1307.4 374.3L1307.7 376.3L1308.1 378.2L1308.5 380.2L1308.9 382.2L1309.3 384.1L1309.7 386.1L1310.0 388.1L1310.4 390.0L1310.8 392.0L1311.2 393.9L1311.6 395.9L1311.9 397.9L1312.3 399.8L1312.7 401.8L1313.1 403.8L1313.4 405.7L1313.8 407.7L1314.2 409.7L1314.6 411.6L1314.9 413.6L1315.3 415.6L1315.7 417.5L1316.1 419.5L1316.4 421.4L1316.8 423.4L1317.2 425.4L1317.5 427.3L1317.9 429.3L1318.3 431.3L1318.6 433.2L1319.0 435.2L1319.4 437.2L1319.7 439.1L1320.1 441.1L1320.4 443.1L1320.8 445.0L1321.2 447.0L1321.5 449.0L1321.9 450.9L1322.3 452.9L1322.6 454.9L1323.0 456.8L1323.3 458.8L1323.7 460.8L1324.1 462.7L1324.4 464.7L1324.8 466.7L1325.1 468.6L1325.5 470.6L1325.8 472.6L1326.2 474.5L1326.6 476.5L1326.9 478.5L1327.3 480.5L1327.6 482.4L1328.0 484.4L1328.3 486.4L1328.7 488.3L1329.1 490.3L1329.4 492.3L1329.8 494.2L1330.1 496.2L1330.5 498.2L1330.8 500.1L1331.2 502.1L1331.5 504.1L1331.9 506.0L1332.2 508.0L1332.6 510.0L1332.9 511.9L1333.3 513.9L1333.7 515.9L1334.0 517.9L1334.4 519.8L1334.7 521.8L1335.1 523.8L1335.4 525.7L1335.8 527.7L1336.1 529.7L1336.5 531.6L1336.8 533.6L1337.2 535.6L1337.5 537.5L1337.9 539.5L1338.3 541.5L1338.6 543.4L1339.0 545.4L1339.3 547.4L1339.7 549.4L1340.0 551.3L1340.4 553.3L1340.7 555.3L1341.1 557.2L1341.4 559.2L1341.8 561.2L1342.2 563.1L1342.5 565.1L1342.9 567.1L1343.2 569.0L1343.6 571.0L1343.9 573.0L1344.3 574.9L1344.7 576.9L1345.0 578.9L1345.4 580.8L1345.7 582.8L1346.1 584.8L1346.5 586.7L1346.8 588.7L1347.2 590.7L1347.5 592.6L1347.9 594.6L1348.3 596.6L1348.6 598.5L1349.0 600.5L1349.3 602.5L1349.7 604.4L1350.1 606.4L1350.4 608.4L1350.8 610.3L1351.2 612.3L1351.5 614.3L1351.9 616.2L1352.3 618.2L1352.6 620.2L1353.0 622.1L1353.4 624.1L1353.8 626.1L1354.1 628.0L1354.5 630.0L1354.9 632.0L1355.2 633.9L1355.6 635.9L1356.0 637.9L1356.4 639.8L1356.7 641.8L1357.1 643.8L1357.5 645.7L1357.9 647.7L1358.3 649.6L1358.6 651.6L1359.0 653.6L1359.4 655.5L1359.8 657.5L1360.2 659.5L1360.6 661.4L1360.9 663.4L1361.3 665.4L1361.7 667.3L1362.1 669.3L1362.5 671.2L1362.9 673.2L1363.3 675.2L1363.7 677.1L1364.1 679.1L1364.5 681.0L1364.8 683.0L1365.2 685.0L1365.6 686.9L1366.0 688.9L1366.4 690.8L1366.8 692.8L1367.2 694.8L1367.6 696.7L1368.0 698.7L1368.4 700.6L1368.9 702.6L1369.3 704.6L1369.7 706.5L1370.1 708.5L1370.5 710.4L1370.9 712.4L1371.3 714.3L1371.7 716.3L1372.1 718.3L1372.6 720.2L1373.0 722.2L1373.4 724.1L1373.8 726.1L1374.2 728.0L1374.7 730.0L1375.1 732.0L1375.5 733.9L1375.9 735.9L1376.4 737.8L1376.8 739.8L1377.2 741.7L1377.7 743.7L1378.1 745.6L1378.5 747.6L1379.0 749.5L1379.4 751.5L1379.8 753.4L1380.3 755.4L1380.7 757.3L1381.2 759.3L1381.6 761.2L1382.1 763.2L1382.5 765.1L1383.0 767.1L1383.4 769.0L1383.9 771.0L1384.3 772.9L1384.8 774.9L1385.2 776.8L1385.7 778.8L1386.2 780.7L1386.6 782.7L1387.1 784.6L1387.6 786.5L1388.0 788.5L1388.5 790.4L1389.0 792.4L1389.4 794.3L1389.9 796.3L1390.4 798.2L1390.9 800.1L1391.4 802.1L1391.8 804.0L1392.3 806.0L1392.8 807.9L1393.3 809.8L1393.8 811.8L1394.3 813.7L1394.8 815.7L1395.3 817.6L1395.8 819.5L1396.3 821.5L1396.8 823.4L1397.3 825.3L1397.8 827.3L1398.3 829.2L1398.8 831.1L1399.3 833.1L1399.9 835.0L1400.4 836.9L1400.9 838.9L1401.4 840.8L1401.9 842.7L1402.5 844.6L1403.0 846.6L1403.5 848.5L1404.1 850.4L1404.6 852.4L1405.1 854.3L1405.7 856.2L1406.2 858.1L1406.8 860.1L1407.3 862.0L1407.9 863.9L1408.4 865.8L1409.0 867.7L1409.5 869.7L1410.1 871.6L1410.6 873.5L1411.2 875.4L1411.8 877.3L1412.3 879.2L1412.9 881.2L1413.5 883.1L1414.1 885.0L1414.6 886.9L1415.2 888.8L1415.8 890.7L1416.4 892.6L1417.0 894.6L1417.6 896.5L1418.2 898.4L1418.8 900.3L1419.4 902.2L1420.0 904.1L1420.6 906.0L1421.2 907.9L1421.8 909.8L1422.4 911.7L1423.0 913.6L1423.6 915.5L1424.3 917.4L1424.9 919.3L1425.5 921.2L1426.1 923.1L1426.8 925.0L1427.4 926.9L1428.1 928.8L1428.7 930.7L1429.3 932.6L1430.0 934.5L1430.6 936.4L1431.3 938.3L1431.9 940.2L1432.6 942.0L1433.3 943.9L1433.9 945.8L1434.6 947.7L1435.3 949.6L1435.9 951.5L1436.6 953.4L1437.3 955.2L1438.0 957.1L1438.6 959.0L1439.3 960.9L1440.0 962.8L1440.7 964.7L1441.4 966.5L1442.1 968.4L1442.8 970.3L1443.5 972.2L1444.2 974.0L1444.9 975.9L1445.6 977.8L1446.3 979.7L1447.0 981.5L1447.7 983.4L1448.4 985.3L1449.1 987.1L1449.9 989.0L1450.6 990.9L1451.3 992.7L1452.0 994.6L1452.7 996.5L1453.5 998.3L1454.2 1000.2L1454.9 1002.1L1455.7 1003.9L1456.4 1005.8L1457.1 1007.6L1457.9 1009.5L1458.6 1011.4L1459.4 1013.2L1460.1 1015.1L1460.9 1016.9L1461.6 1018.8L1462.4 1020.6L1463.1 1022.5L1463.9 1024.3L1464.6 1026.2L1465.4 1028.1L1466.2 1029.9L1466.9 1031.8L1467.7 1033.6L1468.4 1035.4L1469.2 1037.3L1470.0 1039.1L1470.8 1041.0L1471.5 1042.8L1472.3 1044.7L1473.1 1046.5L1473.8 1048.4L1474.6 1050.2L1475.4 1052.0L1476.2 1053.9L1477.0 1055.7L1477.8 1057.6L1478.5 1059.4L1479.3 1061.2L1480.1 1063.1L1480.9 1064.9L1481.7 1066.7L1482.5 1068.6L1483.3 1070.4L1484.1 1072.2L1484.9 1074.0L1485.7 1075.9L1486.5 1077.7L1487.3 1079.6L1488.1 1081.4L1488.9 1083.2L1489.7 1085.0L1490.5 1086.9L1491.3 1088.7L1492.1 1090.6L1492.9 1092.4L1493.8 1094.2L1494.6 1096.0L1495.4 1097.9L1496.2 1099.7L1497.0 1101.6L1497.9 1103.4L1498.7 1105.1L1499.5 1106.9L1500.4 1108.7L1501.2 1110.5L1502.0 1112.4L1502.9 1114.1L1503.7 1115.9L1504.6 1117.7L1505.4 1119.5L1506.3 1121.3L1507.1 1123.1L1508.0 1125.0L1508.8 1126.9L1509.7 1128.6L1510.6 1130.3L1511.4 1132.0L1512.3 1133.9L1513.2 1135.6L1514.1 1137.4L1514.9 1139.2L1515.8 1141.0L1516.7 1142.8L1517.6 1144.6L1518.5 1146.3L1519.4 1148.1L1520.3 1149.9L1521.2 1151.7L1522.1 1153.5L1523.0 1155.3L1523.9 1157.0L1524.8 1158.8L1525.7 1160.6L1526.7 1162.2L1527.6 1164.0L1528.5 1165.9L1529.4 1167.7L1530.4 1169.5L1531.3 1171.3L1532.3 1173.0L1533.2 1174.7L1534.1 1176.5L1535.1 1178.1L1536.1 1179.7L1537.0 1181.3L1538.0 1183.3L1539.0 1185.3L1539.9 1187.1L1540.9 1188.8L1541.9 1190.4L1542.9 1192.0L1543.9 1193.7L1544.8 1195.3L1545.8 1197.1L1546.8 1198.9L1547.8 1200.5L1548.9 1202.2L1549.9 1204.0L1550.9 1205.7L1551.9 1207.6L1552.9 1209.3L1554.0 1210.8L1555.0 1212.6L1556.0 1214.4L1557.1 1216.1L1558.1 1217.8L1559.2 1219.5L1560.2 1221.2L1561.3 1223.2L1562.3 1224.9L1563.4 1226.2L1564.5 1227.9L1565.5 1229.4L1566.6 1231.3L1567.7 1233.2L1568.8 1234.6L1569.9 1236.1L1570.9 1237.9L1572.0 1239.8L1573.1 1241.5L1574.2 1242.9L1575.3 1244.7L1576.4 1246.5L1577.5 1248.3L1578.6 1249.8L1579.7 1251.3L1580.9 1253.0L1582.0 1254.8L1583.1 1256.4L1584.2 1257.9L1585.3 1259.5L1586.5 1261.3L1587.6 1263.1L1588.7 1264.8L1589.9 1266.3L1591.0 1267.7L1592.1 1269.4L1593.3 1271.2L1594.4 1273.0L1595.6 1274.8L1596.7 1276.1L1597.9 1277.2L1599.0 1278.6L1600.2 1280.3L1601.3 1281.9L1602.5 1284.0L1603.7 1286.0L1604.8 1287.7L1606.0 1288.9L1607.2 1290.7L1608.4 1292.1L1609.6 1294.0L1610.8 1295.3L1612.0 1296.5L1613.2 1297.6L1614.4 1299.7L1615.6 1301.8L1616.9 1303.1L1618.1 1304.5L1619.3 1306.1L1620.6 1307.5L1621.8 1309.1L1623.1 1310.4L1624.4 1312.0L1625.6 1313.9L1626.9 1316.0L1628.2 1317.6L1629.5 1319.0L1630.8 1320.3L1632.1 1321.4L1633.4 1322.5L1634.7 1324.1L1636.1 1326.0L1637.4 1327.5L1638.7 1328.5L1640.1 1329.9L1641.5 1331.4L1642.8 1333.1L1644.2 1334.2L1645.6 1335.4L1647.0 1337.2L1648.4 1338.5L1649.8 1340.6L1651.2 1341.9L1652.6 1343.4L1654.0 1344.4L1655.4 1346.1L1656.9 1347.6L1658.3 1348.9L1659.7 1349.8L1661.2 1351.0L1662.7 1352.5L1664.1 1354.2L1665.6 1355.7L1667.1 1357.1L1668.6 1357.6L1670.0 1359.0L1671.5 1360.5L1673.0 1362.1L1674.5 1363.9L1676.1 1365.3L1677.6 1366.2L1679.1 1367.1L1680.6 1368.4L1682.2 1369.5L1683.7 1370.8L1685.3 1371.9L1686.8 1373.2L1688.4 1374.6L1689.9 1376.4L1691.5 1377.6L1693.1 1378.9L1694.7 1380.3L1696.3 1381.2L1697.8 1382.0L1699.4 1382.5L1701.0 1383.6L1702.7 1384.7L1704.3 1386.6L1705.9 1387.9L1707.5 1389.4L1709.1 1391.1L1710.8 1392.4L1712.4 1393.2L1714.0 1394.1L1715.7 1395.4L1717.3 1396.5L1719.0 1397.6L1720.6 1398.6L1722.3 1399.8L1724.0 1401.0L1725.7 1401.7L1727.3 1402.0L1729.0 1403.1L1730.7 1405.1L1732.4 1406.6L1734.1 1407.5L1735.8 1408.2L1737.5 1409.9L1739.2 1410.4L1740.9 1410.9L1742.6 1411.3L1744.3 1413.2L1746.1 1414.4L1747.8 1415.4L1749.5 1416.0L1751.2 1417.2L1753.0 1418.2L1754.7 1419.3L1756.5 1420.8L1758.2 1421.0L1760.0 1422.3L1761.7 1423.6L1763.5 1424.0L1765.2 1425.6L1767.0 1426.9L1768.8 1427.2L1770.5 1427.8L1772.3 1429.9L1774.1 1430.4L1775.9 1431.3L1777.7 1432.1L1779.4 1433.7L1781.2 1434.8L1783.0 1435.5L1784.8 1435.6L1786.6 1435.9L1788.4 1436.2L1790.2 1437.1L1792.0 1438.5L1793.8 1439.6L1795.6 1440.7L1797.5 1442.2L1799.3 1442.9L1801.1 1443.3L1802.9 1444.1L1804.7 1445.1L1806.6 1445.6L1808.4 1446.4L1810.2 1447.3L1812.1 1448.4L1813.9 1449.9L1815.7 1450.4L1817.6 1450.1L1819.4 1450.0L1821.2 1451.4L1823.1 1452.3L1824.9 1452.9L1826.8 1454.1L1828.6 1454.6L1830.5 1455.8L1832.4 1456.7L1834.2 1457.7L1836.1 1458.1L1837.9 1459.0L1839.8 1460.1L1841.7 1460.8L1843.5 1461.1L1845.4 1461.3L1847.3 1461.4L1849.2 1462.5L1851.0 1463.0L1852.9 1463.7L1854.8 1464.2L1856.7 1466.0L1858.6 1466.5L1860.5 1466.2L1862.3 1465.5L1864.2 1466.0L1866.1 1467.7L1868.0 1469.4L1869.9 1469.7L1871.8 1469.9L1873.7 1470.3L1875.6 1471.5L1877.5 1472.0L1879.4 1472.0L1881.3 1472.7L1883.2 1473.6L1885.2 1474.8L1887.1 1476.5L1889.0 1476.7L1890.9 1476.4L1892.8 1476.7L1894.7 1477.5L1896.6 1478.1L1898.6 1478.9L1900.5 1479.7L1902.4 1480.0L1904.3 1480.8L1906.3 1480.9L1908.2 1480.2L1910.1 1480.5L1912.1 1481.2L1914.0 1482.8L1915.9 1484.1L1917.9 1484.7L1919.8 1484.7L1921.7 1485.3L1923.7 1485.1L1925.6 1485.3L1927.6 1484.6L1929.5 1484.6L1931.5 1486.0L1933.4 1487.0L1935.4 1488.2L1937.3 1488.5L1939.3 1489.4L1941.2 1489.7L1943.2 1490.2L1945.1 1490.5L1947.1 1490.5L1949.0 1490.9L1951.0 1491.4L1952.9 1491.3L1954.9 1492.1L1956.9 1492.2L1958.8 1493.0L1960.8 1493.2L1962.7 1493.3L1964.7 1493.6L1966.7 1494.1L1968.6 1494.5L1970.6 1495.1L1972.6 1495.3L1974.5 1495.4L1976.5 1495.6L1978.5 1495.9L1980.4 1496.1L1982.4 1496.5L1984.4 1496.8L1986.4 1497.2L1988.3 1497.7L1990.3 1498.2L1992.3 1498.8L1994.3 1499.1L1996.2 1499.1L1998.2 1499.3L2000.2 1499.4L2002.2 1500.2L2004.2 1500.9L2006.1 1500.8L2008.1 1501.1L2010.1 1501.2L2012.1 1502.2L2014.1 1502.4L2016.1 1502.4L2018.0 1502.0L2020.0 1502.6L2022.0 1502.8L2024.0 1503.3L2026.0 1503.1L2028.0 1503.9L2029.9 1504.2L2031.9 1504.4L2033.9 1505.3L2035.9 1505.9L2037.9 1505.7L2039.9 1505.5L2041.9 1505.7L2043.9 1506.2L2045.9 1506.1L2047.8 1505.8L2049.8 1506.5L2051.8 1508.1L2053.8 1508.4L2055.8 1508.0L2057.8 1507.4L2059.8 1507.8L2061.8 1507.8L2063.8 1508.3L2065.8 1509.3L2067.7 1509.8L2069.7 1510.9L2071.7 1510.7L2073.7 1509.8L2075.7 1509.2L2077.7 1509.4L2079.7 1510.2L2081.7 1510.8L2083.7 1511.0L2085.7 1510.7L2087.7 1511.0L2089.6 1512.0L2091.6 1512.9L2093.6 1512.3L2095.6 1511.1L2097.6 1511.2L2099.6 1511.7L2101.6 1512.5L2103.6 1512.5L2105.6 1511.6L2107.5 1511.4L2109.5 1512.4L2111.5 1513.1L2113.5 1513.2L2115.5 1513.0L2117.5 1512.5L2119.5 1513.6L2121.5 1513.8L2123.4 1513.2L2125.4 1513.7L2127.4 1515.3L2129.4 1514.8L2131.4 1514.5L2133.4 1514.5L2135.3 1514.5L2137.3 1513.9L2139.3 1515.1L2141.3 1515.4L2143.3 1515.6L2145.3 1515.3L2147.2 1515.7L2149.2 1515.6L2151.2 1515.5L2153.2 1515.2L2155.1 1515.9L2157.1 1516.6L2159.1 1516.8L2161.1 1516.0L2163.0 1515.7L2164.0 1516.3"/>
<path stroke="#0000ff" d="M331.3 1533.0L333.3 1533.7L335.3 1533.9L337.3 1533.8L339.3 1533.4L341.3 1533.2L343.3 1533.2L345.3 1533.2L347.3 1533.4L349.3 1533.4L351.3 1532.9L353.3 1532.8L355.3 1533.0L357.3 1532.9L359.3 1532.6L361.3 1533.1L363.3 1533.1L365.3 1532.7L367.3 1532.7L369.3 1532.9L371.3 1532.7L373.3 1532.8L375.3 1532.5L377.3 1532.5L379.3 1532.3L381.3 1532.5L383.3 1532.8L385.3 1533.1L387.3 1532.7L389.3 1532.4L391.3 1532.8L393.3 1532.8L395.3 1532.8L397.3 1532.6L399.3 1532.7L401.3 1532.4L403.3 1532.6L405.3 1532.4L407.3 1532.5L409.3 1532.9L411.3 1533.0L413.3 1533.4L415.3 1532.8L417.3 1532.9L419.3 1533.1L421.3 1533.2L423.3 1532.7L425.3 1532.5L427.3 1532.5L429.3 1532.9L431.3 1532.7L433.3 1532.8L435.3 1533.1L437.3 1533.1L439.3 1532.8L441.3 1532.6L443.3 1532.7L445.3 1532.9L447.3 1532.9L449.3 1532.4L451.3 1532.4L453.3 1532.4L455.3 1533.0L457.3 1533.3L459.3 1533.1L461.3 1532.7L463.3 1532.6L465.3 1532.8L467.3 1533.1L469.3 1533.1L471.3 1532.9L473.3 1533.2L475.3 1533.4L477.3 1533.3L479.3 1533.2L481.3 1532.9L483.3 1532.6L485.3 1533.1L487.3 1533.2L489.3 1533.3L491.3 1533.1L493.3 1533.2L495.3 1532.8L497.3 1532.8L499.3 1532.8L501.3 1532.9L503.3 1533.4L505.3 1533.7L507.3 1534.1L509.3 1534.0L511.3 1534.0L513.3 1533.5L515.3 1533.9L517.3 1534.1L519.3 1534.1L521.3 1533.6L523.3 1533.5L525.3 1533.3L527.3 1533.8L529.3 1534.0L531.3 1534.1L533.3 1534.0L535.3 1533.9L537.3 1533.9L539.3 1533.4L541.3 1533.3L543.3 1533.5L545.3 1533.8L547.3 1533.8L549.3 1533.9L551.3 1534.2L553.3 1534.1L555.3 1534.0L557.3 1534.2L559.3 1534.2L561.3 1534.2L563.3 1534.0L565.3 1534.1L567.3 1534.0L569.3 1534.3L571.3 1534.3L573.3 1534.9L575.3 1534.8L577.3 1534.3L579.3 1534.1L581.3 1534.5L583.3 1534.9L585.3 1534.7L587.3 1534.5L589.3 1534.5L591.3 1534.6L593.3 1535.0L595.3 1534.9L597.3 1534.8L599.3 1534.7L601.2 1534.8L603.2 1535.2L605.2 1535.1L607.2 1535.1L609.2 1535.1L611.2 1535.1L613.2 1535.2L615.2 1535.3L617.2 1535.2L619.2 1535.3L621.2 1535.4L623.2 1535.4L625.2 1535.3L627.2 1535.3L629.2 1535.4L631.2 1535.6L633.2 1535.6L635.2 1535.7L637.2 1535.7L639.2 1535.8L641.2 1535.8L643.2 1535.8L645.2 1535.9L647.2 1535.9L649.2 1536.0L651.2 1536.0L653.2 1536.0L655.2 1536.1L657.2 1536.1L659.2 1536.2L661.2 1536.2L663.2 1536.3L665.2 1536.3L667.2 1536.3L669.2 1536.4L671.2 1536.4L673.2 1536.5L675.2 1536.5L677.2 1536.5L679.2 1536.6L681.2 1536.6L683.2 1536.7L685.2 1536.7L687.3 1536.8L689.3 1536.8L691.3 1536.8L693.3 1536.9L695.3 1536.9L697.3 1537.0L699.3 1537.0L701.3 1537.0L703.3 1537.1L705.3 1537.1L707.3 1537.2L709.3 1537.2L711.3 1537.2L713.3 1537.3L715.3 1537.3L717.3 1537.4L719.3 1537.4L721.3 1537.4L723.3 1537.5L725.3 1537.5L727.3 1537.6L729.3 1537.6L731.3 1537.6L733.3 1537.7L735.3 1537.7L737.3 1537.7L739.3 1537.7L741.3 1537.8L743.3 1537.8L745.3 1537.8L747.3 1537.9L749.3 1537.9L751.3 1537.9L753.3 1537.9L755.3 1537.9L757.3 1538.0L759.3 1538.0L761.3 1538.0L763.3 1538.0L765.3 1538.0L767.3 1538.0L769.3 1538.0L771.3 1538.0L773.3 1538.0L775.3 1538.0L777.3 1538.0L779.3 1538.0L781.3 1538.0L783.3 1538.0L785.3 1538.0L787.3 1538.0L789.3 1538.0L791.3 1538.0L793.3 1538.0L795.3 1537.9L797.3 1537.9L799.3 1537.9L801.3 1537.9L803.3 1537.8L805.3 1537.8L807.3 1537.7L809.3 1537.7L811.3 1537.7L813.3 1537.6L815.3 1537.6L817.3 1537.5L819.3 1537.5L821.3 1537.4L823.2 1537.3L825.2 1537.3L827.2 1537.2L829.2 1537.1L831.2 1537.1L833.2 1537.0L835.2 1536.9L837.2 1536.8L839.2 1536.7L841.2 1536.6L843.2 1536.5L845.2 1536.4L847.2 1536.3L849.2 1536.2L851.2 1536.1L853.1 1536.0L855.1 1535.9L857.1 1535.7L859.1 1535.6L861.1 1535.5L863.1 1535.3L865.1 1535.2L867.1 1535.0L869.1 1534.9L871.1 1534.7L873.1 1534.6L875.1 1534.4L877.1 1534.3L879.1 1534.1L881.1 1534.0L883.1 1533.8L885.1 1533.7L887.1 1533.5L889.1 1533.3L891.2 1533.2L893.2 1533.0L895.2 1532.8L897.2 1532.5L899.2 1532.2L901.1 1531.7L902.9 1531.1L904.7 1530.3L906.4 1529.5L908.1 1528.5L909.8 1527.6L911.6 1526.6L913.3 1525.6L915.1 1524.6L916.9 1523.7L918.8 1522.9L920.7 1522.1L922.6 1521.2L924.5 1520.4L926.4 1519.6L928.3 1518.7L930.1 1517.8L931.8 1516.8L933.5 1515.7L935.2 1514.6L936.8 1513.5L938.4 1512.3L939.9 1511.0L941.4 1509.7L942.9 1508.4L944.3 1507.0L945.6 1505.6L947.0 1504.1L948.2 1502.6L949.5 1501.1L950.7 1499.5L951.9 1498.0L953.1 1496.3L954.2 1494.7L955.3 1493.0L956.4 1491.3L957.4 1489.6L958.4 1487.9L959.4 1486.1L960.4 1484.4L961.3 1482.6L962.3 1480.8L963.2 1479.1L964.0 1477.3L964.9 1475.5L965.8 1473.6L966.6 1471.8L967.4 1470.0L968.2 1468.2L969.0 1466.3L969.7 1464.5L970.5 1462.6L971.2 1460.8L971.9 1458.9L972.6 1457.0L973.3 1455.1L973.9 1453.3L974.6 1451.4L975.2 1449.5L975.8 1447.6L976.5 1445.7L977.1 1443.8L977.6 1441.9L978.2 1440.0L978.8 1438.0L979.3 1436.1L979.9 1434.2L980.4 1432.3L980.9 1430.3L981.4 1428.4L982.0 1426.4L982.5 1424.5L982.9 1422.6L983.4 1420.6L983.9 1418.7L984.4 1416.7L984.8 1414.8L985.3 1412.8L985.7 1410.9L986.2 1408.9L986.6 1406.9L987.0 1405.0L987.5 1403.0L987.9 1401.1L988.3 1399.1L988.7 1397.2L989.2 1395.2L989.6 1393.2L990.0 1391.3L990.4 1389.3L990.8 1387.4L991.2 1385.4L991.6 1383.4L992.0 1381.5L992.4 1379.5L992.7 1377.5L993.1 1375.6L993.5 1373.6L993.9 1371.6L994.3 1369.7L994.6 1367.7L995.0 1365.7L995.4 1363.8L995.7 1361.8L996.1 1359.8L996.5 1357.9L996.8 1355.9L997.2 1353.9L997.5 1352.0L997.9 1350.0L998.2 1348.0L998.6 1346.1L998.9 1344.1L999.3 1342.1L999.6 1340.2L1000.0 1338.2L1000.3 1336.2L1000.6 1334.2L1001.0 1332.3L1001.3 1330.3L1001.6 1328.3L1002.0 1326.4L1002.3 1324.4L1002.6 1322.4L1003.0 1320.4L1003.3 1318.5L1003.6 1316.5L1003.9 1314.5L1004.3 1312.5L1004.6 1310.6L1004.9 1308.6L1005.2 1306.6L1005.5 1304.6L1005.8 1302.7L1006.1 1300.7L1006.4 1298.7L1006.7 1296.7L1007.1 1294.8L1007.4 1292.8L1007.7 1290.8L1008.0 1288.8L1008.3 1286.9L1008.6 1284.9L1008.8 1282.9L1009.1 1280.9L1009.4 1279.0L1009.7 1277.0L1010.0 1275.0L1010.3 1273.0L1010.6 1271.0L1010.9 1269.1L1011.2 1267.1L1011.4 1265.1L1011.7 1263.1L1012.0 1261.2L1012.3 1259.2L1012.6 1257.2L1012.8 1255.2L1013.1 1253.2L1013.4 1251.3L1013.7 1249.3L1013.9 1247.3L1014.2 1245.3L1014.5 1243.3L1014.7 1241.4L1015.0 1239.4L1015.3 1237.4L1015.5 1235.4L1015.8 1233.4L1016.0 1231.4L1016.3 1229.5L1016.6 1227.5L1016.8 1225.5L1017.1 1223.5L1017.3 1221.5L1017.6 1219.5L1017.8 1217.6L1018.1 1215.6L1018.3 1213.6L1018.6 1211.6L1018.8 1209.6L1019.1 1207.6L1019.3 1205.7L1019.6 1203.7L1019.8 1201.7L1020.1 1199.7L1020.3 1197.7L1020.6 1195.7L1020.8 1193.8L1021.0 1191.8L1021.3 1189.8L1021.5 1187.8L1021.8 1185.8L1022.0 1183.8L1022.2 1181.8L1022.5 1179.9L1022.7 1177.9L1022.9 1175.9L1023.2 1173.9L1023.4 1171.9L1023.6 1169.9L1023.9 1167.9L1024.1 1166.0L1024.3 1164.0L1024.6 1162.0L1024.8 1160.0L1025.0 1158.0L1025.2 1156.0L1025.5 1154.0L1025.7 1152.1L1025.9 1150.1L1026.1 1148.1L1026.4 1146.1L1026.6 1144.1L1026.8 1142.1L1027.0 1140.1L1027.2 1138.1L1027.5 1136.2L1027.7 1134.2L1027.9 1132.2L1028.1 1130.2L1028.3 1128.2L1028.6 1126.2L1028.8 1124.2L1029.0 1122.2L1029.2 1120.2L1029.4 1118.3L1029.6 1116.3L1029.9 1114.3L1030.1 1112.3L1030.3 1110.3L1030.5 1108.3L1030.7 1106.3L1030.9 1104.3L1031.1 1102.4L1031.4 1100.4L1031.6 1098.4L1031.8 1096.4L1032.0 1094.4L1032.2 1092.4L1032.4 1090.4L1032.6 1088.4L1032.8 1086.4L1033.0 1084.4L1033.3 1082.5L1033.5 1080.5L1033.7 1078.5L1033.9 1076.5L1034.1 1074.5L1034.3 1072.5L1034.5 1070.5L1034.7 1068.5L1034.9 1066.5L1035.1 1064.6L1035.4 1062.6L1035.6 1060.6L1035.8 1058.6L1036.0 1056.6L1036.2 1054.6L1036.4 1052.6L1036.6 1050.6L1036.8 1048.6L1037.0 1046.7L1037.2 1044.7L1037.5 1042.7L1037.7 1040.7L1037.9 1038.7L1038.1 1036.7L1038.3 1034.7L1038.5 1032.7L1038.7 1030.7L1038.9 1028.7L1039.1 1026.8L1039.3 1024.8L1039.6 1022.8L1039.8 1020.8L1040.0 1018.8L1040.2 1016.8L1040.4 1014.8L1040.6 1012.8L1040.8 1010.8L1041.0 1008.9L1041.2 1006.9L1041.5 1004.9L1041.7 1002.9L1041.9 1000.9L1042.1 998.9L1042.3 996.9L1042.5 994.9L1042.7 992.9L1043.0 991.0L1043.2 989.0L1043.4 987.0L1043.6 985.0L1043.8 983.0L1044.1 981.0L1044.3 979.0L1044.5 977.0L1044.7 975.0L1044.9 973.1L1045.1 971.1L1045.4 969.1L1045.6 967.1L1045.8 965.1L1046.0 963.1L1046.3 961.1L1046.5 959.1L1046.7 957.2L1046.9 955.2L1047.2 953.2L1047.4 951.2L1047.6 949.2L1047.8 947.2L1048.1 945.2L1048.3 943.2L1048.5 941.3L1048.8 939.3L1049.0 937.3L1049.2 935.3L1049.5 933.3L1049.7 931.3L1049.9 929.3L1050.2 927.3L1050.4 925.4L1050.6 923.4L1050.9 921.4L1051.1 919.4L1051.3 917.4L1051.6 915.4L1051.8 913.4L1052.1 911.5L1052.3 909.5L1052.5 907.5L1052.8 905.5L1053.0 903.5L1053.3 901.5L1053.5 899.5L1053.7 897.6L1054.0 895.6L1054.2 893.6L1054.5 891.6L1054.7 889.6L1055.0 887.6L1055.2 885.7L1055.4 883.7L1055.7 881.7L1055.9 879.7L1056.2 877.7L1056.4 875.7L1056.7 873.7L1056.9 871.8L1057.2 869.8L1057.4 867.8L1057.7 865.8L1057.9 863.8L1058.2 861.8L1058.4 859.9L1058.7 857.9L1058.9 855.9L1059.2 853.9L1059.4 851.9L1059.7 849.9L1059.9 847.9L1060.2 846.0L1060.5 844.0L1060.7 842.0L1061.0 840.0L1061.2 838.0L1061.5 836.0L1061.7 834.1L1062.0 832.1L1062.2 830.1L1062.5 828.1L1062.8 826.1L1063.0 824.1L1063.3 822.2L1063.5 820.2L1063.8 818.2L1064.1 816.2L1064.3 814.2L1064.6 812.2L1064.8 810.3L1065.1 808.3L1065.4 806.3L1065.6 804.3L1065.9 802.3L1066.1 800.3L1066.4 798.4L1066.7 796.4L1066.9 794.4L1067.2 792.4L1067.4 790.4L1067.7 788.5L1068.0 786.5L1068.2 784.5L1068.5 782.5L1068.8 780.5L1069.0 778.5L1069.3 776.6L1069.6 774.6L1069.8 772.6L1070.1 770.6L1070.4 768.6L1070.6 766.6L1070.9 764.7L1071.1 762.7L1071.4 760.7L1071.7 758.7L1071.9 756.7L1072.2 754.8L1072.5 752.8L1072.7 750.8L1073.0 748.8L1073.3 746.8L1073.5 744.8L1073.8 742.9L1074.1 740.9L1074.3 738.9L1074.6 736.9L1074.9 734.9L1075.2 733.0L1075.4 731.0L1075.7 729.0L1076.0 727.0L1076.2 725.0L1076.5 723.0L1076.8 721.1L1077.0 719.1L1077.3 717.1L1077.6 715.1L1077.8 713.1L1078.1 711.2L1078.4 709.2L1078.6 707.2L1078.9 705.2L1079.2 703.2L1079.4 701.2L1079.7 699.3L1080.0 697.3L1080.3 695.3L1080.5 693.3L1080.8 691.3L1081.1 689.4L1081.3 687.4L1081.6 685.4L1081.9 683.4L1082.1 681.4L1082.4 679.4L1082.7 677.5L1082.9 675.5L1083.2 673.5L1083.5 671.5L1083.7 669.5L1084.0 667.6L1084.3 665.6L1084.6 663.6L1084.8 661.6L1085.1 659.6L1085.4 657.6L1085.6 655.7L1085.9 653.7L1086.2 651.7L1086.4 649.7L1086.7 647.7L1087.0 645.8L1087.2 643.8L1087.5 641.8L1087.8 639.8L1088.0 637.8L1088.3 635.8L1088.6 633.9L1088.8 631.9L1089.1 629.9L1089.4 627.9L1089.6 625.9L1089.9 623.9L1090.2 622.0L1090.4 620.0L1090.7 618.0L1091.0 616.0L1091.2 614.0L1091.5 612.1L1091.8 610.1L1092.0 608.1L1092.3 606.1L1092.5 604.1L1092.8 602.1L1093.1 600.2L1093.3 598.2L1093.6 596.2L1093.9 594.2L1094.1 592.2L1094.4 590.3L1094.7 588.3L1094.9 586.3L1095.2 584.3L1095.4 582.3L1095.7 580.3L1096.0 578.4L1096.2 576.4L1096.5 574.4L1096.7 572.4L1097.0 570.4L1097.3 568.4L1097.5 566.5L1097.8 564.5L1098.0 562.5L1098.3 560.5L1098.6 558.5L1098.8 556.5L1099.1 554.6L1099.3 552.6L1099.6 550.6L1099.8 548.6L1100.1 546.6L1100.3 544.6L1100.6 542.7L1100.9 540.7L1101.1 538.7L1101.4 536.7L1101.6 534.7L1101.9 532.7L1102.1 530.8L1102.4 528.8L1102.6 526.8L1102.9 524.8L1103.1 522.8L1103.4 520.8L1103.6 518.9L1103.9 516.9L1104.1 514.9L1104.4 512.9L1104.6 510.9L1104.9 508.9L1105.1 507.0L1105.4 505.0L1105.6 503.0L1105.9 501.0L1106.2 499.0L1106.4 497.0L1106.7 495.0L1106.9 493.1L1107.2 491.1L1107.4 489.1L1107.7 487.1L1107.9 485.1L1108.2 483.1L1108.4 481.2L1108.7 479.2L1108.9 477.2L1109.2 475.2L1109.4 473.2L1109.7 471.2L1109.9 469.3L1110.2 467.3L1110.4 465.3L1110.7 463.3L1110.9 461.3L1111.2 459.3L1111.4 457.4L1111.7 455.4L1111.9 453.4L1112.2 451.4L1112.4 449.4L1112.7 447.4L1112.9 445.4L1113.2 443.5L1113.4 441.5L1113.7 439.5L1113.9 437.5L1114.2 435.5L1114.4 433.5L1114.7 431.6L1115.0 429.6L1115.2 427.6L1115.5 425.6L1115.7 423.6L1116.0 421.6L1116.2 419.7L1116.5 417.7L1116.7 415.7L1117.0 413.7L1117.3 411.7L1117.5 409.7L1117.8 407.8L1118.0 405.8L1118.3 403.8L1118.6 401.8L1118.8 399.8L1119.1 397.8L1119.3 395.9L1119.6 393.9L1119.9 391.9L1120.1 389.9L1120.4 387.9L1120.6 385.9L1120.9 384.0L1121.2 382.0L1121.4 380.0L1121.7 378.0L1122.0 376.0L1122.2 374.0L1122.5 372.1L1122.8 370.1L1123.0 368.1L1123.3 366.1L1123.6 364.1L1123.9 362.2L1124.1 360.2L1124.4 358.2L1124.7 356.2L1124.9 354.2L1125.2 352.2L1125.5 350.3L1125.8 348.3L1126.0 346.3L1126.3 344.3L1126.6 342.3L1126.9 340.4L1127.2 338.4L1127.4 336.4L1127.7 334.4L1128.0 332.4L1128.3 330.4L1128.6 328.5L1128.9 326.5L1129.1 324.5L1129.4 322.5L1129.7 320.5L1130.0 318.6L1130.3 316.6L1130.6 314.6L1130.9 312.6L1131.2 310.6L1131.5 308.7L1131.8 306.7L1132.1 304.7L1132.4 302.7L1132.7 300.7L1133.0 298.8L1133.3 296.8L1133.6 294.8L1133.9 292.8L1134.2 290.9L1134.5 288.9L1134.8 286.9L1135.1 284.9L1135.4 283.0L1135.7 281.0L1136.1 279.0L1136.4 277.0L1136.7 275.1L1137.0 273.1L1137.3 271.1L1137.7 269.1L1138.0 267.2L1138.3 265.2L1138.6 263.2L1139.0 261.2L1139.3 259.3L1139.6 257.3L1140.0 255.3L1140.3 253.3L1140.7 251.4L1141.0 249.4L1141.4 247.4L1141.7 245.5L1142.0 243.5L1142.4 241.5L1142.8 239.6L1143.1 237.6L1143.5 235.6L1143.8 233.7L1144.2 231.7L1144.6 229.7L1144.9 227.8L1145.3 225.8L1145.7 223.8L1146.0 221.9L1146.4 219.9L1146.8 217.9L1147.2 216.0L1147.6 214.0L1147.9 212.1L1148.3 210.1L1148.7 208.1L1149.1 206.2L1149.5 204.2L1149.9 202.3L1150.3 200.3L1150.7 198.4L1151.1 196.4L1151.5 194.4L1152.0 192.5L1152.4 190.5L1152.8 188.6L1153.2 186.6L1153.6 184.7L1154.1 182.7L1154.5 180.8L1154.9 178.8L1155.4 176.9L1155.8 174.9L1156.3 173.0L1156.7 171.0L1157.2 169.1L1157.6 167.1L1158.1 165.2L1158.5 163.2L1159.0 161.3L1159.5 159.4L1159.9 157.4L1160.4 155.5L1160.9 153.5L1161.3 151.6L1161.8 149.7L1162.3 147.7L1162.8 145.8L1163.3 143.8L1163.8 141.9L1164.3 140.0L1164.8 138.0L1165.3 136.1L1165.8 134.2L1166.3 132.2L1166.9 130.3L1167.4 128.4L1167.9 126.5L1168.5 124.5L1169.0 122.6L1169.6 120.7L1170.2 118.8L1170.7 116.9L1171.3 115.0L1171.9 113.0L1172.5 111.1L1173.1 109.2L1173.7 107.3L1174.4 105.4L1175.0 103.5L1175.7 101.6L1176.3 99.7L1177.0 97.8L1177.7 96.0L1178.4 94.1L1179.1 92.2L1179.8 90.3L1180.6 88.4L1181.3 86.6L1182.1 84.7L1182.9 82.8L1183.7 81.0L1184.5 79.1L1185.3 77.3L1186.1 75.5L1187.0 73.7L1187.9 71.9L1188.8 70.1L1189.7 68.4L1190.6 66.7L1191.6 65.0L1192.6 63.3L1193.8 61.9L1195.2 60.7L1197.0 59.8L1198.9 59.0L1200.9 58.2L1202.9 57.3L1204.7 56.4L1206.4 55.9L1208.1 56.0L1209.7 56.8L1211.2 58.1L1212.6 59.7L1214.0 61.4L1215.3 63.1L1216.5 64.8L1217.7 66.4L1218.9 68.1L1219.9 69.8L1221.0 71.5L1222.0 73.2L1222.9 74.9L1223.8 76.6L1224.7 78.4L1225.5 80.2L1226.3 82.0L1227.0 83.9L1227.8 85.7L1228.5 87.6L1229.2 89.5L1229.9 91.3L1230.5 93.2L1231.2 95.1L1231.9 97.0L1232.5 98.9L1233.2 100.8L1233.9 102.7L1234.5 104.6L1235.2 106.5L1235.9 108.4L1236.5 110.3L1237.2 112.2L1237.9 114.1L1238.5 116.0L1239.1 117.9L1239.8 119.8L1240.4 121.7L1241.0 123.6L1241.6 125.5L1242.2 127.4L1242.8 129.3L1243.4 131.2L1244.0 133.1L1244.6 135.1L1245.2 137.0L1245.7 138.9L1246.3 140.8L1246.9 142.7L1247.4 144.7L1247.9 146.6L1248.5 148.5L1249.0 150.4L1249.5 152.3L1250.1 154.3L1250.6 156.2L1251.1 158.1L1251.6 160.1L1252.1 162.0L1252.6 163.9L1253.1 165.9L1253.6 167.8L1254.1 169.7L1254.6 171.7L1255.1 173.6L1255.5 175.5L1256.0 177.5L1256.5 179.4L1257.0 181.4L1257.4 183.3L1257.9 185.3L1258.3 187.2L1258.8 189.1L1259.3 191.1L1259.7 193.0L1260.2 195.0L1260.6 196.9L1261.1 198.9L1261.5 200.8L1262.0 202.8L1262.4 204.7L1262.9 206.7L1263.3 208.6L1263.7 210.6L1264.2 212.5L1264.6 214.5L1265.1 216.4L1265.5 218.4L1265.9 220.3L1266.4 222.3L1266.8 224.2L1267.3 226.2L1267.7 228.1L1268.1 230.1L1268.6 232.0L1269.0 234.0L1269.5 235.9L1269.9 237.9L1270.3 239.8L1270.8 241.8L1271.2 243.7L1271.7 245.7L1272.1 247.6L1272.5 249.6L1273.0 251.5L1273.4 253.5L1273.9 255.4L1274.3 257.4L1274.7 259.4L1275.2 261.3L1275.6 263.3L1276.0 265.2L1276.5 267.2L1276.9 269.1L1277.3 271.1L1277.8 273.0L1278.2 275.0L1278.6 276.9L1279.1 278.9L1279.5 280.9L1279.9 282.8L1280.3 284.8L1280.8 286.7L1281.2 288.7L1281.6 290.6L1282.1 292.6L1282.5 294.6L1282.9 296.5L1283.3 298.5L1283.7 300.4L1284.2 302.4L1284.6 304.3L1285.0 306.3L1285.4 308.3L1285.8 310.2L1286.2 312.2L1286.7 314.1L1287.1 316.1L1287.5 318.1L1287.9 320.0L1288.3 322.0L1288.7 323.9L1289.1 325.9L1289.5 327.9L1289.9 329.8L1290.3 331.8L1290.7 333.7L1291.1 335.7L1291.5 337.7L1291.9 339.6L1292.3 341.6L1292.7 343.5L1293.1 345.5L1293.5 347.5L1293.8 349.4L1294.2 351.4L1294.6 353.4L1295.0 355.3L1295.4 357.3L1295.8 359.2L1296.2 361.2L1296.5 363.2L1296.9 365.1L1297.3 367.1L1297.7 369.1L1298.0 371.0L1298.4 373.0L1298.8 375.0L1299.2 376.9L1299.5 378.9L1299.9 380.9L1300.3 382.8L1300.6 384.8L1301.0 386.8L1301.4 388.7L1301.7 390.7L1302.1 392.6L1302.5 394.6L1302.8 396.6L1303.2 398.5L1303.6 400.5L1303.9 402.5L1304.3 404.4L1304.6 406.4L1305.0 408.4L1305.3 410.4L1305.7 412.3L1306.1 414.3L1306.4 416.3L1306.8 418.2L1307.1 420.2L1307.5 422.2L1307.8 424.1L1308.2 426.1L1308.5 428.1L1308.9 430.0L1309.2 432.0L1309.6 434.0L1309.9 435.9L1310.2 437.9L1310.6 439.9L1310.9 441.8L1311.3 443.8L1311.6 445.8L1312.0 447.8L1312.3 449.7L1312.6 451.7L1313.0 453.7L1313.3 455.6L1313.7 457.6L1314.0 459.6L1314.3 461.5L1314.7 463.5L1315.0 465.5L1315.3 467.5L1315.7 469.4L1316.0 471.4L1316.4 473.4L1316.7 475.3L1317.0 477.3L1317.4 479.3L1317.7 481.3L1318.0 483.2L1318.4 485.2L1318.7 487.2L1319.0 489.1L1319.3 491.1L1319.7 493.1L1320.0 495.1L1320.3 497.0L1320.7 499.0L1321.0 501.0L1321.3 502.9L1321.7 504.9L1322.0 506.9L1322.3 508.9L1322.6 510.8L1323.0 512.8L1323.3 514.8L1323.6 516.7L1324.0 518.7L1324.3 520.7L1324.6 522.7L1324.9 524.6L1325.3 526.6L1325.6 528.6L1325.9 530.5L1326.2 532.5L1326.6 534.5L1326.9 536.5L1327.2 538.4L1327.6 540.4L1327.9 542.4L1328.2 544.3L1328.5 546.3L1328.9 548.3L1329.2 550.3L1329.5 552.2L1329.8 554.2L1330.2 556.2L1330.5 558.2L1330.8 560.1L1331.2 562.1L1331.5 564.1L1331.8 566.0L1332.1 568.0L1332.5 570.0L1332.8 572.0L1333.1 573.9L1333.4 575.9L1333.8 577.9L1334.1 579.8L1334.4 581.8L1334.8 583.8L1335.1 585.8L1335.4 587.7L1335.8 589.7L1336.1 591.7L1336.4 593.6L1336.7 595.6L1337.1 597.6L1337.4 599.6L1337.7 601.5L1338.1 603.5L1338.4 605.5L1338.7 607.4L1339.1 609.4L1339.4 611.4L1339.7 613.4L1340.1 615.3L1340.4 617.3L1340.7 619.3L1341.1 621.2L1341.4 623.2L1341.8 625.2L1342.1 627.2L1342.4 629.1L1342.8 631.1L1343.1 633.1L1343.5 635.0L1343.8 637.0L1344.1 639.0L1344.5 640.9L1344.8 642.9L1345.2 644.9L1345.5 646.9L1345.9 648.8L1346.2 650.8L1346.5 652.8L1346.9 654.7L1347.2 656.7L1347.6 658.7L1347.9 660.6L1348.3 662.6L1348.6 664.6L1349.0 666.6L1349.3 668.5L1349.7 670.5L1350.0 672.5L1350.4 674.4L1350.8 676.4L1351.1 678.4L1351.5 680.3L1351.8 682.3L1352.2 684.3L1352.5 686.2L1352.9 688.2L1353.3 690.2L1353.6 692.1L1354.0 694.1L1354.4 696.1L1354.7 698.0L1355.1 700.0L1355.5 702.0L1355.8 703.9L1356.2 705.9L1356.6 707.9L1356.9 709.8L1357.3 711.8L1357.7 713.8L1358.1 715.7L1358.4 717.7L1358.8 719.7L1359.2 721.6L1359.6 723.6L1359.9 725.6L1360.3 727.5L1360.7 729.5L1361.1 731.5L1361.5 733.4L1361.9 735.4L1362.3 737.3L1362.6 739.3L1363.0 741.3L1363.4 743.2L1363.8 745.2L1364.2 747.2L1364.6 749.1L1365.0 751.1L1365.4 753.1L1365.8 755.0L1366.2 757.0L1366.6 758.9L1367.0 760.9L1367.4 762.9L1367.8 764.8L1368.2 766.8L1368.6 768.7L1369.0 770.7L1369.5 772.7L1369.9 774.6L1370.3 776.6L1370.7 778.5L1371.1 780.5L1371.5 782.5L1371.9 784.4L1372.4 786.4L1372.8 788.3L1373.2 790.3L1373.6 792.2L1374.1 794.2L1374.5 796.2L1374.9 798.1L1375.4 800.1L1375.8 802.0L1376.2 804.0L1376.7 805.9L1377.1 807.9L1377.5 809.8L1378.0 811.8L1378.4 813.7L1378.9 815.7L1379.3 817.6L1379.8 819.6L1380.2 821.5L1380.7 823.5L1381.1 825.4L1381.6 827.4L1382.0 829.3L1382.5 831.3L1382.9 833.2L1383.4 835.2L1383.9 837.1L1384.3 839.1L1384.8 841.0L1385.3 843.0L1385.7 844.9L1386.2 846.9L1386.7 848.8L1387.2 850.8L1387.6 852.7L1388.1 854.6L1388.6 856.6L1389.1 858.5L1389.6 860.5L1390.0 862.4L1390.5 864.3L1391.0 866.3L1391.5 868.2L1392.0 870.2L1392.5 872.1L1393.0 874.0L1393.5 876.0L1394.0 877.9L1394.5 879.8L1395.0 881.8L1395.5 883.7L1396.0 885.6L1396.5 887.6L1397.0 889.5L1397.6 891.4L1398.1 893.4L1398.6 895.3L1399.1 897.2L1399.6 899.2L1400.2 901.1L1400.7 903.0L1401.2 905.0L1401.8 906.9L1402.3 908.8L1402.8 910.7L1403.4 912.7L1403.9 914.6L1404.4 916.5L1405.0 918.4L1405.5 920.3L1406.1 922.3L1406.6 924.2L1407.2 926.1L1407.7 928.0L1408.3 929.9L1408.8 931.9L1409.4 933.8L1410.0 935.7L1410.5 937.6L1411.1 939.5L1411.7 941.4L1412.2 943.4L1412.8 945.3L1413.4 947.2L1414.0 949.1L1414.6 951.0L1415.1 952.9L1415.7 954.8L1416.3 956.7L1416.9 958.6L1417.5 960.5L1418.1 962.4L1418.7 964.3L1419.3 966.3L1419.9 968.2L1420.5 970.1L1421.1 972.0L1421.7 973.9L1422.3 975.8L1422.9 977.7L1423.5 979.6L1424.2 981.4L1424.8 983.3L1425.4 985.2L1426.0 987.1L1426.7 989.0L1427.3 990.9L1427.9 992.8L1428.6 994.7L1429.2 996.6L1429.8 998.5L1430.5 1000.4L1431.1 1002.3L1431.8 1004.1L1432.4 1006.0L1433.1 1007.9L1433.7 1009.8L1434.4 1011.7L1435.1 1013.6L1435.7 1015.4L1436.4 1017.3L1437.1 1019.2L1437.7 1021.1L1438.4 1022.9L1439.1 1024.8L1439.8 1026.7L1440.4 1028.6L1441.1 1030.4L1441.8 1032.3L1442.5 1034.2L1443.2 1036.0L1443.9 1037.9L1444.6 1039.8L1445.3 1041.6L1446.0 1043.5L1446.7 1045.4L1447.4 1047.2L1448.1 1049.1L1448.8 1051.0L1449.6 1052.8L1450.3 1054.7L1451.0 1056.5L1451.7 1058.4L1452.5 1060.2L1453.2 1062.1L1453.9 1063.9L1454.7 1065.8L1455.4 1067.7L1456.1 1069.5L1456.9 1071.3L1457.6 1073.2L1458.4 1075.0L1459.1 1076.9L1459.9 1078.7L1460.7 1080.6L1461.4 1082.4L1462.2 1084.3L1463.0 1086.1L1463.7 1087.9L1464.5 1089.8L1465.3 1091.6L1466.1 1093.4L1466.9 1095.3L1467.6 1097.1L1468.4 1098.9L1469.2 1100.8L1470.0 1102.6L1470.8 1104.4L1471.6 1106.2L1472.4 1108.1L1473.2 1109.9L1474.1 1111.7L1474.9 1113.5L1475.7 1115.3L1476.5 1117.2L1477.3 1119.0L1478.2 1120.8L1479.0 1122.6L1479.8 1124.4L1480.7 1126.2L1481.5 1128.0L1482.3 1129.8L1483.2 1131.6L1484.0 1133.5L1484.9 1135.3L1485.8 1137.1L1486.6 1138.9L1487.5 1140.7L1488.3 1142.5L1489.2 1144.3L1490.1 1146.0L1491.0 1147.9L1491.8 1149.7L1492.7 1151.5L1493.6 1153.2L1494.5 1155.0L1495.4 1156.8L1496.3 1158.5L1497.2 1160.3L1498.1 1162.2L1499.0 1164.0L1499.9 1165.8L1500.8 1167.6L1501.7 1169.3L1502.7 1171.0L1503.6 1172.8L1504.5 1174.6L1505.4 1176.4L1506.4 1178.2L1507.3 1180.0L1508.2 1181.7L1509.2 1183.4L1510.1 1185.2L1511.1 1187.0L1512.0 1188.8L1513.0 1190.6L1514.0 1192.3L1514.9 1194.0L1515.9 1195.7L1516.9 1197.5L1517.8 1199.2L1518.8 1200.9L1519.8 1202.8L1520.8 1204.6L1521.8 1206.3L1522.8 1208.0L1523.8 1209.6L1524.8 1211.5L1525.8 1213.2L1526.8 1215.0L1527.8 1216.7L1528.8 1218.4L1529.8 1220.1L1530.8 1221.8L1531.9 1223.5L1532.9 1225.3L1533.9 1227.2L1535.0 1228.9L1536.0 1230.6L1537.1 1232.4L1538.1 1234.2L1539.2 1235.9L1540.2 1237.6L1541.3 1239.1L1542.4 1240.7L1543.4 1242.2L1544.5 1244.1L1545.6 1245.9L1546.7 1247.5L1547.8 1249.1L1548.9 1250.9L1550.0 1252.5L1551.1 1254.3L1552.2 1256.2L1553.3 1257.7L1554.4 1259.2L1555.5 1261.0L1556.7 1262.8L1557.8 1264.4L1558.9 1266.2L1560.1 1268.0L1561.2 1269.5L1562.4 1270.9L1563.5 1272.5L1564.7 1274.4L1565.8 1276.1L1567.0 1277.8L1568.2 1279.3L1569.4 1280.7L1570.5 1282.3L1571.7 1283.9L1572.9 1285.9L1574.1 1287.4L1575.3 1288.9L1576.5 1290.1L1577.8 1291.8L1579.0 1293.5L1580.2 1294.7L1581.4 1295.9L1582.7 1297.8L1583.9 1299.6L1585.1 1301.2L1586.4 1302.8L1587.7 1304.7L1588.9 1306.3L1590.2 1307.7L1591.5 1309.2L1592.7 1310.5L1594.0 1312.1L1595.3 1313.7L1596.6 1315.5L1597.9 1317.1L1599.2 1318.5L1600.5 1319.6L1601.8 1321.0L1603.2 1322.5L1604.5 1324.0L1605.8 1325.8L1607.2 1327.4L1608.5 1328.8L1609.9 1330.4L1611.2 1331.8L1612.6 1333.5L1614.0 1334.9L1615.4 1336.1L1616.7 1337.4L1618.1 1338.9L1619.5 1340.4L1620.9 1341.8L1622.3 1343.1L1623.7 1344.5L1625.2 1346.0L1626.6 1347.5L1628.0 1348.7L1629.5 1350.5L1630.9 1351.6L1632.3 1352.8L1633.8 1354.1L1635.3 1355.9L1636.7 1357.3L1638.2 1358.3L1639.7 1359.3L1641.2 1361.0L1642.6 1362.0L1644.1 1363.0L1645.6 1364.4L1647.1 1366.3L1648.7 1367.7L1650.2 1369.4L1651.7 1370.7L1653.2 1371.9L1654.7 1373.0L1656.3 1374.3L1657.8 1375.0L1659.4 1376.5L1660.9 1377.9L1662.5 1378.9L1664.0 1379.6L1665.6 1380.8L1667.2 1382.2L1668.8 1383.6L1670.3 1385.3L1671.9 1386.4L1673.5 1387.7L1675.1 1389.1L1676.7 1390.5L1678.3 1391.5L1679.9 1392.9L1681.6 1393.9L1683.2 1395.5L1684.8 1396.0L1686.4 1396.7L1688.1 1397.5L1689.7 1398.9L1691.4 1400.3L1693.0 1401.7L1694.7 1402.9L1696.3 1404.1L1698.0 1405.3L1699.6 1406.2L1701.3 1407.1L1703.0 1408.1L1704.7 1408.9L1706.4 1410.1L1708.0 1411.1L1709.7 1412.0L1711.4 1412.8L1713.1 1414.3L1714.8 1415.5L1716.5 1416.3L1718.3 1417.0L1720.0 1418.1L1721.7 1420.5L1723.4 1421.2L1725.2 1421.2L1726.9 1422.0L1728.6 1423.5L1730.4 1425.1L1732.1 1425.9L1733.8 1426.3L1735.6 1426.0L1737.4 1427.4L1739.1 1429.2L1740.9 1430.7L1742.6 1431.8L1744.4 1432.3L1746.2 1433.6L1748.0 1435.0L1749.7 1435.7L1751.5 1436.3L1753.3 1436.4L1755.1 1437.7L1756.9 1438.3L1758.7 1439.5L1760.5 1440.4L1762.3 1441.3L1764.1 1441.4L1765.9 1442.3L1767.7 1443.2L1769.5 1444.2L1771.4 1445.4L1773.2 1446.5L1775.0 1447.5L1776.8 1448.4L1778.7 1449.5L1780.5 1450.5L1782.3 1450.9L1784.2 1451.2L1786.0 1452.5L1787.8 1453.3L1789.7 1453.8L1791.5 1454.0L1793.4 1454.7L1795.3 1455.8L1797.1 1456.5L1799.0 1457.0L1800.8 1457.5L1802.7 1458.0L1804.6 1458.1L1806.4 1459.0L1808.3 1460.0L1810.2 1461.5L1812.1 1462.1L1813.9 1463.1L1815.8 1463.8L1817.7 1464.7L1819.6 1465.1L1821.5 1465.0L1823.4 1465.4L1825.3 1466.7L1827.2 1467.4L1829.1 1468.1L1831.0 1468.2L1832.9 1468.8L1834.8 1468.7L1836.7 1469.6L1838.6 1470.6L1840.5 1471.6L1842.4 1472.0L1844.3 1472.9L1846.2 1473.5L1848.2 1473.9L1850.1 1473.5L1852.0 1474.1L1853.9 1474.6L1855.8 1475.5L1857.8 1475.4L1859.7 1475.6L1861.6 1476.5L1863.6 1477.1L1865.5 1477.7L1867.4 1479.0L1869.4 1479.4L1871.3 1479.8L1873.2 1480.7L1875.2 1482.2L1877.1 1481.6L1879.1 1481.4L1881.0 1481.0L1883.0 1481.9L1884.9 1482.9L1886.9 1483.5L1888.8 1483.7L1890.8 1484.6L1892.7 1485.7L1894.7 1485.9L1896.6 1485.5L1898.6 1485.9L1900.5 1486.8L1902.5 1487.9L1904.5 1488.0L1906.4 1488.4L1908.4 1488.9L1910.3 1489.1L1912.3 1489.3L1914.3 1489.5L1916.2 1489.6L1918.2 1489.6L1920.2 1489.0L1922.1 1490.1L1924.1 1490.6L1926.1 1491.9L1928.0 1492.4L1930.0 1492.7L1932.0 1493.5L1934.0 1493.9L1935.9 1493.9L1937.9 1494.3L1939.9 1494.9L1941.9 1495.3L1943.8 1495.3L1945.8 1495.8L1947.8 1496.5L1949.8 1496.2L1951.7 1496.5L1953.7 1497.4L1955.7 1498.1L1957.7 1498.0L1959.6 1498.6L1961.6 1499.3L1963.6 1499.2L1965.6 1499.1L1967.6 1500.4L1969.5 1500.9L1971.5 1500.0L1973.5 1500.4L1975.5 1501.3L1977.5 1501.4L1979.4 1501.1L1981.4 1501.7L1983.4 1502.5L1985.4 1502.8L1987.4 1502.7L1989.3 1502.7L1991.3 1503.2L1993.3 1503.7L1995.3 1503.5L1997.3 1503.6L1999.2 1503.8L2001.2 1504.5L2003.2 1505.1L2005.2 1505.3L2007.1 1504.7L2009.1 1505.0L2011.1 1505.8L2013.1 1505.5L2015.1 1505.1L2017.0 1505.6L2019.0 1506.6L2021.0 1506.7L2023.0 1506.7L2024.9 1507.4L2026.9 1507.5L2028.9 1507.4L2030.9 1507.0L2032.8 1507.6L2034.8 1508.5L2036.8 1509.2L2038.8 1509.6L2040.8 1509.6L2042.7 1510.5L2044.7 1510.8L2046.7 1510.9L2048.7 1510.1L2050.6 1509.8L2052.6 1509.5L2054.6 1510.4L2056.6 1511.4L2058.6 1511.8L2060.5 1512.0L2062.5 1512.1L2064.5 1512.7L2066.5 1513.4L2068.5 1512.7L2070.4 1511.8L2072.4 1511.4L2074.4 1512.1L2076.4 1512.8L2078.4 1514.2L2080.4 1514.7L2082.4 1514.5L2084.3 1514.6L2086.3 1514.8L2088.3 1514.2L2090.3 1514.4L2092.3 1515.1L2094.3 1515.8L2096.3 1515.7L2098.2 1515.6L2100.2 1515.6L2102.2 1515.8L2104.2 1516.3L2106.2 1516.9L2108.2 1516.6L2110.2 1516.2L2112.2 1515.7L2114.2 1516.0L2116.2 1517.0L2118.2 1517.7L2120.2 1517.5L2122.2 1516.7L2124.2 1516.6L2126.2 1517.1L2128.2 1517.5L2130.2 1517.7L2132.2 1517.2L2134.2 1516.8L2136.2 1516.6L2138.2 1517.3L2140.2 1518.2L2142.2 1518.2L2144.2 1519.0L2146.2 1518.4L2148.3 1518.3L2150.3 1517.9L2152.3 1517.5L2154.3 1517.8L2156.3 1518.0L2158.3 1518.5L2160.4 1518.7L2162.4 1518.9L2164.0 1519.6"/>
<path stroke="#ff0000" d="M331.3 1521.5L333.3 1520.9L335.3 1521.6L337.3 1522.3L339.3 1522.5L341.3 1522.7L343.3 1522.8L345.3 1523.4L347.3 1523.4L349.3 1523.2L351.3 1522.1L353.3 1522.2L355.3 1522.4L357.3 1523.3L359.3 1522.5L361.3 1522.2L363.3 1521.7L365.3 1522.4L367.3 1523.2L369.3 1523.8L371.3 1523.4L373.3 1522.7L375.3 1522.7L377.3 1522.8L379.3 1522.6L381.3 1522.5L383.3 1522.5L385.3 1522.3L387.3 1522.8L389.3 1523.1L391.3 1523.3L393.3 1522.6L395.3 1522.5L397.3 1522.6L399.3 1522.6L401.3 1523.0L403.3 1522.2L405.3 1522.4L407.3 1522.6L409.3 1522.7L411.3 1522.6L413.3 1522.1L415.3 1522.4L417.3 1522.6L419.3 1522.0L421.3 1521.1L423.3 1521.2L425.3 1521.9L427.3 1521.9L429.3 1522.1L431.3 1522.7L433.3 1523.0L435.3 1522.5L437.3 1522.2L439.3 1522.0L441.3 1522.2L443.3 1522.2L445.3 1521.9L447.3 1521.8L449.3 1522.0L451.3 1522.2L453.3 1522.4L455.3 1522.2L457.3 1521.9L459.3 1521.4L461.3 1521.5L463.3 1521.7L465.3 1521.6L467.3 1520.9L469.3 1521.0L471.3 1521.3L473.3 1521.8L475.3 1521.8L477.3 1522.1L479.3 1522.0L481.3 1521.1L483.3 1520.7L485.3 1520.7L487.3 1521.6L489.3 1521.3L491.3 1521.1L493.3 1520.6L495.3 1520.7L497.3 1521.4L499.3 1521.6L501.3 1521.0L503.3 1520.8L505.3 1521.3L507.3 1521.2L509.3 1520.6L511.3 1520.4L513.3 1520.5L515.3 1520.8L517.2 1521.2L519.2 1521.2L521.2 1521.2L523.2 1521.4L525.2 1521.2L527.2 1520.8L529.2 1521.2L531.2 1521.5L533.2 1521.4L535.2 1521.3L537.2 1521.8L539.2 1522.2L541.2 1521.7L543.2 1521.3L545.2 1521.8L547.2 1522.5L549.2 1522.7L551.2 1522.3L553.2 1522.2L555.2 1522.3L557.2 1522.2L559.2 1522.6L561.2 1522.6L563.2 1522.5L565.2 1522.1L567.2 1522.2L569.1 1522.7L571.1 1524.0L573.1 1524.1L575.1 1523.4L577.1 1523.3L579.1 1524.1L581.1 1524.4L583.1 1524.6L585.1 1524.5L587.1 1524.5L589.1 1524.8L591.1 1524.7L593.1 1525.7L595.1 1526.0L597.0 1525.7L599.0 1525.7L601.0 1526.1L603.0 1526.2L605.0 1526.7L607.0 1527.1L609.0 1527.1L611.0 1527.4L613.0 1528.0L615.0 1528.2L617.0 1528.2L618.9 1528.4L620.9 1528.7L622.9 1528.8L624.9 1529.1L626.9 1529.3L628.9 1529.6L630.9 1529.8L632.8 1530.1L634.8 1530.3L636.8 1530.6L638.8 1530.8L640.8 1531.1L642.8 1531.3L644.8 1531.6L646.7 1531.9L648.7 1532.1L650.7 1532.4L652.7 1532.6L654.7 1532.9L656.7 1533.1L658.6 1533.3L660.6 1533.6L662.6 1533.8L664.6 1534.0L666.6 1534.2L668.6 1534.4L670.5 1534.6L672.5 1534.8L674.5 1535.0L676.5 1535.1L678.5 1535.3L680.5 1535.4L682.5 1535.6L684.5 1535.7L686.5 1535.8L688.4 1536.0L690.4 1536.1L692.4 1536.2L694.4 1536.3L696.4 1536.3L698.4 1536.4L700.4 1536.5L702.4 1536.6L704.4 1536.6L706.4 1536.7L708.4 1536.7L710.4 1536.8L712.4 1536.8L714.4 1536.8L716.4 1536.9L718.4 1536.9L720.4 1536.9L722.4 1536.9L724.4 1536.9L726.4 1537.0L728.4 1537.0L730.4 1537.0L732.4 1537.0L734.4 1537.0L736.4 1537.0L738.4 1537.0L740.4 1536.9L742.4 1536.9L744.4 1536.9L746.4 1536.9L748.4 1536.9L750.4 1536.9L752.4 1536.9L754.4 1536.9L756.4 1536.9L758.4 1536.8L760.4 1536.8L762.4 1536.8L764.5 1536.8L766.5 1536.8L768.5 1536.8L770.5 1536.8L772.5 1536.8L774.5 1536.7L776.5 1536.7L778.5 1536.7L780.5 1536.7L782.5 1536.7L784.5 1536.7L786.5 1536.7L788.5 1536.7L790.5 1536.7L792.5 1536.7L794.5 1536.7L796.5 1536.7L798.5 1536.7L800.5 1536.7L802.5 1536.7L804.5 1536.7L806.5 1536.7L808.4 1536.7L810.4 1536.7L812.4 1536.7L814.4 1536.7L816.4 1536.7L818.4 1536.7L820.4 1536.7L822.4 1536.7L824.4 1536.6L826.4 1536.6L828.4 1536.5L830.4 1536.4L832.4 1536.3L834.4 1536.2L836.3 1536.0L838.3 1535.8L840.3 1535.6L842.3 1535.3L844.3 1535.0L846.3 1534.7L848.3 1534.3L850.3 1533.9L852.2 1533.5L854.2 1533.0L856.1 1532.5L858.1 1531.9L860.0 1531.3L861.9 1530.7L863.8 1530.0L865.6 1529.3L867.5 1528.6L869.3 1527.8L871.1 1526.9L872.9 1526.0L874.7 1525.1L876.4 1524.1L878.1 1523.1L879.8 1522.0L881.5 1520.9L883.1 1519.8L884.7 1518.6L886.3 1517.3L887.8 1516.1L889.3 1514.8L890.8 1513.4L892.2 1512.1L893.6 1510.7L895.0 1509.2L896.4 1507.7L897.7 1506.2L899.0 1504.7L900.2 1503.2L901.4 1501.6L902.6 1500.0L903.7 1498.3L904.8 1496.7L905.9 1495.0L906.9 1493.3L907.9 1491.6L908.9 1489.8L909.8 1488.1L910.7 1486.3L911.6 1484.5L912.5 1482.7L913.4 1480.9L914.2 1479.1L915.0 1477.2L915.8 1475.4L916.6 1473.5L917.4 1471.7L918.1 1469.8L918.8 1467.9L919.6 1466.0L920.3 1464.2L921.0 1462.3L921.7 1460.4L922.4 1458.5L923.1 1456.6L923.8 1454.7L924.5 1452.9L925.2 1451.0L925.8 1449.1L926.5 1447.2L927.2 1445.3L927.8 1443.4L928.5 1441.5L929.1 1439.6L929.7 1437.7L930.3 1435.8L931.0 1433.9L931.6 1432.0L932.2 1430.1L932.8 1428.2L933.4 1426.3L933.9 1424.4L934.5 1422.5L935.1 1420.6L935.6 1418.7L936.2 1416.8L936.7 1414.9L937.3 1413.0L937.8 1411.0L938.3 1409.1L938.9 1407.2L939.4 1405.3L939.9 1403.3L940.4 1401.4L940.9 1399.5L941.3 1397.6L941.8 1395.6L942.3 1393.7L942.8 1391.7L943.2 1389.8L943.7 1387.9L944.1 1385.9L944.5 1384.0L945.0 1382.0L945.4 1380.1L945.8 1378.1L946.2 1376.1L946.6 1374.2L947.0 1372.2L947.4 1370.3L947.8 1368.3L948.2 1366.3L948.6 1364.4L949.0 1362.4L949.4 1360.4L949.7 1358.5L950.1 1356.5L950.5 1354.5L950.9 1352.6L951.2 1350.6L951.6 1348.6L952.0 1346.6L952.3 1344.7L952.7 1342.7L953.0 1340.7L953.4 1338.8L953.8 1336.8L954.1 1334.8L954.5 1332.8L954.8 1330.9L955.2 1328.9L955.6 1326.9L955.9 1325.0L956.3 1323.0L956.6 1321.0L957.0 1319.1L957.3 1317.1L957.7 1315.1L958.0 1313.1L958.4 1311.2L958.7 1309.2L959.1 1307.2L959.4 1305.3L959.8 1303.3L960.1 1301.3L960.5 1299.4L960.8 1297.4L961.1 1295.4L961.5 1293.4L961.8 1291.5L962.2 1289.5L962.5 1287.5L962.8 1285.6L963.2 1283.6L963.5 1281.6L963.9 1279.7L964.2 1277.7L964.5 1275.7L964.9 1273.7L965.2 1271.8L965.5 1269.8L965.9 1267.8L966.2 1265.9L966.5 1263.9L966.8 1261.9L967.2 1259.9L967.5 1258.0L967.8 1256.0L968.1 1254.0L968.5 1252.0L968.8 1250.1L969.1 1248.1L969.4 1246.1L969.7 1244.2L970.1 1242.2L970.4 1240.2L970.7 1238.2L971.0 1236.3L971.3 1234.3L971.6 1232.3L972.0 1230.3L972.3 1228.4L972.6 1226.4L972.9 1224.4L973.2 1222.4L973.5 1220.5L973.8 1218.5L974.1 1216.5L974.4 1214.5L974.7 1212.6L975.0 1210.6L975.3 1208.6L975.6 1206.6L975.9 1204.7L976.2 1202.7L976.5 1200.7L976.8 1198.7L977.1 1196.7L977.4 1194.8L977.7 1192.8L978.0 1190.8L978.3 1188.8L978.6 1186.9L978.9 1184.9L979.2 1182.9L979.4 1180.9L979.7 1178.9L980.0 1177.0L980.3 1175.0L980.6 1173.0L980.9 1171.0L981.2 1169.0L981.4 1167.1L981.7 1165.1L982.0 1163.1L982.3 1161.1L982.6 1159.1L982.8 1157.2L983.1 1155.2L983.4 1153.2L983.7 1151.2L983.9 1149.2L984.2 1147.2L984.5 1145.3L984.8 1143.3L985.0 1141.3L985.3 1139.3L985.6 1137.3L985.8 1135.4L986.1 1133.4L986.4 1131.4L986.6 1129.4L986.9 1127.4L987.2 1125.4L987.4 1123.5L987.7 1121.5L988.0 1119.5L988.2 1117.5L988.5 1115.5L988.7 1113.5L989.0 1111.6L989.3 1109.6L989.5 1107.6L989.8 1105.6L990.0 1103.6L990.3 1101.6L990.5 1099.7L990.8 1097.7L991.0 1095.7L991.3 1093.7L991.5 1091.7L991.8 1089.7L992.0 1087.7L992.3 1085.8L992.5 1083.8L992.8 1081.8L993.0 1079.8L993.3 1077.8L993.5 1075.8L993.8 1073.8L994.0 1071.9L994.2 1069.9L994.5 1067.9L994.7 1065.9L995.0 1063.9L995.2 1061.9L995.4 1059.9L995.7 1058.0L995.9 1056.0L996.2 1054.0L996.4 1052.0L996.6 1050.0L996.9 1048.0L997.1 1046.0L997.3 1044.1L997.6 1042.1L997.8 1040.1L998.0 1038.1L998.3 1036.1L998.5 1034.1L998.7 1032.1L998.9 1030.1L999.2 1028.2L999.4 1026.2L999.6 1024.2L999.8 1022.2L1000.1 1020.2L1000.3 1018.2L1000.5 1016.2L1000.7 1014.2L1001.0 1012.3L1001.2 1010.3L1001.4 1008.3L1001.6 1006.3L1001.8 1004.3L1002.1 1002.3L1002.3 1000.3L1002.5 998.3L1002.7 996.4L1002.9 994.4L1003.1 992.4L1003.4 990.4L1003.6 988.4L1003.8 986.4L1004.0 984.4L1004.2 982.4L1004.4 980.5L1004.6 978.5L1004.9 976.5L1005.1 974.5L1005.3 972.5L1005.5 970.5L1005.7 968.5L1005.9 966.5L1006.1 964.5L1006.3 962.6L1006.5 960.6L1006.7 958.6L1007.0 956.6L1007.2 954.6L1007.4 952.6L1007.6 950.6L1007.8 948.6L1008.0 946.6L1008.2 944.7L1008.4 942.7L1008.6 940.7L1008.8 938.7L1009.0 936.7L1009.2 934.7L1009.4 932.7L1009.6 930.7L1009.8 928.7L1010.0 926.8L1010.2 924.8L1010.4 922.8L1010.7 920.8L1010.9 918.8L1011.1 916.8L1011.3 914.8L1011.5 912.8L1011.7 910.8L1011.9 908.9L1012.1 906.9L1012.3 904.9L1012.5 902.9L1012.7 900.9L1012.9 898.9L1013.1 896.9L1013.3 894.9L1013.5 892.9L1013.7 890.9L1013.9 889.0L1014.1 887.0L1014.3 885.0L1014.5 883.0L1014.7 881.0L1014.9 879.0L1015.1 877.0L1015.3 875.0L1015.5 873.0L1015.7 871.1L1015.9 869.1L1016.1 867.1L1016.3 865.1L1016.5 863.1L1016.7 861.1L1016.9 859.1L1017.1 857.1L1017.3 855.1L1017.5 853.1L1017.7 851.2L1017.9 849.2L1018.1 847.2L1018.3 845.2L1018.5 843.2L1018.7 841.2L1018.9 839.2L1019.1 837.2L1019.3 835.2L1019.5 833.2L1019.7 831.3L1019.9 829.3L1020.1 827.3L1020.4 825.3L1020.6 823.3L1020.8 821.3L1021.0 819.3L1021.2 817.3L1021.4 815.3L1021.6 813.3L1021.8 811.4L1022.0 809.4L1022.2 807.4L1022.4 805.4L1022.6 803.4L1022.8 801.4L1023.0 799.4L1023.2 797.4L1023.5 795.4L1023.7 793.5L1023.9 791.5L1024.1 789.5L1024.3 787.5L1024.5 785.5L1024.7 783.5L1024.9 781.5L1025.2 779.5L1025.4 777.5L1025.6 775.5L1025.8 773.6L1026.0 771.6L1026.2 769.6L1026.5 767.6L1026.7 765.6L1026.9 763.6L1027.1 761.6L1027.3 759.6L1027.6 757.6L1027.8 755.7L1028.0 753.7L1028.2 751.7L1028.5 749.7L1028.7 747.7L1028.9 745.7L1029.2 743.7L1029.4 741.7L1029.6 739.8L1029.9 737.8L1030.1 735.8L1030.3 733.8L1030.6 731.8L1030.8 729.8L1031.1 727.8L1031.3 725.9L1031.6 723.9L1031.8 721.9L1032.1 719.9L1032.3 717.9L1032.6 715.9L1032.8 714.0L1033.1 712.0L1033.3 710.0L1033.6 708.0L1033.9 706.0L1034.1 704.0L1034.4 702.1L1034.6 700.1L1034.9 698.1L1035.2 696.1L1035.5 694.1L1035.7 692.2L1036.0 690.2L1036.3 688.2L1036.6 686.2L1036.9 684.2L1037.1 682.3L1037.4 680.3L1037.7 678.3L1038.0 676.3L1038.3 674.3L1038.6 672.4L1038.9 670.4L1039.2 668.4L1039.5 666.4L1039.8 664.5L1040.1 662.5L1040.4 660.5L1040.7 658.5L1041.1 656.6L1041.4 654.6L1041.7 652.6L1042.0 650.7L1042.4 648.7L1042.7 646.7L1043.0 644.7L1043.3 642.8L1043.7 640.8L1044.0 638.8L1044.4 636.9L1044.7 634.9L1045.1 632.9L1045.4 631.0L1045.8 629.0L1046.1 627.0L1046.5 625.1L1046.9 623.1L1047.2 621.1L1047.6 619.2L1048.0 617.2L1048.3 615.2L1048.7 613.3L1049.1 611.3L1049.5 609.4L1049.9 607.4L1050.3 605.4L1050.7 603.5L1051.1 601.5L1051.5 599.6L1051.9 597.6L1052.3 595.6L1052.7 593.7L1053.1 591.7L1053.5 589.8L1054.0 587.8L1054.4 585.9L1054.8 583.9L1055.3 582.0L1055.7 580.0L1056.1 578.1L1056.6 576.1L1057.0 574.2L1057.5 572.2L1057.9 570.2L1058.3 568.3L1058.8 566.3L1059.3 564.4L1059.7 562.5L1060.2 560.5L1060.6 558.6L1061.1 556.6L1061.5 554.7L1062.0 552.7L1062.5 550.8L1062.9 548.8L1063.4 546.9L1063.9 544.9L1064.3 543.0L1064.8 541.0L1065.2 539.1L1065.7 537.1L1066.2 535.2L1066.6 533.2L1067.1 531.3L1067.6 529.3L1068.0 527.4L1068.5 525.4L1069.0 523.5L1069.4 521.6L1069.9 519.6L1070.4 517.7L1070.8 515.7L1071.3 513.8L1071.7 511.8L1072.2 509.9L1072.6 507.9L1073.1 506.0L1073.5 504.0L1074.0 502.1L1074.4 500.1L1074.9 498.2L1075.3 496.2L1075.8 494.3L1076.2 492.3L1076.6 490.4L1077.1 488.4L1077.5 486.4L1077.9 484.5L1078.3 482.5L1078.8 480.6L1079.2 478.6L1079.6 476.7L1080.0 474.7L1080.4 472.8L1080.8 470.8L1081.2 468.8L1081.6 466.9L1082.0 464.9L1082.4 463.0L1082.8 461.0L1083.2 459.1L1083.6 457.1L1084.0 455.1L1084.4 453.2L1084.8 451.2L1085.2 449.3L1085.5 447.3L1085.9 445.3L1086.3 443.4L1086.7 441.4L1087.1 439.4L1087.4 437.5L1087.8 435.5L1088.2 433.5L1088.5 431.6L1088.9 429.6L1089.2 427.6L1089.6 425.7L1090.0 423.7L1090.3 421.7L1090.7 419.8L1091.0 417.8L1091.4 415.8L1091.7 413.9L1092.1 411.9L1092.4 409.9L1092.8 408.0L1093.1 406.0L1093.5 404.0L1093.8 402.1L1094.1 400.1L1094.5 398.1L1094.8 396.2L1095.2 394.2L1095.5 392.2L1095.8 390.2L1096.2 388.3L1096.5 386.3L1096.8 384.3L1097.1 382.3L1097.5 380.4L1097.8 378.4L1098.1 376.4L1098.5 374.5L1098.8 372.5L1099.1 370.5L1099.4 368.5L1099.8 366.6L1100.1 364.6L1100.4 362.6L1100.7 360.6L1101.0 358.7L1101.4 356.7L1101.7 354.7L1102.0 352.7L1102.3 350.8L1102.6 348.8L1103.0 346.8L1103.3 344.8L1103.6 342.8L1103.9 340.9L1104.2 338.9L1104.6 336.9L1104.9 334.9L1105.2 333.0L1105.5 331.0L1105.8 329.0L1106.2 327.0L1106.5 325.1L1106.8 323.1L1107.1 321.1L1107.4 319.1L1107.8 317.2L1108.1 315.2L1108.4 313.2L1108.7 311.2L1109.1 309.3L1109.4 307.3L1109.7 305.3L1110.0 303.3L1110.4 301.4L1110.7 299.4L1111.0 297.4L1111.3 295.4L1111.7 293.5L1112.0 291.5L1112.3 289.5L1112.7 287.6L1113.0 285.6L1113.4 283.6L1113.7 281.6L1114.0 279.7L1114.4 277.7L1114.7 275.7L1115.1 273.8L1115.4 271.8L1115.8 269.8L1116.1 267.8L1116.5 265.9L1116.8 263.9L1117.2 261.9L1117.5 260.0L1117.9 258.0L1118.2 256.0L1118.6 254.1L1119.0 252.1L1119.3 250.1L1119.7 248.2L1120.1 246.2L1120.5 244.2L1120.8 242.3L1121.2 240.3L1121.6 238.4L1122.0 236.4L1122.4 234.4L1122.7 232.5L1123.1 230.5L1123.5 228.6L1123.9 226.6L1124.3 224.6L1124.7 222.7L1125.1 220.7L1125.5 218.8L1125.9 216.8L1126.4 214.9L1126.8 212.9L1127.2 211.0L1127.6 209.0L1128.0 207.0L1128.5 205.1L1128.9 203.1L1129.3 201.2L1129.8 199.2L1130.2 197.3L1130.7 195.4L1131.1 193.4L1131.6 191.5L1132.0 189.5L1132.5 187.6L1132.9 185.6L1133.4 183.7L1133.9 181.7L1134.3 179.8L1134.8 177.9L1135.3 175.9L1135.8 174.0L1136.3 172.1L1136.8 170.1L1137.3 168.2L1137.8 166.2L1138.3 164.3L1138.8 162.4L1139.3 160.4L1139.8 158.5L1140.3 156.6L1140.9 154.7L1141.4 152.7L1141.9 150.8L1142.5 148.9L1143.0 147.0L1143.6 145.0L1144.1 143.1L1144.7 141.2L1145.2 139.3L1145.8 137.3L1146.4 135.4L1147.0 133.5L1147.5 131.6L1148.1 129.7L1148.7 127.7L1149.3 125.8L1149.9 123.9L1150.5 122.0L1151.1 120.1L1151.8 118.2L1152.4 116.2L1153.0 114.3L1153.7 112.4L1154.3 110.5L1155.0 108.6L1155.6 106.7L1156.3 104.8L1157.0 102.9L1157.7 101.1L1158.5 99.2L1159.2 97.4L1160.0 95.5L1160.8 93.7L1161.6 91.9L1162.5 90.2L1163.4 88.4L1164.4 86.7L1165.3 85.0L1166.4 83.3L1167.4 81.7L1168.5 80.0L1169.5 78.4L1170.5 76.7L1171.6 74.9L1172.5 73.2L1173.5 71.4L1174.4 69.5L1175.3 67.6L1176.3 65.7L1177.3 63.9L1178.4 62.1L1179.7 60.4L1181.1 58.8L1182.5 57.5L1184.1 56.5L1185.8 56.0L1187.4 56.1L1189.1 56.8L1190.7 57.9L1192.2 59.3L1193.7 60.9L1195.0 62.6L1196.2 64.3L1197.3 66.1L1198.3 67.9L1199.4 69.7L1200.4 71.5L1201.4 73.2L1202.5 74.9L1203.6 76.6L1204.7 78.3L1205.7 79.9L1206.8 81.6L1207.8 83.2L1208.8 84.9L1209.7 86.6L1210.6 88.4L1211.3 90.2L1212.0 92.0L1212.7 93.9L1213.3 95.8L1213.9 97.7L1214.4 99.6L1214.9 101.5L1215.4 103.5L1215.9 105.5L1216.4 107.4L1216.8 109.4L1217.3 111.4L1217.8 113.4L1218.2 115.3L1218.7 117.3L1219.3 119.2L1219.8 121.2L1220.3 123.1L1220.9 125.0L1221.4 127.0L1222.0 128.9L1222.5 130.8L1223.1 132.7L1223.6 134.7L1224.2 136.6L1224.7 138.5L1225.2 140.4L1225.7 142.4L1226.3 144.3L1226.8 146.2L1227.3 148.2L1227.8 150.1L1228.3 152.0L1228.8 154.0L1229.4 155.9L1229.9 157.8L1230.3 159.8L1230.8 161.7L1231.3 163.6L1231.8 165.6L1232.3 167.5L1232.8 169.5L1233.3 171.4L1233.7 173.3L1234.2 175.3L1234.7 177.2L1235.2 179.2L1235.6 181.1L1236.1 183.1L1236.5 185.0L1237.0 186.9L1237.5 188.9L1237.9 190.8L1238.4 192.8L1238.8 194.7L1239.2 196.7L1239.7 198.6L1240.1 200.6L1240.6 202.5L1241.0 204.5L1241.4 206.4L1241.8 208.4L1242.3 210.3L1242.7 212.3L1243.1 214.3L1243.5 216.2L1243.9 218.2L1244.4 220.1L1244.8 222.1L1245.2 224.0L1245.6 226.0L1246.0 227.9L1246.4 229.9L1246.8 231.9L1247.2 233.8L1247.6 235.8L1248.0 237.7L1248.4 239.7L1248.8 241.7L1249.1 243.6L1249.5 245.6L1249.9 247.5L1250.3 249.5L1250.7 251.5L1251.1 253.4L1251.4 255.4L1251.8 257.4L1252.2 259.3L1252.6 261.3L1252.9 263.3L1253.3 265.2L1253.7 267.2L1254.0 269.2L1254.4 271.1L1254.8 273.1L1255.1 275.1L1255.5 277.0L1255.8 279.0L1256.2 281.0L1256.6 282.9L1256.9 284.9L1257.3 286.9L1257.6 288.8L1258.0 290.8L1258.3 292.8L1258.7 294.7L1259.0 296.7L1259.4 298.7L1259.7 300.6L1260.1 302.6L1260.4 304.6L1260.8 306.6L1261.1 308.5L1261.4 310.5L1261.8 312.5L1262.1 314.4L1262.5 316.4L1262.8 318.4L1263.1 320.4L1263.5 322.3L1263.8 324.3L1264.2 326.3L1264.5 328.2L1264.8 330.2L1265.2 332.2L1265.5 334.2L1265.8 336.1L1266.2 338.1L1266.5 340.1L1266.8 342.0L1267.2 344.0L1267.5 346.0L1267.8 348.0L1268.1 349.9L1268.5 351.9L1268.8 353.9L1269.1 355.9L1269.5 357.8L1269.8 359.8L1270.1 361.8L1270.5 363.8L1270.8 365.7L1271.1 367.7L1271.4 369.7L1271.8 371.6L1272.1 373.6L1272.4 375.6L1272.7 377.6L1273.1 379.5L1273.4 381.5L1273.7 383.5L1274.1 385.5L1274.4 387.4L1274.7 389.4L1275.0 391.4L1275.4 393.4L1275.7 395.3L1276.0 397.3L1276.3 399.3L1276.6 401.3L1277.0 403.2L1277.3 405.2L1277.6 407.2L1277.9 409.1L1278.3 411.1L1278.6 413.1L1278.9 415.1L1279.2 417.0L1279.5 419.0L1279.9 421.0L1280.2 423.0L1280.5 424.9L1280.8 426.9L1281.1 428.9L1281.5 430.9L1281.8 432.8L1282.1 434.8L1282.4 436.8L1282.7 438.8L1283.1 440.7L1283.4 442.7L1283.7 444.7L1284.0 446.7L1284.3 448.6L1284.7 450.6L1285.0 452.6L1285.3 454.6L1285.6 456.5L1285.9 458.5L1286.3 460.5L1286.6 462.5L1286.9 464.4L1287.2 466.4L1287.5 468.4L1287.8 470.4L1288.2 472.3L1288.5 474.3L1288.8 476.3L1289.1 478.3L1289.4 480.2L1289.7 482.2L1290.1 484.2L1290.4 486.2L1290.7 488.1L1291.0 490.1L1291.3 492.1L1291.6 494.1L1292.0 496.0L1292.3 498.0L1292.6 500.0L1292.9 502.0L1293.2 503.9L1293.5 505.9L1293.9 507.9L1294.2 509.9L1294.5 511.8L1294.8 513.8L1295.1 515.8L1295.4 517.8L1295.7 519.7L1296.1 521.7L1296.4 523.7L1296.7 525.6L1297.0 527.6L1297.3 529.6L1297.6 531.6L1298.0 533.5L1298.3 535.5L1298.6 537.5L1298.9 539.5L1299.2 541.4L1299.5 543.4L1299.9 545.4L1300.2 547.4L1300.5 549.3L1300.8 551.3L1301.1 553.3L1301.4 555.3L1301.7 557.2L1302.1 559.2L1302.4 561.2L1302.7 563.2L1303.0 565.1L1303.3 567.1L1303.6 569.1L1304.0 571.1L1304.3 573.0L1304.6 575.0L1304.9 577.0L1305.2 579.0L1305.6 580.9L1305.9 582.9L1306.2 584.9L1306.5 586.9L1306.8 588.8L1307.1 590.8L1307.5 592.8L1307.8 594.8L1308.1 596.7L1308.4 598.7L1308.7 600.7L1309.1 602.7L1309.4 604.6L1309.7 606.6L1310.0 608.6L1310.3 610.6L1310.6 612.5L1311.0 614.5L1311.3 616.5L1311.6 618.5L1311.9 620.4L1312.3 622.4L1312.6 624.4L1312.9 626.3L1313.2 628.3L1313.5 630.3L1313.9 632.3L1314.2 634.2L1314.5 636.2L1314.8 638.2L1315.1 640.2L1315.5 642.1L1315.8 644.1L1316.1 646.1L1316.4 648.1L1316.8 650.0L1317.1 652.0L1317.4 654.0L1317.7 656.0L1318.1 657.9L1318.4 659.9L1318.7 661.9L1319.0 663.8L1319.4 665.8L1319.7 667.8L1320.0 669.8L1320.3 671.7L1320.7 673.7L1321.0 675.7L1321.3 677.7L1321.7 679.6L1322.0 681.6L1322.3 683.6L1322.6 685.5L1323.0 687.5L1323.3 689.5L1323.6 691.5L1324.0 693.4L1324.3 695.4L1324.6 697.4L1325.0 699.4L1325.3 701.3L1325.6 703.3L1326.0 705.3L1326.3 707.2L1326.6 709.2L1327.0 711.2L1327.3 713.2L1327.6 715.1L1328.0 717.1L1328.3 719.1L1328.6 721.0L1329.0 723.0L1329.3 725.0L1329.6 727.0L1330.0 728.9L1330.3 730.9L1330.7 732.9L1331.0 734.8L1331.3 736.8L1331.7 738.8L1332.0 740.8L1332.3 742.7L1332.7 744.7L1333.0 746.7L1333.4 748.6L1333.7 750.6L1334.1 752.6L1334.4 754.6L1334.7 756.5L1335.1 758.5L1335.4 760.5L1335.8 762.4L1336.1 764.4L1336.5 766.4L1336.8 768.3L1337.2 770.3L1337.5 772.3L1337.9 774.3L1338.2 776.2L1338.6 778.2L1338.9 780.2L1339.3 782.1L1339.6 784.1L1340.0 786.1L1340.3 788.0L1340.7 790.0L1341.0 792.0L1341.4 793.9L1341.7 795.9L1342.1 797.9L1342.4 799.8L1342.8 801.8L1343.2 803.8L1343.5 805.7L1343.9 807.7L1344.2 809.7L1344.6 811.7L1345.0 813.6L1345.3 815.6L1345.7 817.6L1346.1 819.5L1346.4 821.5L1346.8 823.4L1347.2 825.4L1347.5 827.4L1347.9 829.3L1348.3 831.3L1348.7 833.3L1349.0 835.2L1349.4 837.2L1349.8 839.2L1350.2 841.1L1350.5 843.1L1350.9 845.1L1351.3 847.0L1351.7 849.0L1352.1 850.9L1352.5 852.9L1352.8 854.9L1353.2 856.8L1353.6 858.8L1354.0 860.8L1354.4 862.7L1354.8 864.7L1355.2 866.6L1355.6 868.6L1356.0 870.6L1356.4 872.5L1356.8 874.5L1357.2 876.4L1357.6 878.4L1358.0 880.4L1358.4 882.3L1358.8 884.3L1359.2 886.2L1359.6 888.2L1360.0 890.1L1360.4 892.1L1360.8 894.1L1361.3 896.0L1361.7 898.0L1362.1 899.9L1362.5 901.9L1362.9 903.8L1363.4 905.8L1363.8 907.7L1364.2 909.7L1364.7 911.6L1365.1 913.6L1365.5 915.5L1366.0 917.5L1366.4 919.5L1366.8 921.4L1367.3 923.4L1367.7 925.3L1368.2 927.3L1368.6 929.2L1369.0 931.2L1369.5 933.1L1370.0 935.0L1370.4 937.0L1370.9 938.9L1371.3 940.9L1371.8 942.8L1372.2 944.8L1372.7 946.7L1373.2 948.7L1373.6 950.6L1374.1 952.6L1374.6 954.5L1375.1 956.4L1375.5 958.4L1376.0 960.3L1376.5 962.3L1377.0 964.2L1377.5 966.2L1377.9 968.1L1378.4 970.0L1378.9 972.0L1379.4 973.9L1379.9 975.9L1380.4 977.8L1380.9 979.7L1381.4 981.7L1381.9 983.6L1382.4 985.5L1382.9 987.5L1383.4 989.4L1384.0 991.3L1384.5 993.3L1385.0 995.2L1385.5 997.1L1386.0 999.1L1386.6 1001.0L1387.1 1002.9L1387.6 1004.9L1388.2 1006.8L1388.7 1008.7L1389.2 1010.6L1389.8 1012.6L1390.3 1014.5L1390.9 1016.4L1391.4 1018.3L1392.0 1020.3L1392.5 1022.2L1393.1 1024.1L1393.7 1026.0L1394.2 1027.9L1394.8 1029.9L1395.4 1031.8L1395.9 1033.7L1396.5 1035.6L1397.1 1037.5L1397.7 1039.4L1398.3 1041.4L1398.8 1043.3L1399.4 1045.2L1400.0 1047.1L1400.6 1049.0L1401.2 1050.9L1401.8 1052.8L1402.4 1054.7L1403.0 1056.6L1403.6 1058.5L1404.3 1060.4L1404.9 1062.3L1405.5 1064.2L1406.1 1066.1L1406.7 1068.0L1407.4 1069.9L1408.0 1071.8L1408.6 1073.7L1409.3 1075.6L1409.9 1077.5L1410.6 1079.4L1411.2 1081.3L1411.9 1083.2L1412.5 1085.1L1413.2 1087.0L1413.9 1088.8L1414.5 1090.7L1415.2 1092.6L1415.9 1094.5L1416.5 1096.4L1417.2 1098.2L1417.9 1100.1L1418.6 1102.0L1419.3 1103.9L1420.0 1105.7L1420.7 1107.6L1421.4 1109.5L1422.1 1111.4L1422.8 1113.2L1423.5 1115.1L1424.2 1117.0L1424.9 1118.8L1425.6 1120.7L1426.4 1122.5L1427.1 1124.4L1427.8 1126.3L1428.6 1128.1L1429.3 1130.0L1430.0 1131.8L1430.8 1133.7L1431.5 1135.5L1432.3 1137.4L1433.1 1139.2L1433.8 1141.1L1434.6 1142.9L1435.4 1144.8L1436.1 1146.6L1436.9 1148.4L1437.7 1150.3L1438.5 1152.1L1439.3 1153.9L1440.1 1155.8L1440.9 1157.6L1441.7 1159.4L1442.5 1161.3L1443.3 1163.1L1444.1 1164.9L1444.9 1166.7L1445.7 1168.5L1446.6 1170.4L1447.4 1172.2L1448.2 1174.0L1449.1 1175.8L1449.9 1177.6L1450.8 1179.4L1451.6 1181.2L1452.5 1183.0L1453.3 1184.8L1454.2 1186.6L1455.1 1188.4L1455.9 1190.2L1456.8 1192.0L1457.7 1193.8L1458.6 1195.6L1459.4 1197.4L1460.3 1199.2L1461.2 1201.0L1462.1 1202.8L1463.0 1204.5L1463.9 1206.3L1464.9 1208.1L1465.8 1209.9L1466.7 1211.7L1467.6 1213.4L1468.5 1215.2L1469.5 1217.0L1470.4 1218.7L1471.3 1220.5L1472.3 1222.2L1473.2 1224.0L1474.2 1225.8L1475.1 1227.5L1476.1 1229.3L1477.1 1231.0L1478.0 1232.8L1479.0 1234.5L1480.0 1236.3L1481.0 1238.0L1482.0 1239.7L1483.0 1241.5L1484.0 1243.2L1485.0 1244.9L1486.0 1246.7L1487.0 1248.4L1488.0 1250.1L1489.0 1251.8L1490.0 1253.6L1491.0 1255.3L1492.1 1257.0L1493.1 1258.7L1494.1 1260.4L1495.2 1262.1L1496.2 1263.8L1497.3 1265.5L1498.3 1267.2L1499.4 1268.9L1500.5 1270.7L1501.5 1272.4L1502.6 1274.1L1503.7 1275.8L1504.8 1277.5L1505.8 1279.1L1506.9 1280.8L1508.0 1282.4L1509.1 1284.1L1510.2 1285.8L1511.3 1287.4L1512.4 1289.0L1513.6 1290.6L1514.7 1292.5L1515.8 1294.2L1516.9 1295.7L1518.1 1297.2L1519.2 1298.9L1520.4 1300.7L1521.5 1302.2L1522.7 1303.8L1523.8 1305.4L1525.0 1307.1L1526.2 1308.7L1527.3 1310.5L1528.5 1312.0L1529.7 1313.7L1530.9 1315.3L1532.1 1317.2L1533.3 1318.8L1534.5 1320.3L1535.7 1321.6L1536.9 1323.1L1538.1 1325.0L1539.3 1327.0L1540.6 1328.5L1541.8 1329.7L1543.1 1331.3L1544.3 1333.1L1545.5 1334.9L1546.8 1336.2L1548.1 1337.8L1549.3 1339.6L1550.6 1341.1L1551.9 1342.2L1553.2 1343.7L1554.5 1345.4L1555.8 1346.6L1557.1 1347.9L1558.4 1349.2L1559.7 1350.6L1561.0 1352.1L1562.4 1353.7L1563.7 1355.5L1565.0 1357.3L1566.4 1359.1L1567.7 1360.6L1569.1 1362.2L1570.5 1363.2L1571.8 1364.2L1573.2 1365.3L1574.6 1367.0L1576.0 1368.6L1577.4 1370.1L1578.8 1371.4L1580.2 1372.7L1581.6 1374.8L1583.0 1376.2L1584.5 1377.7L1585.9 1378.8L1587.3 1380.1L1588.8 1381.1L1590.3 1382.1L1591.7 1383.4L1593.2 1384.7L1594.7 1386.4L1596.2 1388.1L1597.6 1389.6L1599.1 1390.6L1600.7 1392.0L1602.2 1393.3L1603.7 1394.0L1605.2 1395.5L1606.7 1397.2L1608.3 1398.6L1609.8 1399.3L1611.4 1400.4L1613.0 1401.5L1614.5 1402.8L1616.1 1404.1L1617.7 1405.7L1619.3 1407.1L1620.9 1408.3L1622.5 1409.5L1624.1 1411.1L1625.7 1412.1L1627.3 1413.5L1628.9 1414.3L1630.6 1415.0L1632.2 1415.8L1633.8 1417.1L1635.5 1418.6L1637.1 1419.7L1638.8 1420.2L1640.5 1421.1L1642.1 1423.0L1643.8 1424.1L1645.5 1424.9L1647.2 1425.7L1648.9 1426.8L1650.6 1427.2L1652.3 1428.2L1654.0 1429.2L1655.7 1430.3L1657.4 1432.0L1659.2 1433.4L1660.9 1434.4L1662.6 1435.7L1664.4 1436.5L1666.1 1437.1L1667.9 1437.5L1669.6 1438.8L1671.4 1439.7L1673.1 1441.9L1674.9 1443.6L1676.7 1444.4L1678.4 1444.3L1680.2 1444.6L1682.0 1445.3L1683.8 1446.7L1685.6 1448.4L1687.4 1448.9L1689.2 1449.7L1691.0 1450.2L1692.8 1451.0L1694.6 1451.4L1696.4 1453.2L1698.2 1454.2L1700.1 1455.3L1701.9 1454.9L1703.7 1455.3L1705.5 1456.6L1707.4 1458.6L1709.2 1460.0L1711.1 1460.8L1712.9 1460.2L1714.8 1460.4L1716.6 1461.4L1718.5 1462.6L1720.3 1462.9L1722.2 1462.9L1724.0 1463.9L1725.9 1465.4L1727.8 1467.5L1729.6 1467.9L1731.5 1467.9L1733.4 1468.7L1735.3 1469.3L1737.1 1470.8L1739.0 1471.1L1740.9 1470.5L1742.8 1470.2L1744.7 1472.3L1746.6 1473.7L1748.5 1475.0L1750.4 1475.6L1752.3 1477.1L1754.2 1478.0L1756.1 1477.5L1758.0 1477.3L1759.9 1479.0L1761.8 1480.0L1763.7 1480.3L1765.6 1480.2L1767.5 1481.1L1769.4 1480.6L1771.3 1480.5L1773.2 1481.6L1775.2 1484.6L1777.1 1484.0L1779.0 1482.3L1780.9 1482.5L1782.8 1483.6L1784.8 1483.5L1786.7 1485.1L1788.6 1486.7L1790.5 1488.1L1792.5 1489.3L1794.4 1489.4L1796.3 1489.5L1798.2 1489.0L1800.2 1489.6L1802.1 1490.1L1804.0 1489.7L1806.0 1489.6L1807.9 1490.3L1809.8 1491.4L1811.8 1493.6L1813.7 1493.7L1815.7 1492.8L1817.6 1492.7L1819.5 1493.7L1821.5 1494.5L1823.4 1495.3L1825.4 1495.7L1827.3 1496.3L1829.3 1496.6L1831.2 1496.6L1833.2 1496.5L1835.1 1498.3L1837.1 1499.8L1839.0 1499.7L1841.0 1499.0L1842.9 1498.8L1844.9 1498.8L1846.8 1500.1L1848.8 1499.9L1850.8 1500.0L1852.7 1500.1L1854.7 1501.5L1856.6 1501.9L1858.6 1501.8L1860.6 1502.3L1862.5 1502.1L1864.5 1501.9L1866.4 1503.2L1868.4 1504.9L1870.4 1504.4L1872.3 1504.7L1874.3 1505.5L1876.3 1505.8L1878.2 1506.5L1880.2 1505.5L1882.2 1505.6L1884.2 1506.5L1886.1 1506.9L1888.1 1506.7L1890.1 1505.9L1892.0 1506.6L1894.0 1507.5L1896.0 1507.7L1898.0 1506.9L1899.9 1507.0L1901.9 1509.0L1903.9 1510.2L1905.9 1510.3L1907.9 1509.9L1909.8 1510.2L1911.8 1510.4L1913.8 1509.5L1915.8 1510.0L1917.8 1509.5L1919.7 1509.7L1921.7 1511.0L1923.7 1512.4L1925.7 1512.6L1927.7 1512.8L1929.7 1512.5L1931.6 1512.0L1933.6 1511.9L1935.6 1512.6L1937.6 1513.7L1939.6 1513.4L1941.6 1512.8L1943.6 1513.0L1945.5 1513.6L1947.5 1512.9L1949.5 1513.3L1951.5 1514.1L1953.5 1514.9L1955.5 1514.2L1957.5 1515.0L1959.5 1516.0L1961.4 1516.7L1963.4 1517.0L1965.4 1516.7L1967.4 1515.9L1969.4 1516.2L1971.4 1517.1L1973.4 1518.3L1975.4 1518.5L1977.4 1517.1L1979.4 1516.9L1981.4 1517.1L1983.3 1517.1L1985.3 1518.5L1987.3 1518.2L1989.3 1517.9L1991.3 1517.6L1993.3 1517.2L1995.3 1516.7L1997.3 1516.8L1999.3 1518.4L2001.3 1520.1L2003.3 1521.2L2005.3 1520.4L2007.3 1520.1L2009.3 1519.9L2011.2 1520.1L2013.2 1520.2L2015.2 1519.5L2017.2 1519.5L2019.2 1519.7L2021.2 1520.5L2023.2 1520.4L2025.2 1521.7L2027.2 1522.5L2029.2 1523.2L2031.2 1522.5L2033.2 1523.2L2035.2 1523.0L2037.2 1522.3L2039.2 1522.8L2041.2 1523.5L2043.2 1524.1L2045.2 1522.4L2047.2 1522.3L2049.2 1522.0L2051.2 1522.5L2053.2 1522.1L2055.1 1522.6L2057.1 1522.4L2059.1 1522.7L2061.1 1523.1L2063.1 1523.6L2065.1 1524.3L2067.1 1524.7L2069.1 1524.4L2071.1 1524.8L2073.1 1524.6L2075.1 1525.4L2077.1 1526.6L2079.1 1526.6L2081.1 1525.7L2083.1 1525.5L2085.1 1525.6L2087.1 1525.6L2089.1 1525.1L2091.1 1525.1L2093.1 1525.0L2095.1 1525.5L2097.1 1526.1L2099.1 1524.7L2101.1 1523.3L2103.1 1523.3L2105.1 1524.6L2107.1 1524.7L2109.1 1525.5L2111.1 1525.8L2113.1 1526.0L2115.1 1525.8L2117.1 1525.3L2119.1 1525.7L2121.1 1526.6L2123.1 1526.9L2125.1 1526.8L2127.1 1526.7L2129.1 1526.8L2131.1 1527.0L2133.1 1526.3L2135.1 1526.4L2137.1 1526.7L2139.1 1527.3L2141.1 1527.3L2143.1 1527.2L2145.1 1527.2L2147.1 1525.1L2149.1 1524.7L2151.1 1526.2L2153.1 1528.9L2155.0 1529.1L2157.0 1528.1L2159.0 1526.1L2161.0 1525.7L2163.0 1526.1L2164.0 1525.4"/>
<path stroke="#008000" d="M331.3 1532.3L333.3 1532.3L335.3 1532.4L337.3 1532.8L339.3 1532.7L341.3 1532.3L343.3 1531.7L345.3 1531.8L347.3 1531.9L349.3 1531.8L351.3 1531.9L353.3 1532.4L355.3 1532.3L357.3 1532.0L359.3 1532.1L361.3 1532.3L363.3 1532.1L365.3 1531.9L367.3 1532.1L369.3 1532.5L371.3 1532.9L373.3 1532.9L375.3 1532.7L377.3 1532.7L379.3 1532.7L381.3 1532.6L383.3 1532.8L385.3 1533.0L387.3 1532.7L389.3 1532.7L391.3 1532.6L393.3 1532.2L395.3 1532.0L397.3 1532.1L399.3 1532.2L401.3 1532.2L403.3 1532.5L405.3 1532.9L407.3 1532.9L409.3 1532.7L411.3 1532.5L413.3 1532.4L415.3 1532.6L417.3 1532.7L419.3 1532.7L421.3 1532.4L423.3 1532.1L425.3 1532.0L427.3 1532.4L429.3 1532.5L431.3 1532.5L433.3 1532.5L435.3 1532.6L437.3 1532.4L439.3 1532.1L441.3 1532.4L443.3 1532.5L445.3 1532.5L447.3 1532.5L449.3 1532.3L451.3 1532.4L453.3 1532.6L455.3 1532.8L457.3 1532.7L459.3 1532.5L461.3 1532.4L463.3 1532.5L465.3 1532.7L467.3 1532.6L469.3 1532.7L471.3 1532.4L473.3 1532.4L475.3 1532.4L477.3 1532.5L479.3 1532.4L481.3 1532.3L483.3 1532.3L485.3 1532.5L487.3 1532.3L489.3 1532.3L491.3 1532.6L493.3 1532.4L495.3 1532.4L497.3 1532.5L499.3 1532.6L501.3 1532.7L503.3 1532.7L505.3 1532.3L507.3 1531.8L509.3 1531.7L511.3 1532.2L513.3 1532.4L515.3 1532.1L517.3 1532.1L519.3 1532.2L521.3 1532.2L523.3 1532.0L525.3 1532.0L527.3 1532.0L529.3 1531.9L531.3 1532.3L533.2 1533.0L535.2 1532.7L537.2 1532.6L539.2 1532.0L541.2 1532.1L543.2 1532.4L545.2 1532.9L547.2 1532.6L549.2 1532.5L551.2 1532.0L553.2 1532.2L555.2 1532.4L557.2 1532.3L559.2 1532.4L561.2 1532.1L563.2 1532.0L565.2 1531.8L567.2 1532.0L569.3 1532.4L571.3 1532.5L573.3 1532.4L575.3 1532.3L577.3 1532.6L579.3 1532.6L581.3 1531.8L583.3 1531.7L585.3 1532.2L587.3 1532.6L589.3 1532.6L591.3 1532.5L593.3 1532.3L595.3 1532.2L597.3 1532.2L599.3 1532.0L601.3 1532.0L603.3 1532.1L605.3 1532.2L607.3 1532.2L609.3 1532.1L611.3 1532.1L613.3 1532.3L615.3 1532.4L617.3 1532.3L619.3 1532.4L621.3 1532.3L623.3 1532.4L625.3 1532.3L627.3 1532.2L629.3 1532.2L631.4 1532.3L633.4 1532.3L635.4 1532.3L637.4 1532.3L639.4 1532.4L641.4 1532.4L643.4 1532.4L645.4 1532.4L647.4 1532.3L649.4 1532.3L651.4 1532.3L653.4 1532.3L655.4 1532.2L657.4 1532.1L659.4 1532.1L661.4 1532.0L663.4 1531.8L665.4 1531.7L667.3 1531.6L669.3 1531.4L671.3 1531.2L673.3 1531.0L675.3 1530.7L677.2 1530.4L679.2 1530.1L681.2 1529.8L683.1 1529.4L685.1 1529.1L687.0 1528.6L689.0 1528.2L690.9 1527.7L692.8 1527.2L694.7 1526.7L696.7 1526.2L698.6 1525.6L700.5 1525.0L702.4 1524.4L704.3 1523.8L706.2 1523.1L708.1 1522.4L709.9 1521.7L711.8 1521.0L713.7 1520.2L715.5 1519.5L717.4 1518.7L719.2 1517.9L721.0 1517.1L722.8 1516.2L724.7 1515.4L726.5 1514.5L728.3 1513.6L730.1 1512.8L731.9 1511.9L733.7 1511.0L735.5 1510.1L737.3 1509.2L739.1 1508.4L740.9 1507.5L742.7 1506.6L744.5 1505.8L746.3 1504.9L748.1 1504.1L749.9 1503.3L751.8 1502.5L753.6 1501.8L755.5 1501.0L757.3 1500.3L759.2 1499.6L761.1 1499.0L763.0 1498.4L764.9 1497.8L766.8 1497.3L768.7 1496.8L770.7 1496.3L772.6 1495.9L774.6 1495.5L776.6 1495.1L778.5 1494.8L780.5 1494.5L782.5 1494.2L784.5 1494.0L786.5 1493.8L788.5 1493.7L790.5 1493.6L792.5 1493.5L794.5 1493.5L796.5 1493.5L798.5 1493.6L800.5 1493.7L802.6 1493.8L804.6 1494.0L806.6 1494.2L808.6 1494.5L810.5 1494.7L812.5 1495.0L814.5 1495.3L816.5 1495.7L818.5 1496.0L820.5 1496.3L822.5 1496.6L824.5 1496.9L826.4 1497.1L828.4 1497.4L830.4 1497.6L832.4 1497.7L834.4 1497.9L836.3 1497.9L838.3 1497.9L840.3 1497.9L842.2 1497.8L844.2 1497.5L846.2 1497.3L848.1 1496.9L850.1 1496.5L852.0 1495.9L853.9 1495.3L855.8 1494.6L857.7 1493.9L859.5 1493.0L861.3 1492.1L863.0 1491.1L864.7 1490.0L866.3 1488.9L867.9 1487.7L869.4 1486.4L870.8 1485.0L872.2 1483.6L873.5 1482.1L874.8 1480.6L876.0 1479.1L877.2 1477.4L878.3 1475.8L879.4 1474.1L880.4 1472.3L881.4 1470.6L882.4 1468.8L883.3 1467.0L884.2 1465.1L885.0 1463.3L885.9 1461.4L886.7 1459.5L887.5 1457.7L888.2 1455.8L889.0 1453.9L889.7 1452.0L890.4 1450.1L891.1 1448.2L891.7 1446.3L892.3 1444.4L893.0 1442.5L893.6 1440.6L894.2 1438.7L894.7 1436.8L895.3 1434.9L895.8 1433.0L896.3 1431.1L896.9 1429.2L897.4 1427.3L897.8 1425.3L898.3 1423.4L898.8 1421.5L899.2 1419.5L899.7 1417.6L900.1 1415.7L900.5 1413.7L901.0 1411.8L901.4 1409.8L901.8 1407.9L902.2 1405.9L902.6 1404.0L902.9 1402.0L903.3 1400.1L903.7 1398.1L904.1 1396.1L904.4 1394.2L904.8 1392.2L905.1 1390.2L905.5 1388.3L905.8 1386.3L906.1 1384.3L906.5 1382.3L906.8 1380.4L907.1 1378.4L907.5 1376.4L907.8 1374.4L908.1 1372.5L908.4 1370.5L908.8 1368.5L909.1 1366.5L909.4 1364.5L909.7 1362.6L910.0 1360.6L910.3 1358.6L910.6 1356.6L910.9 1354.7L911.2 1352.7L911.5 1350.7L911.8 1348.7L912.1 1346.7L912.4 1344.8L912.7 1342.8L913.0 1340.8L913.3 1338.8L913.6 1336.8L913.9 1334.9L914.2 1332.9L914.5 1330.9L914.7 1328.9L915.0 1326.9L915.3 1325.0L915.6 1323.0L915.9 1321.0L916.1 1319.0L916.4 1317.0L916.7 1315.0L916.9 1313.1L917.2 1311.1L917.5 1309.1L917.7 1307.1L918.0 1305.1L918.3 1303.1L918.5 1301.2L918.8 1299.2L919.0 1297.2L919.3 1295.2L919.5 1293.2L919.8 1291.2L920.1 1289.3L920.3 1287.3L920.5 1285.3L920.8 1283.3L921.0 1281.3L921.3 1279.3L921.5 1277.3L921.8 1275.4L922.0 1273.4L922.2 1271.4L922.5 1269.4L922.7 1267.4L922.9 1265.4L923.2 1263.4L923.4 1261.5L923.6 1259.5L923.8 1257.5L924.1 1255.5L924.3 1253.5L924.5 1251.5L924.7 1249.5L925.0 1247.5L925.2 1245.6L925.4 1243.6L925.6 1241.6L925.8 1239.6L926.0 1237.6L926.2 1235.6L926.5 1233.6L926.7 1231.6L926.9 1229.7L927.1 1227.7L927.3 1225.7L927.5 1223.7L927.7 1221.7L927.9 1219.7L928.1 1217.7L928.3 1215.7L928.5 1213.7L928.7 1211.8L928.9 1209.8L929.1 1207.8L929.3 1205.8L929.5 1203.8L929.6 1201.8L929.8 1199.8L930.0 1197.8L930.2 1195.8L930.4 1193.8L930.6 1191.9L930.8 1189.9L930.9 1187.9L931.1 1185.9L931.3 1183.9L931.5 1181.9L931.7 1179.9L931.8 1177.9L932.0 1175.9L932.2 1173.9L932.4 1171.9L932.5 1169.9L932.7 1168.0L932.9 1166.0L933.0 1164.0L933.2 1162.0L933.4 1160.0L933.5 1158.0L933.7 1156.0L933.9 1154.0L934.0 1152.0L934.2 1150.0L934.4 1148.0L934.5 1146.0L934.7 1144.0L934.8 1142.0L935.0 1140.1L935.2 1138.1L935.3 1136.1L935.5 1134.1L935.6 1132.1L935.8 1130.1L935.9 1128.1L936.1 1126.1L936.2 1124.1L936.4 1122.1L936.5 1120.1L936.7 1118.1L936.8 1116.1L937.0 1114.1L937.1 1112.1L937.3 1110.1L937.4 1108.1L937.5 1106.2L937.7 1104.2L937.8 1102.2L938.0 1100.2L938.1 1098.2L938.2 1096.2L938.4 1094.2L938.5 1092.2L938.7 1090.2L938.8 1088.2L938.9 1086.2L939.1 1084.2L939.2 1082.2L939.3 1080.2L939.5 1078.2L939.6 1076.2L939.7 1074.2L939.9 1072.2L940.0 1070.2L940.1 1068.2L940.2 1066.2L940.4 1064.3L940.5 1062.3L940.6 1060.3L940.8 1058.3L940.9 1056.3L941.0 1054.3L941.1 1052.3L941.3 1050.3L941.4 1048.3L941.5 1046.3L941.6 1044.3L941.7 1042.3L941.9 1040.3L942.0 1038.3L942.1 1036.3L942.2 1034.3L942.3 1032.3L942.5 1030.3L942.6 1028.3L942.7 1026.3L942.8 1024.3L942.9 1022.3L943.1 1020.3L943.2 1018.3L943.3 1016.3L943.4 1014.3L943.5 1012.3L943.6 1010.3L943.7 1008.3L943.9 1006.3L944.0 1004.4L944.1 1002.4L944.2 1000.4L944.3 998.4L944.4 996.4L944.5 994.4L944.6 992.4L944.8 990.4L944.9 988.4L945.0 986.4L945.1 984.4L945.2 982.4L945.3 980.4L945.4 978.4L945.5 976.4L945.6 974.4L945.7 972.4L945.8 970.4L946.0 968.4L946.1 966.4L946.2 964.4L946.3 962.4L946.4 960.4L946.5 958.4L946.6 956.4L946.7 954.4L946.8 952.4L946.9 950.4L947.0 948.4L947.1 946.4L947.2 944.4L947.3 942.4L947.4 940.4L947.6 938.4L947.7 936.4L947.8 934.4L947.9 932.4L948.0 930.4L948.1 928.4L948.2 926.4L948.3 924.5L948.4 922.5L948.5 920.5L948.6 918.5L948.7 916.5L948.8 914.5L948.9 912.5L949.0 910.5L949.1 908.5L949.2 906.5L949.3 904.5L949.4 902.5L949.5 900.5L949.6 898.5L949.8 896.5L949.9 894.5L950.0 892.5L950.1 890.5L950.2 888.5L950.3 886.5L950.4 884.5L950.5 882.5L950.6 880.5L950.7 878.5L950.8 876.5L950.9 874.5L951.0 872.5L951.1 870.5L951.2 868.5L951.3 866.5L951.4 864.5L951.5 862.5L951.6 860.5L951.7 858.5L951.8 856.5L951.9 854.5L952.0 852.5L952.1 850.5L952.2 848.5L952.3 846.5L952.4 844.6L952.5 842.6L952.6 840.6L952.7 838.6L952.9 836.6L953.0 834.6L953.1 832.6L953.2 830.6L953.3 828.6L953.4 826.6L953.5 824.6L953.6 822.6L953.7 820.6L953.8 818.6L953.9 816.6L954.0 814.6L954.1 812.6L954.2 810.6L954.3 808.6L954.4 806.6L954.5 804.6L954.6 802.6L954.7 800.6L954.8 798.6L954.9 796.6L955.0 794.6L955.1 792.6L955.2 790.6L955.3 788.6L955.4 786.6L955.5 784.6L955.6 782.6L955.7 780.6L955.8 778.6L955.9 776.6L956.0 774.6L956.1 772.6L956.2 770.7L956.3 768.7L956.4 766.7L956.5 764.7L956.6 762.7L956.7 760.7L956.8 758.7L956.9 756.7L957.0 754.7L957.1 752.7L957.2 750.7L957.3 748.7L957.4 746.7L957.5 744.7L957.6 742.7L957.7 740.7L957.8 738.7L957.9 736.7L958.0 734.7L958.1 732.7L958.2 730.7L958.3 728.7L958.4 726.7L958.5 724.7L958.6 722.7L958.7 720.7L958.8 718.7L958.9 716.7L959.0 714.7L959.1 712.7L959.2 710.7L959.3 708.7L959.4 706.7L959.5 704.7L959.6 702.7L959.7 700.7L959.8 698.7L959.9 696.8L960.0 694.8L960.1 692.8L960.2 690.8L960.3 688.8L960.4 686.8L960.5 684.8L960.6 682.8L960.7 680.8L960.8 678.8L960.8 676.8L960.9 674.8L961.0 672.8L961.1 670.8L961.2 668.8L961.3 666.8L961.4 664.8L961.5 662.8L961.6 660.8L961.7 658.8L961.8 656.8L961.9 654.8L962.0 652.8L962.1 650.8L962.2 648.8L962.3 646.8L962.4 644.8L962.5 642.8L962.6 640.8L962.7 638.8L962.8 636.8L962.9 634.8L963.0 632.8L963.1 630.8L963.2 628.8L963.3 626.8L963.4 624.8L963.5 622.8L963.5 620.8L963.6 618.8L963.7 616.9L963.8 614.9L963.9 612.9L964.0 610.9L964.1 608.9L964.2 606.9L964.3 604.9L964.4 602.9L964.5 600.9L964.6 598.9L964.7 596.9L964.8 594.9L964.9 592.9L965.0 590.9L965.1 588.9L965.2 586.9L965.3 584.9L965.3 582.9L965.4 580.9L965.5 578.9L965.6 576.9L965.7 574.9L965.8 572.9L965.9 570.9L966.0 568.9L966.1 566.9L966.2 564.9L966.3 562.9L966.4 560.9L966.5 558.9L966.6 556.9L966.7 554.9L966.7 552.9L966.8 550.9L966.9 548.9L967.0 546.9L967.1 544.9L967.2 542.9L967.3 540.9L967.4 538.9L967.5 536.9L967.6 534.9L967.7 532.9L967.8 530.9L967.9 528.9L968.0 527.0L968.0 525.0L968.1 523.0L968.2 521.0L968.3 519.0L968.4 517.0L968.5 515.0L968.6 513.0L968.7 511.0L968.8 509.0L968.9 507.0L969.0 505.0L969.1 503.0L969.2 501.0L969.3 499.0L969.3 497.0L969.4 495.0L969.5 493.0L969.6 491.0L969.7 489.0L969.8 487.0L969.9 485.0L970.0 483.0L970.1 481.0L970.2 479.0L970.3 477.0L970.4 475.0L970.5 473.0L970.6 471.0L970.7 469.0L970.8 467.0L970.9 465.0L970.9 463.0L971.0 461.0L971.1 459.0L971.2 457.0L971.3 455.0L971.4 453.0L971.5 451.0L971.6 449.0L971.7 447.0L971.8 445.0L971.9 443.0L972.0 441.0L972.1 439.0L972.2 437.0L972.3 435.0L972.4 433.0L972.5 431.0L972.6 429.1L972.7 427.1L972.8 425.1L972.9 423.1L973.0 421.1L973.1 419.1L973.2 417.1L973.3 415.1L973.4 413.1L973.5 411.1L973.6 409.1L973.7 407.1L973.8 405.1L973.9 403.1L974.0 401.1L974.1 399.1L974.2 397.1L974.3 395.1L974.4 393.1L974.5 391.1L974.6 389.1L974.7 387.1L974.8 385.1L974.9 383.1L975.0 381.1L975.1 379.1L975.2 377.1L975.3 375.1L975.4 373.1L975.5 371.1L975.6 369.1L975.7 367.1L975.8 365.1L975.9 363.1L976.0 361.1L976.2 359.1L976.3 357.1L976.4 355.1L976.5 353.1L976.6 351.1L976.7 349.2L976.8 347.2L976.9 345.2L977.0 343.2L977.1 341.2L977.2 339.2L977.4 337.2L977.5 335.2L977.6 333.2L977.7 331.2L977.8 329.2L977.9 327.2L978.0 325.2L978.1 323.2L978.3 321.2L978.4 319.2L978.5 317.2L978.6 315.2L978.7 313.2L978.8 311.2L979.0 309.2L979.1 307.2L979.2 305.2L979.3 303.2L979.4 301.2L979.5 299.2L979.7 297.2L979.8 295.2L979.9 293.2L980.0 291.2L980.1 289.3L980.3 287.3L980.4 285.3L980.5 283.3L980.6 281.3L980.8 279.3L980.9 277.3L981.0 275.3L981.1 273.3L981.3 271.3L981.4 269.3L981.5 267.3L981.6 265.3L981.8 263.3L981.9 261.3L982.0 259.3L982.2 257.3L982.3 255.3L982.4 253.3L982.5 251.3L982.7 249.3L982.8 247.3L982.9 245.3L983.1 243.4L983.2 241.4L983.3 239.4L983.5 237.4L983.6 235.4L983.8 233.4L983.9 231.4L984.0 229.4L984.2 227.4L984.3 225.4L984.4 223.4L984.6 221.4L984.7 219.4L984.9 217.4L985.0 215.4L985.1 213.4L985.3 211.4L985.4 209.4L985.6 207.4L985.7 205.4L985.9 203.5L986.0 201.5L986.2 199.5L986.3 197.5L986.5 195.5L986.6 193.5L986.8 191.5L986.9 189.5L987.1 187.5L987.2 185.5L987.4 183.5L987.6 181.5L987.7 179.5L987.9 177.5L988.1 175.5L988.2 173.6L988.4 171.6L988.6 169.6L988.8 167.6L988.9 165.6L989.1 163.6L989.3 161.6L989.5 159.6L989.7 157.6L989.9 155.6L990.1 153.6L990.3 151.7L990.5 149.7L990.8 147.7L991.0 145.7L991.2 143.7L991.4 141.7L991.7 139.7L991.9 137.7L992.1 135.8L992.4 133.8L992.7 131.8L992.9 129.8L993.2 127.8L993.5 125.8L993.7 123.9L994.0 121.9L994.3 119.9L994.6 117.9L994.9 115.9L995.2 114.0L995.5 112.0L995.8 110.0L996.2 108.0L996.5 106.1L996.8 104.1L997.2 102.1L997.5 100.1L997.8 98.2L998.2 96.2L998.5 94.2L998.9 92.2L999.2 90.3L999.5 88.3L999.8 86.3L1000.1 84.3L1000.4 82.4L1000.7 80.4L1001.0 78.4L1001.3 76.5L1001.6 74.5L1001.9 72.6L1002.2 70.6L1002.5 68.7L1002.8 66.7L1003.3 64.7L1004.0 62.6L1004.9 60.5L1005.9 58.7L1007.3 57.4L1008.8 57.0L1010.5 57.8L1012.1 59.1L1013.4 60.6L1014.4 62.2L1015.3 64.0L1015.9 65.9L1016.4 67.8L1016.9 69.7L1017.3 71.7L1017.7 73.7L1018.1 75.7L1018.5 77.6L1018.9 79.6L1019.3 81.6L1019.6 83.6L1020.0 85.5L1020.4 87.5L1020.8 89.5L1021.1 91.5L1021.5 93.4L1021.8 95.4L1022.2 97.4L1022.5 99.4L1022.9 101.3L1023.2 103.3L1023.5 105.3L1023.9 107.3L1024.2 109.3L1024.5 111.2L1024.8 113.2L1025.1 115.2L1025.4 117.2L1025.7 119.2L1026.0 121.2L1026.3 123.1L1026.6 125.1L1026.9 127.1L1027.2 129.1L1027.5 131.1L1027.8 133.1L1028.0 135.0L1028.3 137.0L1028.6 139.0L1028.8 141.0L1029.1 143.0L1029.4 145.0L1029.6 146.9L1029.9 148.9L1030.1 150.9L1030.4 152.9L1030.6 154.9L1030.8 156.9L1031.1 158.9L1031.3 160.8L1031.6 162.8L1031.8 164.8L1032.0 166.8L1032.2 168.8L1032.5 170.8L1032.7 172.8L1032.9 174.8L1033.1 176.7L1033.3 178.7L1033.6 180.7L1033.8 182.7L1034.0 184.7L1034.2 186.7L1034.4 188.7L1034.6 190.7L1034.8 192.7L1035.0 194.6L1035.2 196.6L1035.4 198.6L1035.6 200.6L1035.8 202.6L1036.0 204.6L1036.2 206.6L1036.4 208.6L1036.6 210.6L1036.8 212.5L1037.0 214.5L1037.2 216.5L1037.3 218.5L1037.5 220.5L1037.7 222.5L1037.9 224.5L1038.1 226.5L1038.3 228.5L1038.5 230.5L1038.6 232.5L1038.8 234.4L1039.0 236.4L1039.2 238.4L1039.4 240.4L1039.6 242.4L1039.7 244.4L1039.9 246.4L1040.1 248.4L1040.3 250.4L1040.5 252.4L1040.7 254.4L1040.9 256.3L1041.0 258.3L1041.2 260.3L1041.4 262.3L1041.6 264.3L1041.8 266.3L1042.0 268.3L1042.1 270.3L1042.3 272.3L1042.5 274.3L1042.7 276.3L1042.9 278.2L1043.1 280.2L1043.3 282.2L1043.4 284.2L1043.6 286.2L1043.8 288.2L1044.0 290.2L1044.2 292.2L1044.4 294.2L1044.6 296.2L1044.8 298.2L1044.9 300.1L1045.1 302.1L1045.3 304.1L1045.5 306.1L1045.7 308.1L1045.9 310.1L1046.1 312.1L1046.3 314.1L1046.4 316.1L1046.6 318.1L1046.8 320.0L1047.0 322.0L1047.2 324.0L1047.4 326.0L1047.6 328.0L1047.8 330.0L1048.0 332.0L1048.1 334.0L1048.3 336.0L1048.5 338.0L1048.7 340.0L1048.9 341.9L1049.1 343.9L1049.3 345.9L1049.5 347.9L1049.7 349.9L1049.9 351.9L1050.1 353.9L1050.2 355.9L1050.4 357.9L1050.6 359.9L1050.8 361.9L1051.0 363.8L1051.2 365.8L1051.4 367.8L1051.6 369.8L1051.8 371.8L1052.0 373.8L1052.2 375.8L1052.4 377.8L1052.5 379.8L1052.7 381.8L1052.9 383.8L1053.1 385.7L1053.3 387.7L1053.5 389.7L1053.7 391.7L1053.9 393.7L1054.1 395.7L1054.3 397.7L1054.5 399.7L1054.7 401.7L1054.9 403.7L1055.1 405.6L1055.3 407.6L1055.5 409.6L1055.7 411.6L1055.9 413.6L1056.0 415.6L1056.2 417.6L1056.4 419.6L1056.6 421.6L1056.8 423.6L1057.0 425.6L1057.2 427.5L1057.4 429.5L1057.6 431.5L1057.8 433.5L1058.0 435.5L1058.2 437.5L1058.4 439.5L1058.6 441.5L1058.8 443.5L1059.0 445.5L1059.2 447.4L1059.4 449.4L1059.6 451.4L1059.8 453.4L1060.0 455.4L1060.2 457.4L1060.4 459.4L1060.6 461.4L1060.8 463.4L1061.0 465.4L1061.2 467.4L1061.4 469.3L1061.6 471.3L1061.8 473.3L1062.0 475.3L1062.2 477.3L1062.4 479.3L1062.6 481.3L1062.8 483.3L1063.0 485.3L1063.2 487.3L1063.4 489.2L1063.6 491.2L1063.8 493.2L1064.0 495.2L1064.2 497.2L1064.4 499.2L1064.6 501.2L1064.8 503.2L1065.0 505.2L1065.2 507.2L1065.4 509.1L1065.6 511.1L1065.8 513.1L1066.0 515.1L1066.2 517.1L1066.4 519.1L1066.6 521.1L1066.8 523.1L1067.0 525.1L1067.3 527.1L1067.5 529.0L1067.7 531.0L1067.9 533.0L1068.1 535.0L1068.3 537.0L1068.5 539.0L1068.7 541.0L1068.9 543.0L1069.1 545.0L1069.3 546.9L1069.5 548.9L1069.7 550.9L1069.9 552.9L1070.1 554.9L1070.3 556.9L1070.5 558.9L1070.8 560.9L1071.0 562.9L1071.2 564.9L1071.4 566.8L1071.6 568.8L1071.8 570.8L1072.0 572.8L1072.2 574.8L1072.4 576.8L1072.6 578.8L1072.8 580.8L1073.0 582.8L1073.3 584.7L1073.5 586.7L1073.7 588.7L1073.9 590.7L1074.1 592.7L1074.3 594.7L1074.5 596.7L1074.7 598.7L1074.9 600.7L1075.1 602.6L1075.4 604.6L1075.6 606.6L1075.8 608.6L1076.0 610.6L1076.2 612.6L1076.4 614.6L1076.6 616.6L1076.8 618.6L1077.1 620.5L1077.3 622.5L1077.5 624.5L1077.7 626.5L1077.9 628.5L1078.1 630.5L1078.3 632.5L1078.6 634.5L1078.8 636.5L1079.0 638.4L1079.2 640.4L1079.4 642.4L1079.6 644.4L1079.9 646.4L1080.1 648.4L1080.3 650.4L1080.5 652.4L1080.7 654.3L1081.0 656.3L1081.2 658.3L1081.4 660.3L1081.6 662.3L1081.9 664.3L1082.1 666.3L1082.3 668.3L1082.6 670.2L1082.8 672.2L1083.0 674.2L1083.2 676.2L1083.5 678.2L1083.7 680.2L1083.9 682.2L1084.2 684.1L1084.4 686.1L1084.7 688.1L1084.9 690.1L1085.1 692.1L1085.4 694.1L1085.6 696.1L1085.9 698.0L1086.1 700.0L1086.4 702.0L1086.6 704.0L1086.9 706.0L1087.1 708.0L1087.4 709.9L1087.6 711.9L1087.9 713.9L1088.1 715.9L1088.4 717.9L1088.6 719.9L1088.9 721.8L1089.2 723.8L1089.4 725.8L1089.7 727.8L1090.0 729.8L1090.2 731.8L1090.5 733.7L1090.8 735.7L1091.1 737.7L1091.3 739.7L1091.6 741.7L1091.9 743.6L1092.2 745.6L1092.5 747.6L1092.7 749.6L1093.0 751.5L1093.3 753.5L1093.6 755.5L1093.9 757.5L1094.2 759.5L1094.5 761.4L1094.8 763.4L1095.1 765.4L1095.4 767.4L1095.7 769.3L1096.0 771.3L1096.3 773.3L1096.6 775.3L1097.0 777.2L1097.3 779.2L1097.6 781.2L1097.9 783.2L1098.2 785.1L1098.6 787.1L1098.9 789.1L1099.2 791.1L1099.6 793.0L1099.9 795.0L1100.2 797.0L1100.6 798.9L1100.9 800.9L1101.3 802.9L1101.6 804.9L1102.0 806.8L1102.3 808.8L1102.7 810.8L1103.0 812.7L1103.4 814.7L1103.8 816.7L1104.1 818.6L1104.5 820.6L1104.9 822.6L1105.2 824.5L1105.6 826.5L1106.0 828.5L1106.4 830.4L1106.8 832.4L1107.1 834.4L1107.5 836.3L1107.9 838.3L1108.3 840.2L1108.7 842.2L1109.1 844.2L1109.5 846.1L1109.9 848.1L1110.3 850.1L1110.7 852.0L1111.1 854.0L1111.5 855.9L1112.0 857.9L1112.4 859.8L1112.8 861.8L1113.2 863.8L1113.6 865.7L1114.1 867.7L1114.5 869.6L1114.9 871.6L1115.3 873.5L1115.8 875.5L1116.2 877.4L1116.7 879.4L1117.1 881.3L1117.5 883.3L1118.0 885.2L1118.4 887.2L1118.9 889.1L1119.4 891.1L1119.8 893.0L1120.3 894.9L1120.8 896.9L1121.2 898.8L1121.7 900.8L1122.2 902.7L1122.7 904.6L1123.2 906.6L1123.7 908.5L1124.2 910.4L1124.7 912.4L1125.2 914.3L1125.7 916.2L1126.3 918.2L1126.8 920.1L1127.3 922.0L1127.9 923.9L1128.5 925.8L1129.0 927.8L1129.6 929.7L1130.2 931.6L1130.8 933.5L1131.4 935.4L1132.0 937.3L1132.6 939.2L1133.2 941.1L1133.9 943.0L1134.5 944.9L1135.2 946.8L1135.9 948.7L1136.5 950.6L1137.2 952.4L1137.9 954.3L1138.6 956.2L1139.4 958.1L1140.1 959.9L1140.8 961.8L1141.6 963.7L1142.3 965.5L1143.1 967.4L1143.8 969.2L1144.6 971.1L1145.3 972.9L1146.1 974.8L1146.9 976.6L1147.7 978.5L1148.5 980.3L1149.2 982.2L1150.0 984.0L1150.8 985.8L1151.6 987.7L1152.4 989.5L1153.2 991.3L1154.0 993.1L1154.8 994.9L1155.7 996.6L1156.7 998.3L1157.8 999.9L1159.1 1001.3L1160.6 1002.7L1162.3 1003.9L1164.0 1005.1L1165.6 1006.3L1167.1 1007.7L1168.2 1009.3L1169.0 1011.2L1169.6 1013.2L1170.0 1015.2L1170.4 1017.3L1170.9 1019.4L1171.4 1021.4L1172.0 1023.2L1172.7 1025.1L1173.4 1026.9L1174.1 1028.6L1174.9 1030.4L1175.7 1032.2L1176.4 1034.0L1177.2 1035.8L1177.9 1037.6L1178.7 1039.4L1179.4 1041.2L1180.2 1043.1L1180.9 1044.9L1181.6 1046.8L1182.4 1048.7L1183.1 1050.6L1183.8 1052.5L1184.5 1054.4L1185.3 1056.3L1186.0 1058.2L1186.7 1060.1L1187.4 1062.0L1188.1 1063.9L1188.8 1065.9L1189.5 1067.8L1190.2 1069.7L1190.9 1071.6L1191.6 1073.5L1192.3 1075.4L1193.0 1077.3L1193.7 1079.2L1194.4 1081.1L1195.1 1083.0L1195.8 1084.9L1196.5 1086.8L1197.2 1088.7L1197.9 1090.6L1198.6 1092.5L1199.3 1094.3L1200.0 1096.2L1200.7 1098.1L1201.4 1099.9L1202.1 1101.8L1202.8 1103.7L1203.5 1105.5L1204.1 1107.4L1204.8 1109.2L1205.5 1111.1L1206.2 1112.9L1206.9 1114.8L1207.6 1116.6L1208.3 1118.5L1209.0 1120.3L1209.6 1122.2L1210.3 1124.0L1211.0 1125.8L1211.7 1127.7L1212.4 1129.5L1213.1 1131.3L1213.7 1133.2L1214.4 1135.0L1215.1 1136.8L1215.8 1138.7L1216.5 1140.5L1217.2 1142.3L1217.8 1144.2L1218.5 1146.0L1219.2 1147.8L1219.9 1149.6L1220.6 1151.5L1221.2 1153.3L1221.9 1155.1L1222.6 1157.0L1223.3 1158.8L1223.9 1160.6L1224.6 1162.5L1225.3 1164.3L1226.0 1166.1L1226.6 1168.0L1227.3 1169.8L1228.0 1171.7L1228.7 1173.5L1229.3 1175.3L1230.0 1177.2L1230.7 1179.0L1231.4 1180.9L1232.0 1182.7L1232.7 1184.6L1233.4 1186.5L1234.1 1188.3L1234.7 1190.2L1235.4 1192.0L1236.1 1193.9L1236.7 1195.8L1237.4 1197.7L1238.1 1199.5L1238.8 1201.4L1239.4 1203.3L1240.1 1205.2L1240.8 1207.1L1241.4 1209.0L1242.1 1210.8L1242.8 1212.7L1243.5 1214.6L1244.1 1216.5L1244.8 1218.4L1245.5 1220.3L1246.2 1222.2L1246.9 1224.1L1247.5 1226.1L1248.2 1228.0L1248.9 1229.9L1249.6 1231.8L1250.3 1233.7L1250.9 1235.6L1251.6 1237.5L1252.3 1239.4L1253.0 1241.4L1253.7 1243.3L1254.4 1245.2L1255.1 1247.1L1255.8 1249.0L1256.5 1250.9L1257.2 1252.9L1257.9 1254.8L1258.6 1256.7L1259.4 1258.6L1260.1 1260.5L1260.8 1262.4L1261.5 1264.3L1262.2 1266.3L1263.0 1268.2L1263.7 1270.1L1264.4 1272.0L1265.2 1273.9L1265.9 1275.8L1266.7 1277.7L1267.4 1279.6L1268.2 1281.5L1268.9 1283.4L1269.7 1285.3L1270.5 1287.2L1271.2 1289.1L1272.0 1291.0L1272.8 1292.9L1273.6 1294.8L1274.4 1296.6L1275.2 1298.5L1276.0 1300.4L1276.8 1302.3L1277.6 1304.2L1278.4 1306.0L1279.2 1307.9L1280.0 1309.7L1280.9 1311.6L1281.7 1313.5L1282.5 1315.3L1283.4 1317.2L1284.2 1319.0L1285.1 1320.8L1286.0 1322.7L1286.8 1324.5L1287.7 1326.3L1288.6 1328.1L1289.5 1330.0L1290.4 1331.8L1291.3 1333.6L1292.2 1335.4L1293.1 1337.2L1294.0 1339.0L1295.0 1340.7L1295.9 1342.5L1296.9 1344.3L1297.8 1346.1L1298.8 1347.8L1299.7 1349.6L1300.7 1351.3L1301.7 1353.1L1302.7 1354.8L1303.7 1356.5L1304.7 1358.3L1305.7 1360.0L1306.7 1361.7L1307.7 1363.4L1308.8 1365.1L1309.8 1366.8L1310.9 1368.4L1311.9 1370.1L1313.0 1371.8L1314.1 1373.4L1315.2 1375.1L1316.3 1376.7L1317.4 1378.4L1318.5 1380.0L1319.6 1381.6L1320.8 1383.2L1321.9 1384.8L1323.1 1386.4L1324.2 1388.0L1325.4 1389.6L1326.6 1391.2L1327.8 1392.7L1329.0 1394.3L1330.2 1395.8L1331.4 1397.3L1332.7 1398.9L1333.9 1400.4L1335.2 1401.9L1336.4 1403.4L1337.7 1404.9L1339.0 1406.3L1340.3 1407.8L1341.6 1409.2L1342.9 1410.7L1344.3 1412.1L1345.6 1413.5L1347.0 1415.0L1348.3 1416.4L1349.7 1417.7L1351.1 1419.1L1352.5 1420.5L1353.9 1421.8L1355.3 1423.2L1356.8 1424.5L1358.2 1425.8L1359.7 1427.2L1361.1 1428.5L1362.6 1429.7L1364.1 1431.0L1365.6 1432.3L1367.1 1433.5L1368.7 1434.8L1370.2 1436.0L1371.8 1437.2L1373.3 1438.4L1374.9 1439.6L1376.5 1440.8L1378.1 1442.0L1379.7 1443.1L1381.3 1444.3L1383.0 1445.4L1384.6 1446.5L1386.3 1447.6L1387.9 1448.7L1389.6 1449.8L1391.3 1450.9L1393.0 1452.0L1394.7 1453.0L1396.4 1454.1L1398.1 1455.1L1399.8 1456.1L1401.5 1457.2L1403.3 1458.2L1405.0 1459.2L1406.8 1460.1L1408.5 1461.1L1410.3 1462.1L1412.1 1463.0L1413.9 1464.0L1415.7 1464.9L1417.4 1465.8L1419.2 1466.7L1421.1 1467.6L1422.9 1468.5L1424.7 1469.4L1426.5 1470.3L1428.3 1471.1L1430.2 1472.0L1432.0 1472.8L1433.9 1473.7L1435.7 1474.5L1437.6 1475.3L1439.4 1476.1L1441.3 1476.9L1443.1 1477.7L1445.0 1478.5L1446.9 1479.3L1448.7 1480.0L1450.6 1480.8L1452.5 1481.5L1454.4 1482.3L1456.3 1483.0L1458.2 1483.7L1460.0 1484.4L1461.9 1485.1L1463.8 1485.8L1465.7 1486.5L1467.6 1487.2L1469.5 1487.8L1471.4 1488.5L1473.3 1489.1L1475.2 1489.8L1477.1 1490.4L1479.0 1491.0L1480.9 1491.7L1482.8 1492.3L1484.8 1492.9L1486.7 1493.5L1488.6 1494.1L1490.5 1494.6L1492.4 1495.2L1494.3 1495.8L1496.3 1496.4L1498.2 1497.0L1500.1 1497.5L1502.0 1498.0L1504.0 1498.5L1505.9 1499.0L1507.8 1499.5L1509.7 1500.0L1511.7 1500.5L1513.6 1501.0L1515.5 1501.6L1517.5 1502.1L1519.4 1502.7L1521.3 1503.3L1523.3 1503.7L1525.2 1504.0L1527.2 1504.5L1529.1 1505.1L1531.0 1505.6L1533.0 1505.8L1534.9 1506.2L1536.9 1506.6L1538.8 1507.3L1540.8 1507.6L1542.7 1507.9L1544.7 1508.1L1546.6 1508.7L1548.6 1509.2L1550.5 1509.7L1552.5 1509.9L1554.4 1510.5L1556.4 1510.7L1558.3 1510.9L1560.3 1511.3L1562.2 1511.6L1564.2 1511.9L1566.1 1512.3L1568.1 1512.8L1570.1 1513.5L1572.0 1514.0L1574.0 1514.4L1575.9 1514.4L1577.9 1514.7L1579.9 1514.7L1581.8 1515.1L1583.8 1515.7L1585.7 1516.4L1587.7 1516.7L1589.7 1516.9L1591.6 1517.3L1593.6 1517.3L1595.6 1517.3L1597.5 1517.6L1599.5 1517.9L1601.5 1518.2L1603.4 1518.4L1605.4 1518.5L1607.4 1518.8L1609.4 1519.3L1611.3 1519.6L1613.3 1520.2L1615.3 1521.0L1617.2 1521.2L1619.2 1521.2L1621.2 1521.2L1623.2 1521.4L1625.1 1521.6L1627.1 1521.6L1629.1 1521.7L1631.1 1522.3L1633.1 1522.5L1635.0 1523.0L1637.0 1523.4L1639.0 1523.5L1641.0 1523.6L1642.9 1523.8L1644.9 1524.3L1646.9 1524.9L1648.9 1524.9L1650.9 1524.9L1652.9 1525.5L1654.8 1526.0L1656.8 1525.8L1658.8 1525.6L1660.8 1525.6L1662.8 1526.0L1664.8 1526.4L1666.7 1526.5L1668.7 1526.6L1670.7 1526.3L1672.7 1526.4L1674.7 1526.4L1676.7 1527.2L1678.7 1527.1L1680.7 1527.6L1682.7 1527.7L1684.6 1527.7L1686.6 1528.0L1688.6 1527.7L1690.6 1527.3L1692.6 1527.9L1694.6 1528.3L1696.6 1529.3L1698.6 1528.9L1700.6 1528.6L1702.6 1528.7L1704.6 1529.2L1706.6 1529.1L1708.6 1529.0L1710.6 1529.2L1712.6 1529.4L1714.6 1530.0L1716.5 1530.5L1718.5 1530.2L1720.5 1529.5L1722.5 1529.5L1724.5 1530.5L1726.5 1530.0L1728.5 1529.3L1730.5 1529.3L1732.5 1530.1L1734.5 1530.2L1736.5 1530.2L1738.5 1530.4L1740.5 1531.2L1742.5 1531.2L1744.5 1531.1L1746.5 1530.7L1748.5 1530.9L1750.5 1531.3L1752.5 1531.3L1754.5 1531.1L1756.5 1531.0L1758.6 1530.8L1760.6 1531.1L1762.6 1532.1L1764.6 1532.4L1766.6 1532.1L1768.6 1531.0L1770.6 1530.7L1772.6 1531.1L1774.6 1531.9L1776.6 1532.1L1778.6 1532.0L1780.6 1531.9L1782.6 1531.9L1784.6 1532.2L1786.6 1532.6L1788.6 1532.6L1790.6 1532.2L1792.6 1532.2L1794.7 1532.7L1796.7 1532.6L1798.7 1532.3L1800.7 1532.7L1802.7 1532.7L1804.7 1532.4L1806.7 1531.8L1808.7 1532.4L1810.7 1531.8L1812.7 1532.0L1814.7 1532.7L1816.7 1532.6L1818.8 1532.4L1820.8 1532.4L1822.8 1532.8L1824.8 1532.5L1826.8 1532.2L1828.8 1532.8L1830.8 1532.5L1832.8 1531.6L1834.8 1531.8L1836.8 1532.2L1838.9 1531.7L1840.9 1531.4L1842.9 1531.5L1844.9 1531.5L1846.9 1532.1L1848.9 1533.0L1850.9 1533.7L1852.9 1533.2L1854.9 1532.8L1857.0 1532.9L1859.0 1532.3L1861.0 1531.8L1863.0 1532.1L1865.0 1532.8L1867.0 1532.5L1869.0 1532.1L1871.0 1532.2L1873.1 1531.8L1875.1 1531.7L1877.1 1532.1L1879.1 1532.6L1881.1 1531.9L1883.1 1531.1L1885.1 1531.3L1887.1 1531.6L1889.1 1531.8L1891.2 1531.6L1893.2 1531.6L1895.2 1532.0L1897.2 1531.9L1899.2 1531.7L1901.2 1530.9L1903.2 1530.9L1905.2 1531.2L1907.2 1531.4L1909.3 1530.9L1911.3 1531.0L1913.3 1531.4L1915.3 1531.8L1917.3 1531.0L1919.3 1530.7L1921.3 1531.0L1923.3 1531.6L1925.3 1532.0L1927.4 1531.1L1929.4 1530.6L1931.4 1530.2L1933.4 1530.2L1935.4 1530.5L1937.4 1530.3L1939.4 1530.7L1941.4 1531.6L1943.4 1531.8L1945.5 1531.6L1947.5 1531.6L1949.5 1531.7L1951.5 1532.2L1953.5 1531.7L1955.5 1530.5L1957.5 1530.2L1959.5 1530.7L1961.5 1530.9L1963.5 1529.9L1965.5 1530.0L1967.5 1529.5L1969.6 1529.9L1971.6 1530.8L1973.6 1531.6L1975.6 1531.1L1977.6 1530.9L1979.6 1531.1L1981.6 1531.6L1983.6 1531.4L1985.6 1530.9L1987.6 1530.8L1989.6 1530.5L1991.6 1530.2L1993.6 1530.2L1995.6 1530.5L1997.6 1530.3L1999.6 1529.9L2001.7 1530.2L2003.7 1529.8L2005.7 1529.4L2007.7 1529.8L2009.7 1530.9L2011.7 1531.3L2013.7 1531.0L2015.7 1529.8L2017.7 1529.1L2019.7 1528.9L2021.7 1529.2L2023.7 1529.7L2025.7 1529.4L2027.7 1529.9L2029.7 1530.3L2031.7 1530.8L2033.7 1530.8L2035.7 1530.7L2037.7 1530.5L2039.7 1530.6L2041.7 1530.0L2043.7 1529.7L2045.7 1529.7L2047.7 1530.2L2049.7 1530.4L2051.7 1530.3L2053.7 1529.1L2055.7 1529.3L2057.6 1529.9L2059.6 1530.2L2061.6 1530.8L2063.6 1531.1L2065.6 1531.2L2067.6 1530.5L2069.6 1529.8L2071.6 1529.5L2073.6 1529.6L2075.6 1529.5L2077.6 1529.3L2079.6 1530.3L2081.6 1531.0L2083.6 1531.3L2085.5 1531.4L2087.5 1531.4L2089.5 1531.1L2091.5 1531.0L2093.5 1530.8L2095.5 1530.2L2097.5 1529.7L2099.5 1530.9L2101.4 1531.1L2103.4 1531.1L2105.4 1530.3L2107.4 1530.3L2109.4 1531.2L2111.4 1531.6L2113.3 1531.3L2115.3 1530.0L2117.3 1530.0L2119.3 1530.8L2121.3 1531.9L2123.3 1532.7L2125.2 1532.1L2127.2 1531.4L2129.2 1530.6L2131.2 1531.0L2133.2 1531.1L2135.1 1531.3L2137.1 1531.6L2139.1 1532.1L2141.1 1532.1L2143.0 1532.4L2145.0 1532.6L2147.0 1532.7L2149.0 1532.3L2150.9 1532.1L2152.9 1531.6L2154.9 1531.7L2156.8 1531.8L2158.8 1532.8L2160.8 1533.4L2162.8 1532.9L2164.0 1532.7"/>
</g>
<text class="tk" transform="translate(278.5 1553.6) scale(1 1.065)" text-anchor="end">0.0</text><text class="tk" transform="translate(278.5 1405.8) scale(1 1.065)" text-anchor="end">0.1</text><text class="tk" transform="translate(278.5 1257.9) scale(1 1.065)" text-anchor="end">0.2</text><text class="tk" transform="translate(278.5 1110.1) scale(1 1.065)" text-anchor="end">0.3</text><text class="tk" transform="translate(278.5 962.3) scale(1 1.065)" text-anchor="end">0.4</text><text class="tk" transform="translate(278.5 814.4) scale(1 1.065)" text-anchor="end">0.5</text><text class="tk" transform="translate(278.5 666.6) scale(1 1.065)" text-anchor="end">0.6</text><text class="tk" transform="translate(278.5 518.8) scale(1 1.065)" text-anchor="end">0.7</text><text class="tk" transform="translate(278.5 371.0) scale(1 1.065)" text-anchor="end">0.8</text><text class="tk" transform="translate(278.5 223.1) scale(1 1.065)" text-anchor="end">0.9</text><text class="tk" transform="translate(278.5 75.3) scale(1 1.065)" text-anchor="end">1.0</text><text class="tk" transform="translate(332.0 1639.6) scale(1 1.065)" text-anchor="middle">400</text><text class="tk" transform="translate(515.0 1639.6) scale(1 1.065)" text-anchor="middle">450</text><text class="tk" transform="translate(698.1 1639.6) scale(1 1.065)" text-anchor="middle">500</text><text class="tk" transform="translate(881.1 1639.6) scale(1 1.065)" text-anchor="middle">550</text><text class="tk" transform="translate(1064.1 1639.6) scale(1 1.065)" text-anchor="middle">600</text><text class="tk" transform="translate(1247.2 1639.6) scale(1 1.065)" text-anchor="middle">650</text><text class="tk" transform="translate(1430.2 1639.6) scale(1 1.065)" text-anchor="middle">700</text><text class="tk" transform="translate(1613.2 1639.6) scale(1 1.065)" text-anchor="middle">750</text><text class="tk" transform="translate(1796.2 1639.6) scale(1 1.065)" text-anchor="middle">800</text><text class="tk" transform="translate(1979.3 1639.6) scale(1 1.065)" text-anchor="middle">850</text><text class="tk" transform="translate(2162.3 1639.6) scale(1 1.065)" text-anchor="middle">900</text>
<text style="font-kerning:normal" class="tt" transform="translate(971.8 1765.5) scale(1 1.065)">Wavelength, nm</text>
<text class="tt" transform="translate(97.3 1201.0) rotate(-90) scale(1 1.065)">Normalized intensity, rel.u.</text>
<path d="M1700.3 88.6H1878.9" stroke="#000000" stroke-width="7.1" fill="none" stroke-dasharray="18.8 15.05"/><text class="lg" transform="translate(1894.0 115.0) scale(1 1.065)">A</text><path d="M1700.3 184.1H1878.9" stroke="#0000ff" stroke-width="7.1" fill="none" stroke-dasharray="18.8 15.05"/><text class="lg" transform="translate(1894.0 211.1) scale(1 1.065)">B</text><path d="M1700.3 279.6H1878.9" stroke="#ff0000" stroke-width="7.1" fill="none" stroke-dasharray="18.8 15.05"/><text class="lg" transform="translate(1894.0 304.2) scale(1 1.065)">C</text><path d="M1700.3 375.2H1878.9" stroke="#000000" stroke-width="7.1" fill="none"/><text class="lg" transform="translate(1894.0 404.5) scale(1 1.065)">A'</text><path d="M1700.3 470.9H1878.9" stroke="#0000ff" stroke-width="7.1" fill="none"/><text class="lg" transform="translate(1894.0 500.4) scale(1 1.065)">B'</text><path d="M1700.3 564.2H1878.9" stroke="#ff0000" stroke-width="7.1" fill="none"/><text class="lg" transform="translate(1894.0 593.0) scale(1 1.065)">C'</text><path d="M1700.3 659.5H1878.9" stroke="#008000" stroke-width="7.1" fill="none"/><text class="lg" transform="translate(1894.0 686.8) scale(1 1.065)">Rh-B</text>
</svg></body></html>
